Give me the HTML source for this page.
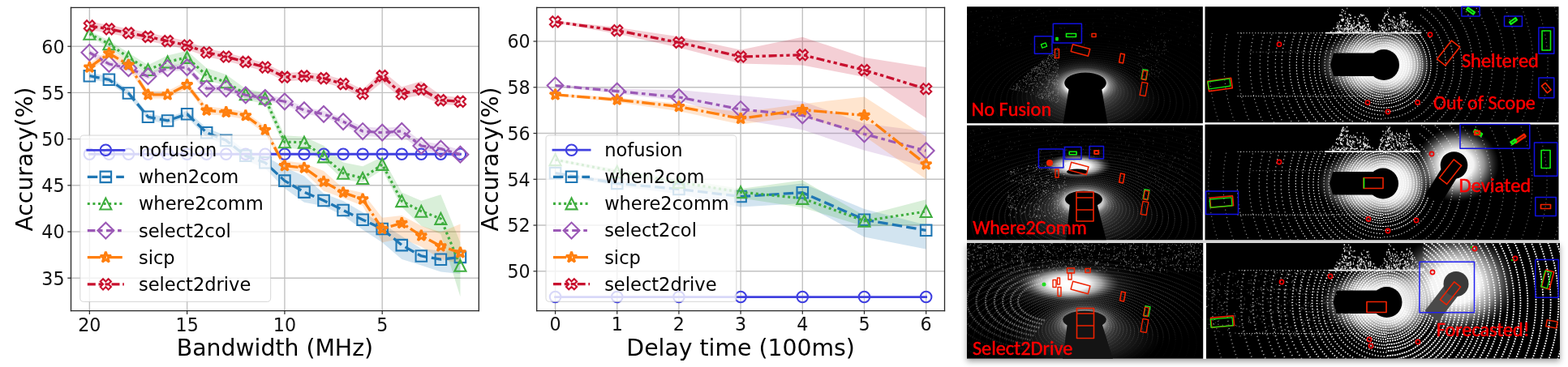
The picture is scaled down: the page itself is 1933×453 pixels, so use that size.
<!DOCTYPE html>
<html><head><meta charset="utf-8"><title>figure</title>
<style>
html,body{margin:0;padding:0;background:#fff;}
body{width:1933px;height:453px;position:relative;overflow:hidden;}
.plots{position:absolute;left:0;top:0;}
.panel{position:absolute;left:0;top:0;}
.shadow{position:absolute;left:1192px;top:300px;width:731px;height:142.7px;background:#fff;box-shadow:0 3px 7px rgba(0,0,0,0.38);}
.plots svg text{font-family:"DejaVu Sans",sans-serif;}
.panel svg text{font-family:Carlito,"Liberation Sans",Arial,sans-serif;}
svg{display:block;}
</style></head><body>
<div class="shadow"></div>
<div class="plots"><svg width="1933" height="453" viewBox="0 0 1933 453" version="1.1"> <defs> <style type="text/css">*{stroke-linejoin: round; stroke-linecap: butt}</style> </defs> <g id="figure_1"> <g id="patch_1"> <path d="M 0 453 L 1933 453 L 1933 0 L 0 0 L 0 453 z " style="fill: none; opacity: 0"/> </g> <g id="axes_1"> <g id="patch_2"> <path d="M 87.5 383.7 L 590.3 383.7 L 590.3 9.3 L 87.5 9.3 L 87.5 383.7 z " style="fill: none"/> </g> <g id="matplotlib.axis_1"> <g id="xtick_1"> <g id="line2d_1"> <path d="M 110.35 383.7 L 110.35 9.3 " clip-path="url(#p4d4e96e5f6)" style="fill: none; stroke: #c2c2c2; stroke-width: 1.4; stroke-linecap: square"/> </g> <g id="line2d_2"> <g> <path d="M 0 0 L 0 4.2 " transform="translate(110.35 383.7)" style="fill: #262626; stroke: #262626; stroke-width: 1.2; stroke: #262626; stroke-width: 1.2"/> </g> </g> <g id="text_1"> <text style="font-size: 22.2px; font-family: 'DejaVu Sans'; text-anchor: middle; fill: #111111" x="110.35" y="408.56" transform="rotate(-0 110.35 408.56)">20</text> </g> </g> <g id="xtick_2"> <g id="line2d_3"> <path d="M 230.64 383.7 L 230.64 9.3 " clip-path="url(#p4d4e96e5f6)" style="fill: none; stroke: #c2c2c2; stroke-width: 1.4; stroke-linecap: square"/> </g> <g id="line2d_4"> <g> <path d="M 0 0 L 0 4.2 " transform="translate(230.64 383.7)" style="fill: #262626; stroke: #262626; stroke-width: 1.2; stroke: #262626; stroke-width: 1.2"/> </g> </g> <g id="text_2"> <text style="font-size: 22.2px; font-family: 'DejaVu Sans'; text-anchor: middle; fill: #111111" x="230.64" y="408.56" transform="rotate(-0 230.64 408.56)">15</text> </g> </g> <g id="xtick_3"> <g id="line2d_5"> <path d="M 350.92 383.7 L 350.92 9.3 " clip-path="url(#p4d4e96e5f6)" style="fill: none; stroke: #c2c2c2; stroke-width: 1.4; stroke-linecap: square"/> </g> <g id="line2d_6"> <g> <path d="M 0 0 L 0 4.2 " transform="translate(350.92 383.7)" style="fill: #262626; stroke: #262626; stroke-width: 1.2; stroke: #262626; stroke-width: 1.2"/> </g> </g> <g id="text_3"> <text style="font-size: 22.2px; font-family: 'DejaVu Sans'; text-anchor: middle; fill: #111111" x="350.92" y="408.56" transform="rotate(-0 350.92 408.56)">10</text> </g> </g> <g id="xtick_4"> <g id="line2d_7"> <path d="M 471.21 383.7 L 471.21 9.3 " clip-path="url(#p4d4e96e5f6)" style="fill: none; stroke: #c2c2c2; stroke-width: 1.4; stroke-linecap: square"/> </g> <g id="line2d_8"> <g> <path d="M 0 0 L 0 4.2 " transform="translate(471.21 383.7)" style="fill: #262626; stroke: #262626; stroke-width: 1.2; stroke: #262626; stroke-width: 1.2"/> </g> </g> <g id="text_4"> <text style="font-size: 22.2px; font-family: 'DejaVu Sans'; text-anchor: middle; fill: #111111" x="471.21" y="408.56" transform="rotate(-0 471.21 408.56)">5</text> </g> </g> <g id="text_5"> <text style="font-size: 28.3px; font-family: 'DejaVu Sans'; text-anchor: middle" x="338.9" y="438.78" transform="rotate(-0 338.9 438.78)">Bandwidth (MHz)</text> </g> </g> <g id="matplotlib.axis_2"> <g id="ytick_1"> <g id="line2d_9"> <path d="M 87.5 343.20 L 590.3 343.20 " clip-path="url(#p4d4e96e5f6)" style="fill: none; stroke: #c2c2c2; stroke-width: 1.4; stroke-linecap: square"/> </g> <g id="line2d_10"> <g> <path d="M 0 0 L -4.2 0 " transform="translate(87.5 343.20)" style="fill: #262626; stroke: #262626; stroke-width: 1.2; stroke: #262626; stroke-width: 1.2"/> </g> </g> <g id="text_6"> <text style="font-size: 22.2px; font-family: 'DejaVu Sans'; text-anchor: end; fill: #111111" x="79.5" y="351.64" transform="rotate(-0 79.5 351.64)">35</text> </g> </g> <g id="ytick_2"> <g id="line2d_11"> <path d="M 87.5 286.01 L 590.3 286.01 " clip-path="url(#p4d4e96e5f6)" style="fill: none; stroke: #c2c2c2; stroke-width: 1.4; stroke-linecap: square"/> </g> <g id="line2d_12"> <g> <path d="M 0 0 L -4.2 0 " transform="translate(87.5 286.01)" style="fill: #262626; stroke: #262626; stroke-width: 1.2; stroke: #262626; stroke-width: 1.2"/> </g> </g> <g id="text_7"> <text style="font-size: 22.2px; font-family: 'DejaVu Sans'; text-anchor: end; fill: #111111" x="79.5" y="294.44" transform="rotate(-0 79.5 294.44)">40</text> </g> </g> <g id="ytick_3"> <g id="line2d_13"> <path d="M 87.5 228.81 L 590.3 228.81 " clip-path="url(#p4d4e96e5f6)" style="fill: none; stroke: #c2c2c2; stroke-width: 1.4; stroke-linecap: square"/> </g> <g id="line2d_14"> <g> <path d="M 0 0 L -4.2 0 " transform="translate(87.5 228.81)" style="fill: #262626; stroke: #262626; stroke-width: 1.2; stroke: #262626; stroke-width: 1.2"/> </g> </g> <g id="text_8"> <text style="font-size: 22.2px; font-family: 'DejaVu Sans'; text-anchor: end; fill: #111111" x="79.5" y="237.24" transform="rotate(-0 79.5 237.24)">45</text> </g> </g> <g id="ytick_4"> <g id="line2d_15"> <path d="M 87.5 171.62 L 590.3 171.62 " clip-path="url(#p4d4e96e5f6)" style="fill: none; stroke: #c2c2c2; stroke-width: 1.4; stroke-linecap: square"/> </g> <g id="line2d_16"> <g> <path d="M 0 0 L -4.2 0 " transform="translate(87.5 171.62)" style="fill: #262626; stroke: #262626; stroke-width: 1.2; stroke: #262626; stroke-width: 1.2"/> </g> </g> <g id="text_9"> <text style="font-size: 22.2px; font-family: 'DejaVu Sans'; text-anchor: end; fill: #111111" x="79.5" y="180.05" transform="rotate(-0 79.5 180.05)">50</text> </g> </g> <g id="ytick_5"> <g id="line2d_17"> <path d="M 87.5 114.42 L 590.3 114.42 " clip-path="url(#p4d4e96e5f6)" style="fill: none; stroke: #c2c2c2; stroke-width: 1.4; stroke-linecap: square"/> </g> <g id="line2d_18"> <g> <path d="M 0 0 L -4.2 0 " transform="translate(87.5 114.42)" style="fill: #262626; stroke: #262626; stroke-width: 1.2; stroke: #262626; stroke-width: 1.2"/> </g> </g> <g id="text_10"> <text style="font-size: 22.2px; font-family: 'DejaVu Sans'; text-anchor: end; fill: #111111" x="79.5" y="122.85" transform="rotate(-0 79.5 122.85)">55</text> </g> </g> <g id="ytick_6"> <g id="line2d_19"> <path d="M 87.5 57.22 L 590.3 57.22 " clip-path="url(#p4d4e96e5f6)" style="fill: none; stroke: #c2c2c2; stroke-width: 1.4; stroke-linecap: square"/> </g> <g id="line2d_20"> <g> <path d="M 0 0 L -4.2 0 " transform="translate(87.5 57.22)" style="fill: #262626; stroke: #262626; stroke-width: 1.2; stroke: #262626; stroke-width: 1.2"/> </g> </g> <g id="text_11"> <text style="font-size: 22.2px; font-family: 'DejaVu Sans'; text-anchor: end; fill: #111111" x="79.5" y="65.66" transform="rotate(-0 79.5 65.66)">60</text> </g> </g> <g id="text_12"> <text style="font-size: 28.3px; font-family: 'DejaVu Sans'; text-anchor: middle" x="40.06" y="196.5" transform="rotate(-90 40.06 196.5)">Accuracy(%)</text> </g> </g> <g id="FillBetweenPolyCollection_1"> <g clip-path="url(#p4d4e96e5f6)"> <path d="M 110.35 -363.28 L 110.35 -355.27 L 134.41 -350.70 L 158.46 -333.99 L 182.52 -304.71 L 206.58 -300.02 L 230.64 -308.26 L 254.69 -283.55 L 278.75 -273.94 L 302.81 -254.95 L 326.87 -245.34 L 350.92 -220.40 L 374.98 -203.36 L 399.04 -198.67 L 423.10 -186.66 L 447.15 -169.39 L 471.21 -153.72 L 495.27 -133.12 L 519.33 -125.58 L 543.38 -117.57 L 567.44 -115.05 L 567.44 -143.42 L 567.44 -143.42 L 543.38 -143.42 L 519.33 -145.94 L 495.27 -161.38 L 471.21 -176.82 L 447.15 -190.89 L 423.10 -204.96 L 399.04 -214.23 L 374.98 -235.73 L 350.92 -246.60 L 326.87 -260.56 L 302.81 -266.39 L 278.75 -285.38 L 254.69 -294.99 L 230.64 -316.26 L 206.58 -308.03 L 182.52 -312.72 L 158.46 -342.00 L 134.41 -358.70 L 110.35 -363.28 z " transform="translate(0 453)" style="fill: #1f77b4; fill-opacity: 0.2"/> </g> </g> <g id="FillBetweenPolyCollection_2"> <g clip-path="url(#p4d4e96e5f6)"> <path d="M 110.35 -414.64 L 110.35 -407.78 L 134.41 -394.16 L 158.46 -376.43 L 182.52 -361.22 L 206.58 -368.54 L 230.64 -374.15 L 254.69 -354.01 L 278.75 -347.15 L 302.81 -329.88 L 326.87 -324.61 L 350.92 -270.85 L 374.98 -268.22 L 399.04 -253.92 L 423.10 -231.27 L 447.15 -228.07 L 471.21 -243.28 L 495.27 -197.41 L 519.33 -174.31 L 543.38 -164.01 L 567.44 -86.68 L 567.44 -153.83 L 567.44 -153.83 L 543.38 -212.86 L 519.33 -205.19 L 495.27 -215.49 L 471.21 -259.30 L 447.15 -247.86 L 423.10 -252.43 L 399.04 -273.37 L 374.98 -284.23 L 350.92 -285.72 L 326.87 -338.34 L 302.81 -343.60 L 278.75 -360.88 L 254.69 -368.88 L 230.64 -390.16 L 206.58 -384.56 L 182.52 -372.66 L 158.46 -387.87 L 134.41 -403.32 L 110.35 -414.64 z " transform="translate(0 453)" style="fill: #40ae40; fill-opacity: 0.2"/> </g> </g> <g id="FillBetweenPolyCollection_3"> <g clip-path="url(#p4d4e96e5f6)"> <path d="M 110.35 -392.22 L 110.35 -384.21 L 134.41 -370.03 L 158.46 -364.77 L 182.52 -354.81 L 206.58 -364.77 L 230.64 -365.91 L 254.69 -339.71 L 278.75 -339.71 L 302.81 -331.71 L 326.87 -328.16 L 350.92 -323.70 L 374.98 -312.83 L 399.04 -308.14 L 423.10 -298.88 L 447.15 -285.26 L 471.21 -283.66 L 495.27 -285.38 L 519.33 -267.30 L 543.38 -263.64 L 567.44 -256.55 L 567.44 -267.99 L 567.44 -267.99 L 543.38 -275.08 L 519.33 -278.74 L 495.27 -296.82 L 471.21 -295.10 L 447.15 -296.70 L 423.10 -306.88 L 399.04 -316.15 L 374.98 -320.84 L 350.92 -331.71 L 326.87 -336.17 L 302.81 -339.71 L 278.75 -347.72 L 254.69 -347.72 L 230.64 -373.92 L 206.58 -372.77 L 182.52 -362.82 L 158.46 -372.77 L 134.41 -378.03 L 110.35 -392.22 z " transform="translate(0 453)" style="fill: #9b59b6; fill-opacity: 0.2"/> </g> </g> <g id="FillBetweenPolyCollection_4"> <g clip-path="url(#p4d4e96e5f6)"> <path d="M 110.35 -374.49 L 110.35 -365.34 L 134.41 -382.61 L 158.46 -368.31 L 182.52 -331.48 L 206.58 -331.48 L 230.64 -343.72 L 254.69 -312.26 L 278.75 -309.97 L 302.81 -305.63 L 326.87 -287.90 L 350.92 -243.63 L 374.98 -240.42 L 399.04 -217.32 L 423.10 -208.51 L 447.15 -199.01 L 471.21 -153.72 L 495.27 -158.75 L 519.33 -148.45 L 543.38 -133.12 L 567.44 -127.86 L 567.44 -176.59 L 567.44 -176.59 L 543.38 -166.53 L 519.33 -174.31 L 495.27 -187.12 L 471.21 -184.26 L 447.15 -215.03 L 423.10 -220.40 L 399.04 -242.02 L 374.98 -251.40 L 350.92 -254.38 L 326.87 -297.05 L 302.81 -314.78 L 278.75 -319.12 L 254.69 -321.41 L 230.64 -352.87 L 206.58 -340.63 L 182.52 -340.63 L 158.46 -377.46 L 134.41 -391.76 L 110.35 -374.49 z " transform="translate(0 453)" style="fill: #ff7f0e; fill-opacity: 0.2"/> </g> </g> <g id="FillBetweenPolyCollection_5"> <g clip-path="url(#p4d4e96e5f6)"> <path d="M 110.35 -426.19 L 110.35 -415.90 L 134.41 -412.01 L 158.46 -407.09 L 182.52 -402.51 L 206.58 -397.25 L 230.64 -391.88 L 254.69 -383.07 L 278.75 -377.81 L 302.81 -371.40 L 326.87 -364.77 L 350.92 -352.64 L 374.98 -354.01 L 399.04 -351.27 L 423.10 -344.18 L 447.15 -332.28 L 471.21 -351.38 L 495.27 -331.25 L 519.33 -335.60 L 543.38 -324.04 L 567.44 -322.67 L 567.44 -332.62 L 567.44 -332.62 L 543.38 -335.60 L 519.33 -352.75 L 495.27 -345.66 L 471.21 -365.68 L 447.15 -342.57 L 423.10 -354.47 L 399.04 -361.56 L 374.98 -364.31 L 350.92 -362.94 L 326.87 -375.06 L 302.81 -381.70 L 278.75 -388.10 L 254.69 -393.36 L 230.64 -402.17 L 206.58 -407.55 L 182.52 -412.81 L 158.46 -417.39 L 134.41 -422.30 L 110.35 -426.19 z " transform="translate(0 453)" style="fill: #c8102e; fill-opacity: 0.2"/> </g> </g> <g id="line2d_21"> <path d="M 110.35 190.26 L 134.41 190.26 L 158.46 190.26 L 182.52 190.26 L 206.58 190.26 L 230.64 190.26 L 254.69 190.26 L 278.75 190.26 L 302.81 190.26 L 326.87 190.26 L 350.92 190.26 L 374.98 190.26 L 399.04 190.26 L 423.10 190.26 L 447.15 190.26 L 471.21 190.26 L 495.27 190.26 L 519.33 190.26 L 543.38 190.26 L 567.44 190.26 " clip-path="url(#p4d4e96e5f6)" style="fill: none; stroke: #4040e0; stroke-width: 2.8; stroke-linecap: square"/> <g clip-path="url(#p4d4e96e5f6)"> <path d="M 0 6.75 C 1.79 6.75 3.50 6.03 4.77 4.77 C 6.03 3.50 6.75 1.79 6.75 0 C 6.75 -1.79 6.03 -3.50 4.77 -4.77 C 3.50 -6.03 1.79 -6.75 0 -6.75 C -1.79 -6.75 -3.50 -6.03 -4.77 -4.77 C -6.03 -3.50 -6.75 -1.79 -6.75 0 C -6.75 1.79 -6.03 3.50 -4.77 4.77 C -3.50 6.03 -1.79 6.75 0 6.75 z " transform="translate(110.35 190.26)" style="fill-opacity: 0; stroke: #4040e0; stroke-width: 2.1; stroke: #4040e0; stroke-width: 2.1"/> <path d="M 0 6.75 C 1.79 6.75 3.50 6.03 4.77 4.77 C 6.03 3.50 6.75 1.79 6.75 0 C 6.75 -1.79 6.03 -3.50 4.77 -4.77 C 3.50 -6.03 1.79 -6.75 0 -6.75 C -1.79 -6.75 -3.50 -6.03 -4.77 -4.77 C -6.03 -3.50 -6.75 -1.79 -6.75 0 C -6.75 1.79 -6.03 3.50 -4.77 4.77 C -3.50 6.03 -1.79 6.75 0 6.75 z " transform="translate(134.41 190.26)" style="fill-opacity: 0; stroke: #4040e0; stroke-width: 2.1; stroke: #4040e0; stroke-width: 2.1"/> <path d="M 0 6.75 C 1.79 6.75 3.50 6.03 4.77 4.77 C 6.03 3.50 6.75 1.79 6.75 0 C 6.75 -1.79 6.03 -3.50 4.77 -4.77 C 3.50 -6.03 1.79 -6.75 0 -6.75 C -1.79 -6.75 -3.50 -6.03 -4.77 -4.77 C -6.03 -3.50 -6.75 -1.79 -6.75 0 C -6.75 1.79 -6.03 3.50 -4.77 4.77 C -3.50 6.03 -1.79 6.75 0 6.75 z " transform="translate(158.46 190.26)" style="fill-opacity: 0; stroke: #4040e0; stroke-width: 2.1; stroke: #4040e0; stroke-width: 2.1"/> <path d="M 0 6.75 C 1.79 6.75 3.50 6.03 4.77 4.77 C 6.03 3.50 6.75 1.79 6.75 0 C 6.75 -1.79 6.03 -3.50 4.77 -4.77 C 3.50 -6.03 1.79 -6.75 0 -6.75 C -1.79 -6.75 -3.50 -6.03 -4.77 -4.77 C -6.03 -3.50 -6.75 -1.79 -6.75 0 C -6.75 1.79 -6.03 3.50 -4.77 4.77 C -3.50 6.03 -1.79 6.75 0 6.75 z " transform="translate(182.52 190.26)" style="fill-opacity: 0; stroke: #4040e0; stroke-width: 2.1; stroke: #4040e0; stroke-width: 2.1"/> <path d="M 0 6.75 C 1.79 6.75 3.50 6.03 4.77 4.77 C 6.03 3.50 6.75 1.79 6.75 0 C 6.75 -1.79 6.03 -3.50 4.77 -4.77 C 3.50 -6.03 1.79 -6.75 0 -6.75 C -1.79 -6.75 -3.50 -6.03 -4.77 -4.77 C -6.03 -3.50 -6.75 -1.79 -6.75 0 C -6.75 1.79 -6.03 3.50 -4.77 4.77 C -3.50 6.03 -1.79 6.75 0 6.75 z " transform="translate(206.58 190.26)" style="fill-opacity: 0; stroke: #4040e0; stroke-width: 2.1; stroke: #4040e0; stroke-width: 2.1"/> <path d="M 0 6.75 C 1.79 6.75 3.50 6.03 4.77 4.77 C 6.03 3.50 6.75 1.79 6.75 0 C 6.75 -1.79 6.03 -3.50 4.77 -4.77 C 3.50 -6.03 1.79 -6.75 0 -6.75 C -1.79 -6.75 -3.50 -6.03 -4.77 -4.77 C -6.03 -3.50 -6.75 -1.79 -6.75 0 C -6.75 1.79 -6.03 3.50 -4.77 4.77 C -3.50 6.03 -1.79 6.75 0 6.75 z " transform="translate(230.64 190.26)" style="fill-opacity: 0; stroke: #4040e0; stroke-width: 2.1; stroke: #4040e0; stroke-width: 2.1"/> <path d="M 0 6.75 C 1.79 6.75 3.50 6.03 4.77 4.77 C 6.03 3.50 6.75 1.79 6.75 0 C 6.75 -1.79 6.03 -3.50 4.77 -4.77 C 3.50 -6.03 1.79 -6.75 0 -6.75 C -1.79 -6.75 -3.50 -6.03 -4.77 -4.77 C -6.03 -3.50 -6.75 -1.79 -6.75 0 C -6.75 1.79 -6.03 3.50 -4.77 4.77 C -3.50 6.03 -1.79 6.75 0 6.75 z " transform="translate(254.69 190.26)" style="fill-opacity: 0; stroke: #4040e0; stroke-width: 2.1; stroke: #4040e0; stroke-width: 2.1"/> <path d="M 0 6.75 C 1.79 6.75 3.50 6.03 4.77 4.77 C 6.03 3.50 6.75 1.79 6.75 0 C 6.75 -1.79 6.03 -3.50 4.77 -4.77 C 3.50 -6.03 1.79 -6.75 0 -6.75 C -1.79 -6.75 -3.50 -6.03 -4.77 -4.77 C -6.03 -3.50 -6.75 -1.79 -6.75 0 C -6.75 1.79 -6.03 3.50 -4.77 4.77 C -3.50 6.03 -1.79 6.75 0 6.75 z " transform="translate(278.75 190.26)" style="fill-opacity: 0; stroke: #4040e0; stroke-width: 2.1; stroke: #4040e0; stroke-width: 2.1"/> <path d="M 0 6.75 C 1.79 6.75 3.50 6.03 4.77 4.77 C 6.03 3.50 6.75 1.79 6.75 0 C 6.75 -1.79 6.03 -3.50 4.77 -4.77 C 3.50 -6.03 1.79 -6.75 0 -6.75 C -1.79 -6.75 -3.50 -6.03 -4.77 -4.77 C -6.03 -3.50 -6.75 -1.79 -6.75 0 C -6.75 1.79 -6.03 3.50 -4.77 4.77 C -3.50 6.03 -1.79 6.75 0 6.75 z " transform="translate(302.81 190.26)" style="fill-opacity: 0; stroke: #4040e0; stroke-width: 2.1; stroke: #4040e0; stroke-width: 2.1"/> <path d="M 0 6.75 C 1.79 6.75 3.50 6.03 4.77 4.77 C 6.03 3.50 6.75 1.79 6.75 0 C 6.75 -1.79 6.03 -3.50 4.77 -4.77 C 3.50 -6.03 1.79 -6.75 0 -6.75 C -1.79 -6.75 -3.50 -6.03 -4.77 -4.77 C -6.03 -3.50 -6.75 -1.79 -6.75 0 C -6.75 1.79 -6.03 3.50 -4.77 4.77 C -3.50 6.03 -1.79 6.75 0 6.75 z " transform="translate(326.87 190.26)" style="fill-opacity: 0; stroke: #4040e0; stroke-width: 2.1; stroke: #4040e0; stroke-width: 2.1"/> <path d="M 0 6.75 C 1.79 6.75 3.50 6.03 4.77 4.77 C 6.03 3.50 6.75 1.79 6.75 0 C 6.75 -1.79 6.03 -3.50 4.77 -4.77 C 3.50 -6.03 1.79 -6.75 0 -6.75 C -1.79 -6.75 -3.50 -6.03 -4.77 -4.77 C -6.03 -3.50 -6.75 -1.79 -6.75 0 C -6.75 1.79 -6.03 3.50 -4.77 4.77 C -3.50 6.03 -1.79 6.75 0 6.75 z " transform="translate(350.92 190.26)" style="fill-opacity: 0; stroke: #4040e0; stroke-width: 2.1; stroke: #4040e0; stroke-width: 2.1"/> <path d="M 0 6.75 C 1.79 6.75 3.50 6.03 4.77 4.77 C 6.03 3.50 6.75 1.79 6.75 0 C 6.75 -1.79 6.03 -3.50 4.77 -4.77 C 3.50 -6.03 1.79 -6.75 0 -6.75 C -1.79 -6.75 -3.50 -6.03 -4.77 -4.77 C -6.03 -3.50 -6.75 -1.79 -6.75 0 C -6.75 1.79 -6.03 3.50 -4.77 4.77 C -3.50 6.03 -1.79 6.75 0 6.75 z " transform="translate(374.98 190.26)" style="fill-opacity: 0; stroke: #4040e0; stroke-width: 2.1; stroke: #4040e0; stroke-width: 2.1"/> <path d="M 0 6.75 C 1.79 6.75 3.50 6.03 4.77 4.77 C 6.03 3.50 6.75 1.79 6.75 0 C 6.75 -1.79 6.03 -3.50 4.77 -4.77 C 3.50 -6.03 1.79 -6.75 0 -6.75 C -1.79 -6.75 -3.50 -6.03 -4.77 -4.77 C -6.03 -3.50 -6.75 -1.79 -6.75 0 C -6.75 1.79 -6.03 3.50 -4.77 4.77 C -3.50 6.03 -1.79 6.75 0 6.75 z " transform="translate(399.04 190.26)" style="fill-opacity: 0; stroke: #4040e0; stroke-width: 2.1; stroke: #4040e0; stroke-width: 2.1"/> <path d="M 0 6.75 C 1.79 6.75 3.50 6.03 4.77 4.77 C 6.03 3.50 6.75 1.79 6.75 0 C 6.75 -1.79 6.03 -3.50 4.77 -4.77 C 3.50 -6.03 1.79 -6.75 0 -6.75 C -1.79 -6.75 -3.50 -6.03 -4.77 -4.77 C -6.03 -3.50 -6.75 -1.79 -6.75 0 C -6.75 1.79 -6.03 3.50 -4.77 4.77 C -3.50 6.03 -1.79 6.75 0 6.75 z " transform="translate(423.10 190.26)" style="fill-opacity: 0; stroke: #4040e0; stroke-width: 2.1; stroke: #4040e0; stroke-width: 2.1"/> <path d="M 0 6.75 C 1.79 6.75 3.50 6.03 4.77 4.77 C 6.03 3.50 6.75 1.79 6.75 0 C 6.75 -1.79 6.03 -3.50 4.77 -4.77 C 3.50 -6.03 1.79 -6.75 0 -6.75 C -1.79 -6.75 -3.50 -6.03 -4.77 -4.77 C -6.03 -3.50 -6.75 -1.79 -6.75 0 C -6.75 1.79 -6.03 3.50 -4.77 4.77 C -3.50 6.03 -1.79 6.75 0 6.75 z " transform="translate(447.15 190.26)" style="fill-opacity: 0; stroke: #4040e0; stroke-width: 2.1; stroke: #4040e0; stroke-width: 2.1"/> <path d="M 0 6.75 C 1.79 6.75 3.50 6.03 4.77 4.77 C 6.03 3.50 6.75 1.79 6.75 0 C 6.75 -1.79 6.03 -3.50 4.77 -4.77 C 3.50 -6.03 1.79 -6.75 0 -6.75 C -1.79 -6.75 -3.50 -6.03 -4.77 -4.77 C -6.03 -3.50 -6.75 -1.79 -6.75 0 C -6.75 1.79 -6.03 3.50 -4.77 4.77 C -3.50 6.03 -1.79 6.75 0 6.75 z " transform="translate(471.21 190.26)" style="fill-opacity: 0; stroke: #4040e0; stroke-width: 2.1; stroke: #4040e0; stroke-width: 2.1"/> <path d="M 0 6.75 C 1.79 6.75 3.50 6.03 4.77 4.77 C 6.03 3.50 6.75 1.79 6.75 0 C 6.75 -1.79 6.03 -3.50 4.77 -4.77 C 3.50 -6.03 1.79 -6.75 0 -6.75 C -1.79 -6.75 -3.50 -6.03 -4.77 -4.77 C -6.03 -3.50 -6.75 -1.79 -6.75 0 C -6.75 1.79 -6.03 3.50 -4.77 4.77 C -3.50 6.03 -1.79 6.75 0 6.75 z " transform="translate(495.27 190.26)" style="fill-opacity: 0; stroke: #4040e0; stroke-width: 2.1; stroke: #4040e0; stroke-width: 2.1"/> <path d="M 0 6.75 C 1.79 6.75 3.50 6.03 4.77 4.77 C 6.03 3.50 6.75 1.79 6.75 0 C 6.75 -1.79 6.03 -3.50 4.77 -4.77 C 3.50 -6.03 1.79 -6.75 0 -6.75 C -1.79 -6.75 -3.50 -6.03 -4.77 -4.77 C -6.03 -3.50 -6.75 -1.79 -6.75 0 C -6.75 1.79 -6.03 3.50 -4.77 4.77 C -3.50 6.03 -1.79 6.75 0 6.75 z " transform="translate(519.33 190.26)" style="fill-opacity: 0; stroke: #4040e0; stroke-width: 2.1; stroke: #4040e0; stroke-width: 2.1"/> <path d="M 0 6.75 C 1.79 6.75 3.50 6.03 4.77 4.77 C 6.03 3.50 6.75 1.79 6.75 0 C 6.75 -1.79 6.03 -3.50 4.77 -4.77 C 3.50 -6.03 1.79 -6.75 0 -6.75 C -1.79 -6.75 -3.50 -6.03 -4.77 -4.77 C -6.03 -3.50 -6.75 -1.79 -6.75 0 C -6.75 1.79 -6.03 3.50 -4.77 4.77 C -3.50 6.03 -1.79 6.75 0 6.75 z " transform="translate(543.38 190.26)" style="fill-opacity: 0; stroke: #4040e0; stroke-width: 2.1; stroke: #4040e0; stroke-width: 2.1"/> <path d="M 0 6.75 C 1.79 6.75 3.50 6.03 4.77 4.77 C 6.03 3.50 6.75 1.79 6.75 0 C 6.75 -1.79 6.03 -3.50 4.77 -4.77 C 3.50 -6.03 1.79 -6.75 0 -6.75 C -1.79 -6.75 -3.50 -6.03 -4.77 -4.77 C -6.03 -3.50 -6.75 -1.79 -6.75 0 C -6.75 1.79 -6.03 3.50 -4.77 4.77 C -3.50 6.03 -1.79 6.75 0 6.75 z " transform="translate(567.44 190.26)" style="fill-opacity: 0; stroke: #4040e0; stroke-width: 2.1; stroke: #4040e0; stroke-width: 2.1"/> </g> </g> <g id="line2d_22"> <path d="M 110.35 93.72 L 134.41 98.29 L 158.46 114.99 L 182.52 144.28 L 206.58 148.97 L 230.64 140.73 L 254.69 163.72 L 278.75 173.33 L 302.81 192.32 L 326.87 200.78 L 350.92 223.09 L 374.98 237.16 L 399.04 247.46 L 423.10 259.47 L 447.15 271.25 L 471.21 282.46 L 495.27 302.59 L 519.33 315.98 L 543.38 320.21 L 567.44 317.35 " clip-path="url(#p4d4e96e5f6)" style="fill: none; stroke-dasharray: 12.5,5.2; stroke-dashoffset: 0; stroke: #1f77b4; stroke-width: 3.3"/> <g clip-path="url(#p4d4e96e5f6)"> <path d="M -6.75 6.75 L 6.75 6.75 L 6.75 -6.75 L -6.75 -6.75 z " transform="translate(110.35 93.72)" style="fill-opacity: 0; stroke: #1f77b4; stroke-width: 2.1; stroke-linejoin: miter; stroke: #1f77b4; stroke-width: 2.1; stroke-linejoin: miter"/> <path d="M -6.75 6.75 L 6.75 6.75 L 6.75 -6.75 L -6.75 -6.75 z " transform="translate(134.41 98.29)" style="fill-opacity: 0; stroke: #1f77b4; stroke-width: 2.1; stroke-linejoin: miter; stroke: #1f77b4; stroke-width: 2.1; stroke-linejoin: miter"/> <path d="M -6.75 6.75 L 6.75 6.75 L 6.75 -6.75 L -6.75 -6.75 z " transform="translate(158.46 114.99)" style="fill-opacity: 0; stroke: #1f77b4; stroke-width: 2.1; stroke-linejoin: miter; stroke: #1f77b4; stroke-width: 2.1; stroke-linejoin: miter"/> <path d="M -6.75 6.75 L 6.75 6.75 L 6.75 -6.75 L -6.75 -6.75 z " transform="translate(182.52 144.28)" style="fill-opacity: 0; stroke: #1f77b4; stroke-width: 2.1; stroke-linejoin: miter; stroke: #1f77b4; stroke-width: 2.1; stroke-linejoin: miter"/> <path d="M -6.75 6.75 L 6.75 6.75 L 6.75 -6.75 L -6.75 -6.75 z " transform="translate(206.58 148.97)" style="fill-opacity: 0; stroke: #1f77b4; stroke-width: 2.1; stroke-linejoin: miter; stroke: #1f77b4; stroke-width: 2.1; stroke-linejoin: miter"/> <path d="M -6.75 6.75 L 6.75 6.75 L 6.75 -6.75 L -6.75 -6.75 z " transform="translate(230.64 140.73)" style="fill-opacity: 0; stroke: #1f77b4; stroke-width: 2.1; stroke-linejoin: miter; stroke: #1f77b4; stroke-width: 2.1; stroke-linejoin: miter"/> <path d="M -6.75 6.75 L 6.75 6.75 L 6.75 -6.75 L -6.75 -6.75 z " transform="translate(254.69 163.72)" style="fill-opacity: 0; stroke: #1f77b4; stroke-width: 2.1; stroke-linejoin: miter; stroke: #1f77b4; stroke-width: 2.1; stroke-linejoin: miter"/> <path d="M -6.75 6.75 L 6.75 6.75 L 6.75 -6.75 L -6.75 -6.75 z " transform="translate(278.75 173.33)" style="fill-opacity: 0; stroke: #1f77b4; stroke-width: 2.1; stroke-linejoin: miter; stroke: #1f77b4; stroke-width: 2.1; stroke-linejoin: miter"/> <path d="M -6.75 6.75 L 6.75 6.75 L 6.75 -6.75 L -6.75 -6.75 z " transform="translate(302.81 192.32)" style="fill-opacity: 0; stroke: #1f77b4; stroke-width: 2.1; stroke-linejoin: miter; stroke: #1f77b4; stroke-width: 2.1; stroke-linejoin: miter"/> <path d="M -6.75 6.75 L 6.75 6.75 L 6.75 -6.75 L -6.75 -6.75 z " transform="translate(326.87 200.79)" style="fill-opacity: 0; stroke: #1f77b4; stroke-width: 2.1; stroke-linejoin: miter; stroke: #1f77b4; stroke-width: 2.1; stroke-linejoin: miter"/> <path d="M -6.75 6.75 L 6.75 6.75 L 6.75 -6.75 L -6.75 -6.75 z " transform="translate(350.92 223.09)" style="fill-opacity: 0; stroke: #1f77b4; stroke-width: 2.1; stroke-linejoin: miter; stroke: #1f77b4; stroke-width: 2.1; stroke-linejoin: miter"/> <path d="M -6.75 6.75 L 6.75 6.75 L 6.75 -6.75 L -6.75 -6.75 z " transform="translate(374.98 237.16)" style="fill-opacity: 0; stroke: #1f77b4; stroke-width: 2.1; stroke-linejoin: miter; stroke: #1f77b4; stroke-width: 2.1; stroke-linejoin: miter"/> <path d="M -6.75 6.75 L 6.75 6.75 L 6.75 -6.75 L -6.75 -6.75 z " transform="translate(399.04 247.46)" style="fill-opacity: 0; stroke: #1f77b4; stroke-width: 2.1; stroke-linejoin: miter; stroke: #1f77b4; stroke-width: 2.1; stroke-linejoin: miter"/> <path d="M -6.75 6.75 L 6.75 6.75 L 6.75 -6.75 L -6.75 -6.75 z " transform="translate(423.10 259.47)" style="fill-opacity: 0; stroke: #1f77b4; stroke-width: 2.1; stroke-linejoin: miter; stroke: #1f77b4; stroke-width: 2.1; stroke-linejoin: miter"/> <path d="M -6.75 6.75 L 6.75 6.75 L 6.75 -6.75 L -6.75 -6.75 z " transform="translate(447.15 271.25)" style="fill-opacity: 0; stroke: #1f77b4; stroke-width: 2.1; stroke-linejoin: miter; stroke: #1f77b4; stroke-width: 2.1; stroke-linejoin: miter"/> <path d="M -6.75 6.75 L 6.75 6.75 L 6.75 -6.75 L -6.75 -6.75 z " transform="translate(471.21 282.46)" style="fill-opacity: 0; stroke: #1f77b4; stroke-width: 2.1; stroke-linejoin: miter; stroke: #1f77b4; stroke-width: 2.1; stroke-linejoin: miter"/> <path d="M -6.75 6.75 L 6.75 6.75 L 6.75 -6.75 L -6.75 -6.75 z " transform="translate(495.27 302.59)" style="fill-opacity: 0; stroke: #1f77b4; stroke-width: 2.1; stroke-linejoin: miter; stroke: #1f77b4; stroke-width: 2.1; stroke-linejoin: miter"/> <path d="M -6.75 6.75 L 6.75 6.75 L 6.75 -6.75 L -6.75 -6.75 z " transform="translate(519.33 315.98)" style="fill-opacity: 0; stroke: #1f77b4; stroke-width: 2.1; stroke-linejoin: miter; stroke: #1f77b4; stroke-width: 2.1; stroke-linejoin: miter"/> <path d="M -6.75 6.75 L 6.75 6.75 L 6.75 -6.75 L -6.75 -6.75 z " transform="translate(543.38 320.21)" style="fill-opacity: 0; stroke: #1f77b4; stroke-width: 2.1; stroke-linejoin: miter; stroke: #1f77b4; stroke-width: 2.1; stroke-linejoin: miter"/> <path d="M -6.75 6.75 L 6.75 6.75 L 6.75 -6.75 L -6.75 -6.75 z " transform="translate(567.44 317.35)" style="fill-opacity: 0; stroke: #1f77b4; stroke-width: 2.1; stroke-linejoin: miter; stroke: #1f77b4; stroke-width: 2.1; stroke-linejoin: miter"/> </g> </g> <g id="line2d_23"> <path d="M 110.35 41.78 L 134.41 54.25 L 158.46 70.84 L 182.52 86.05 L 206.58 76.44 L 230.64 70.84 L 254.69 93.26 L 278.75 101.26 L 302.81 116.25 L 326.87 121.51 L 350.92 175.28 L 374.98 175.62 L 399.04 193.35 L 423.10 213.71 L 447.15 220.00 L 471.21 202.84 L 495.27 248.14 L 519.33 260.73 L 543.38 269.88 L 567.44 327.76 " clip-path="url(#p4d4e96e5f6)" style="fill: none; stroke-dasharray: 3,3.6; stroke-dashoffset: 0; stroke: #40ae40; stroke-width: 3.2"/> <g clip-path="url(#p4d4e96e5f6)"> <path d="M 0 -7 L -7 7 L 7 7 z " transform="translate(110.35 41.78)" style="fill-opacity: 0; stroke: #40ae40; stroke-width: 2.1; stroke-linejoin: miter; stroke: #40ae40; stroke-width: 2.1; stroke-linejoin: miter"/> <path d="M 0 -7 L -7 7 L 7 7 z " transform="translate(134.41 54.25)" style="fill-opacity: 0; stroke: #40ae40; stroke-width: 2.1; stroke-linejoin: miter; stroke: #40ae40; stroke-width: 2.1; stroke-linejoin: miter"/> <path d="M 0 -7 L -7 7 L 7 7 z " transform="translate(158.46 70.84)" style="fill-opacity: 0; stroke: #40ae40; stroke-width: 2.1; stroke-linejoin: miter; stroke: #40ae40; stroke-width: 2.1; stroke-linejoin: miter"/> <path d="M 0 -7 L -7 7 L 7 7 z " transform="translate(182.52 86.05)" style="fill-opacity: 0; stroke: #40ae40; stroke-width: 2.1; stroke-linejoin: miter; stroke: #40ae40; stroke-width: 2.1; stroke-linejoin: miter"/> <path d="M 0 -7 L -7 7 L 7 7 z " transform="translate(206.58 76.44)" style="fill-opacity: 0; stroke: #40ae40; stroke-width: 2.1; stroke-linejoin: miter; stroke: #40ae40; stroke-width: 2.1; stroke-linejoin: miter"/> <path d="M 0 -7 L -7 7 L 7 7 z " transform="translate(230.64 70.84)" style="fill-opacity: 0; stroke: #40ae40; stroke-width: 2.1; stroke-linejoin: miter; stroke: #40ae40; stroke-width: 2.1; stroke-linejoin: miter"/> <path d="M 0 -7 L -7 7 L 7 7 z " transform="translate(254.69 93.26)" style="fill-opacity: 0; stroke: #40ae40; stroke-width: 2.1; stroke-linejoin: miter; stroke: #40ae40; stroke-width: 2.1; stroke-linejoin: miter"/> <path d="M 0 -7 L -7 7 L 7 7 z " transform="translate(278.75 101.27)" style="fill-opacity: 0; stroke: #40ae40; stroke-width: 2.1; stroke-linejoin: miter; stroke: #40ae40; stroke-width: 2.1; stroke-linejoin: miter"/> <path d="M 0 -7 L -7 7 L 7 7 z " transform="translate(302.81 116.25)" style="fill-opacity: 0; stroke: #40ae40; stroke-width: 2.1; stroke-linejoin: miter; stroke: #40ae40; stroke-width: 2.1; stroke-linejoin: miter"/> <path d="M 0 -7 L -7 7 L 7 7 z " transform="translate(326.87 121.51)" style="fill-opacity: 0; stroke: #40ae40; stroke-width: 2.1; stroke-linejoin: miter; stroke: #40ae40; stroke-width: 2.1; stroke-linejoin: miter"/> <path d="M 0 -7 L -7 7 L 7 7 z " transform="translate(350.92 175.28)" style="fill-opacity: 0; stroke: #40ae40; stroke-width: 2.1; stroke-linejoin: miter; stroke: #40ae40; stroke-width: 2.1; stroke-linejoin: miter"/> <path d="M 0 -7 L -7 7 L 7 7 z " transform="translate(374.98 175.62)" style="fill-opacity: 0; stroke: #40ae40; stroke-width: 2.1; stroke-linejoin: miter; stroke: #40ae40; stroke-width: 2.1; stroke-linejoin: miter"/> <path d="M 0 -7 L -7 7 L 7 7 z " transform="translate(399.04 193.35)" style="fill-opacity: 0; stroke: #40ae40; stroke-width: 2.1; stroke-linejoin: miter; stroke: #40ae40; stroke-width: 2.1; stroke-linejoin: miter"/> <path d="M 0 -7 L -7 7 L 7 7 z " transform="translate(423.10 213.71)" style="fill-opacity: 0; stroke: #40ae40; stroke-width: 2.1; stroke-linejoin: miter; stroke: #40ae40; stroke-width: 2.1; stroke-linejoin: miter"/> <path d="M 0 -7 L -7 7 L 7 7 z " transform="translate(447.15 220.00)" style="fill-opacity: 0; stroke: #40ae40; stroke-width: 2.1; stroke-linejoin: miter; stroke: #40ae40; stroke-width: 2.1; stroke-linejoin: miter"/> <path d="M 0 -7 L -7 7 L 7 7 z " transform="translate(471.21 202.84)" style="fill-opacity: 0; stroke: #40ae40; stroke-width: 2.1; stroke-linejoin: miter; stroke: #40ae40; stroke-width: 2.1; stroke-linejoin: miter"/> <path d="M 0 -7 L -7 7 L 7 7 z " transform="translate(495.27 248.14)" style="fill-opacity: 0; stroke: #40ae40; stroke-width: 2.1; stroke-linejoin: miter; stroke: #40ae40; stroke-width: 2.1; stroke-linejoin: miter"/> <path d="M 0 -7 L -7 7 L 7 7 z " transform="translate(519.33 260.73)" style="fill-opacity: 0; stroke: #40ae40; stroke-width: 2.1; stroke-linejoin: miter; stroke: #40ae40; stroke-width: 2.1; stroke-linejoin: miter"/> <path d="M 0 -7 L -7 7 L 7 7 z " transform="translate(543.38 269.88)" style="fill-opacity: 0; stroke: #40ae40; stroke-width: 2.1; stroke-linejoin: miter; stroke: #40ae40; stroke-width: 2.1; stroke-linejoin: miter"/> <path d="M 0 -7 L -7 7 L 7 7 z " transform="translate(567.44 327.76)" style="fill-opacity: 0; stroke: #40ae40; stroke-width: 2.1; stroke-linejoin: miter; stroke: #40ae40; stroke-width: 2.1; stroke-linejoin: miter"/> </g> </g> <g id="line2d_24"> <path d="M 110.35 64.77 L 134.41 78.96 L 158.46 84.22 L 182.52 94.17 L 206.58 84.22 L 230.64 83.08 L 254.69 109.27 L 278.75 109.27 L 302.81 117.28 L 326.87 120.83 L 350.92 125.29 L 374.98 136.15 L 399.04 140.84 L 423.10 150.11 L 447.15 162.01 L 471.21 163.61 L 495.27 161.89 L 519.33 179.97 L 543.38 183.63 L 567.44 190.72 " clip-path="url(#p4d4e96e5f6)" style="fill: none; stroke-dasharray: 9.6,4.5,4.6,4.5; stroke-dashoffset: 0; stroke: #9b59b6; stroke-width: 3.2"/> <g clip-path="url(#p4d4e96e5f6)"> <path d="M -0 9.89 L 9.89 0 L 0 -9.89 L -9.89 -0 z " transform="translate(110.35 64.77)" style="fill-opacity: 0; stroke: #9b59b6; stroke-width: 2.1; stroke-linejoin: miter; stroke: #9b59b6; stroke-width: 2.1; stroke-linejoin: miter"/> <path d="M -0 9.89 L 9.89 0 L 0 -9.89 L -9.89 -0 z " transform="translate(134.41 78.96)" style="fill-opacity: 0; stroke: #9b59b6; stroke-width: 2.1; stroke-linejoin: miter; stroke: #9b59b6; stroke-width: 2.1; stroke-linejoin: miter"/> <path d="M -0 9.89 L 9.89 0 L 0 -9.89 L -9.89 -0 z " transform="translate(158.46 84.22)" style="fill-opacity: 0; stroke: #9b59b6; stroke-width: 2.1; stroke-linejoin: miter; stroke: #9b59b6; stroke-width: 2.1; stroke-linejoin: miter"/> <path d="M -0 9.89 L 9.89 0 L 0 -9.89 L -9.89 -0 z " transform="translate(182.52 94.17)" style="fill-opacity: 0; stroke: #9b59b6; stroke-width: 2.1; stroke-linejoin: miter; stroke: #9b59b6; stroke-width: 2.1; stroke-linejoin: miter"/> <path d="M -0 9.89 L 9.89 0 L 0 -9.89 L -9.89 -0 z " transform="translate(206.58 84.22)" style="fill-opacity: 0; stroke: #9b59b6; stroke-width: 2.1; stroke-linejoin: miter; stroke: #9b59b6; stroke-width: 2.1; stroke-linejoin: miter"/> <path d="M -0 9.89 L 9.89 0 L 0 -9.89 L -9.89 -0 z " transform="translate(230.64 83.08)" style="fill-opacity: 0; stroke: #9b59b6; stroke-width: 2.1; stroke-linejoin: miter; stroke: #9b59b6; stroke-width: 2.1; stroke-linejoin: miter"/> <path d="M -0 9.89 L 9.89 0 L 0 -9.89 L -9.89 -0 z " transform="translate(254.69 109.27)" style="fill-opacity: 0; stroke: #9b59b6; stroke-width: 2.1; stroke-linejoin: miter; stroke: #9b59b6; stroke-width: 2.1; stroke-linejoin: miter"/> <path d="M -0 9.89 L 9.89 0 L 0 -9.89 L -9.89 -0 z " transform="translate(278.75 109.27)" style="fill-opacity: 0; stroke: #9b59b6; stroke-width: 2.1; stroke-linejoin: miter; stroke: #9b59b6; stroke-width: 2.1; stroke-linejoin: miter"/> <path d="M -0 9.89 L 9.89 0 L 0 -9.89 L -9.89 -0 z " transform="translate(302.81 117.28)" style="fill-opacity: 0; stroke: #9b59b6; stroke-width: 2.1; stroke-linejoin: miter; stroke: #9b59b6; stroke-width: 2.1; stroke-linejoin: miter"/> <path d="M -0 9.89 L 9.89 0 L 0 -9.89 L -9.89 -0 z " transform="translate(326.87 120.83)" style="fill-opacity: 0; stroke: #9b59b6; stroke-width: 2.1; stroke-linejoin: miter; stroke: #9b59b6; stroke-width: 2.1; stroke-linejoin: miter"/> <path d="M -0 9.89 L 9.89 0 L 0 -9.89 L -9.89 -0 z " transform="translate(350.92 125.29)" style="fill-opacity: 0; stroke: #9b59b6; stroke-width: 2.1; stroke-linejoin: miter; stroke: #9b59b6; stroke-width: 2.1; stroke-linejoin: miter"/> <path d="M -0 9.89 L 9.89 0 L 0 -9.89 L -9.89 -0 z " transform="translate(374.98 136.15)" style="fill-opacity: 0; stroke: #9b59b6; stroke-width: 2.1; stroke-linejoin: miter; stroke: #9b59b6; stroke-width: 2.1; stroke-linejoin: miter"/> <path d="M -0 9.89 L 9.89 0 L 0 -9.89 L -9.89 -0 z " transform="translate(399.04 140.84)" style="fill-opacity: 0; stroke: #9b59b6; stroke-width: 2.1; stroke-linejoin: miter; stroke: #9b59b6; stroke-width: 2.1; stroke-linejoin: miter"/> <path d="M -0 9.89 L 9.89 0 L 0 -9.89 L -9.89 -0 z " transform="translate(423.10 150.11)" style="fill-opacity: 0; stroke: #9b59b6; stroke-width: 2.1; stroke-linejoin: miter; stroke: #9b59b6; stroke-width: 2.1; stroke-linejoin: miter"/> <path d="M -0 9.89 L 9.89 0 L 0 -9.89 L -9.89 -0 z " transform="translate(447.15 162.01)" style="fill-opacity: 0; stroke: #9b59b6; stroke-width: 2.1; stroke-linejoin: miter; stroke: #9b59b6; stroke-width: 2.1; stroke-linejoin: miter"/> <path d="M -0 9.89 L 9.89 0 L 0 -9.89 L -9.89 -0 z " transform="translate(471.21 163.61)" style="fill-opacity: 0; stroke: #9b59b6; stroke-width: 2.1; stroke-linejoin: miter; stroke: #9b59b6; stroke-width: 2.1; stroke-linejoin: miter"/> <path d="M -0 9.89 L 9.89 0 L 0 -9.89 L -9.89 -0 z " transform="translate(495.27 161.89)" style="fill-opacity: 0; stroke: #9b59b6; stroke-width: 2.1; stroke-linejoin: miter; stroke: #9b59b6; stroke-width: 2.1; stroke-linejoin: miter"/> <path d="M -0 9.89 L 9.89 0 L 0 -9.89 L -9.89 -0 z " transform="translate(519.33 179.97)" style="fill-opacity: 0; stroke: #9b59b6; stroke-width: 2.1; stroke-linejoin: miter; stroke: #9b59b6; stroke-width: 2.1; stroke-linejoin: miter"/> <path d="M -0 9.89 L 9.89 0 L 0 -9.89 L -9.89 -0 z " transform="translate(543.38 183.63)" style="fill-opacity: 0; stroke: #9b59b6; stroke-width: 2.1; stroke-linejoin: miter; stroke: #9b59b6; stroke-width: 2.1; stroke-linejoin: miter"/> <path d="M -0 9.89 L 9.89 0 L 0 -9.89 L -9.89 -0 z " transform="translate(567.44 190.72)" style="fill-opacity: 0; stroke: #9b59b6; stroke-width: 2.1; stroke-linejoin: miter; stroke: #9b59b6; stroke-width: 2.1; stroke-linejoin: miter"/> </g> </g> <g id="line2d_25"> <path d="M 110.35 83.08 L 134.41 65.80 L 158.46 80.10 L 182.52 116.94 L 206.58 116.94 L 230.64 104.70 L 254.69 136.15 L 278.75 138.44 L 302.81 142.79 L 326.87 160.52 L 350.92 204.67 L 374.98 207.08 L 399.04 224.23 L 423.10 237.62 L 447.15 245.97 L 471.21 282.46 L 495.27 275.37 L 519.33 290.92 L 543.38 303.96 L 567.44 311.86 " clip-path="url(#p4d4e96e5f6)" style="fill: none; stroke-dasharray: 16.2,4,3,3.6; stroke-dashoffset: 0; stroke: #ff7f0e; stroke-width: 3.3"/> <g clip-path="url(#p4d4e96e5f6)"> <path d="M 0 -7 L -1.57 -2.16 L -6.65 -2.16 L -2.54 0.82 L -4.11 5.66 L -0 2.67 L 4.11 5.66 L 2.54 0.82 L 6.65 -2.16 L 1.57 -2.16 z " transform="translate(110.35 83.08)" style="fill-opacity: 0; stroke: #ff7f0e; stroke-width: 2.9; stroke-linejoin: bevel; stroke: #ff7f0e; stroke-width: 2.9; stroke-linejoin: bevel"/> <path d="M 0 -7 L -1.57 -2.16 L -6.65 -2.16 L -2.54 0.82 L -4.11 5.66 L -0 2.67 L 4.11 5.66 L 2.54 0.82 L 6.65 -2.16 L 1.57 -2.16 z " transform="translate(134.41 65.80)" style="fill-opacity: 0; stroke: #ff7f0e; stroke-width: 2.9; stroke-linejoin: bevel; stroke: #ff7f0e; stroke-width: 2.9; stroke-linejoin: bevel"/> <path d="M 0 -7 L -1.57 -2.16 L -6.65 -2.16 L -2.54 0.82 L -4.11 5.66 L -0 2.67 L 4.11 5.66 L 2.54 0.82 L 6.65 -2.16 L 1.57 -2.16 z " transform="translate(158.46 80.10)" style="fill-opacity: 0; stroke: #ff7f0e; stroke-width: 2.9; stroke-linejoin: bevel; stroke: #ff7f0e; stroke-width: 2.9; stroke-linejoin: bevel"/> <path d="M 0 -7 L -1.57 -2.16 L -6.65 -2.16 L -2.54 0.82 L -4.11 5.66 L -0 2.67 L 4.11 5.66 L 2.54 0.82 L 6.65 -2.16 L 1.57 -2.16 z " transform="translate(182.52 116.94)" style="fill-opacity: 0; stroke: #ff7f0e; stroke-width: 2.9; stroke-linejoin: bevel; stroke: #ff7f0e; stroke-width: 2.9; stroke-linejoin: bevel"/> <path d="M 0 -7 L -1.57 -2.16 L -6.65 -2.16 L -2.54 0.82 L -4.11 5.66 L -0 2.67 L 4.11 5.66 L 2.54 0.82 L 6.65 -2.16 L 1.57 -2.16 z " transform="translate(206.58 116.94)" style="fill-opacity: 0; stroke: #ff7f0e; stroke-width: 2.9; stroke-linejoin: bevel; stroke: #ff7f0e; stroke-width: 2.9; stroke-linejoin: bevel"/> <path d="M 0 -7 L -1.57 -2.16 L -6.65 -2.16 L -2.54 0.82 L -4.11 5.66 L -0 2.67 L 4.11 5.66 L 2.54 0.82 L 6.65 -2.16 L 1.57 -2.16 z " transform="translate(230.64 104.70)" style="fill-opacity: 0; stroke: #ff7f0e; stroke-width: 2.9; stroke-linejoin: bevel; stroke: #ff7f0e; stroke-width: 2.9; stroke-linejoin: bevel"/> <path d="M 0 -7 L -1.57 -2.16 L -6.65 -2.16 L -2.54 0.82 L -4.11 5.66 L -0 2.67 L 4.11 5.66 L 2.54 0.82 L 6.65 -2.16 L 1.57 -2.16 z " transform="translate(254.69 136.15)" style="fill-opacity: 0; stroke: #ff7f0e; stroke-width: 2.9; stroke-linejoin: bevel; stroke: #ff7f0e; stroke-width: 2.9; stroke-linejoin: bevel"/> <path d="M 0 -7 L -1.57 -2.16 L -6.65 -2.16 L -2.54 0.82 L -4.11 5.66 L -0 2.67 L 4.11 5.66 L 2.54 0.82 L 6.65 -2.16 L 1.57 -2.16 z " transform="translate(278.75 138.44)" style="fill-opacity: 0; stroke: #ff7f0e; stroke-width: 2.9; stroke-linejoin: bevel; stroke: #ff7f0e; stroke-width: 2.9; stroke-linejoin: bevel"/> <path d="M 0 -7 L -1.57 -2.16 L -6.65 -2.16 L -2.54 0.82 L -4.11 5.66 L -0 2.67 L 4.11 5.66 L 2.54 0.82 L 6.65 -2.16 L 1.57 -2.16 z " transform="translate(302.81 142.79)" style="fill-opacity: 0; stroke: #ff7f0e; stroke-width: 2.9; stroke-linejoin: bevel; stroke: #ff7f0e; stroke-width: 2.9; stroke-linejoin: bevel"/> <path d="M 0 -7 L -1.57 -2.16 L -6.65 -2.16 L -2.54 0.82 L -4.11 5.66 L -0 2.67 L 4.11 5.66 L 2.54 0.82 L 6.65 -2.16 L 1.57 -2.16 z " transform="translate(326.87 160.52)" style="fill-opacity: 0; stroke: #ff7f0e; stroke-width: 2.9; stroke-linejoin: bevel; stroke: #ff7f0e; stroke-width: 2.9; stroke-linejoin: bevel"/> <path d="M 0 -7 L -1.57 -2.16 L -6.65 -2.16 L -2.54 0.82 L -4.11 5.66 L -0 2.67 L 4.11 5.66 L 2.54 0.82 L 6.65 -2.16 L 1.57 -2.16 z " transform="translate(350.92 204.67)" style="fill-opacity: 0; stroke: #ff7f0e; stroke-width: 2.9; stroke-linejoin: bevel; stroke: #ff7f0e; stroke-width: 2.9; stroke-linejoin: bevel"/> <path d="M 0 -7 L -1.57 -2.16 L -6.65 -2.16 L -2.54 0.82 L -4.11 5.66 L -0 2.67 L 4.11 5.66 L 2.54 0.82 L 6.65 -2.16 L 1.57 -2.16 z " transform="translate(374.98 207.08)" style="fill-opacity: 0; stroke: #ff7f0e; stroke-width: 2.9; stroke-linejoin: bevel; stroke: #ff7f0e; stroke-width: 2.9; stroke-linejoin: bevel"/> <path d="M 0 -7 L -1.57 -2.16 L -6.65 -2.16 L -2.54 0.82 L -4.11 5.66 L -0 2.67 L 4.11 5.66 L 2.54 0.82 L 6.65 -2.16 L 1.57 -2.16 z " transform="translate(399.04 224.24)" style="fill-opacity: 0; stroke: #ff7f0e; stroke-width: 2.9; stroke-linejoin: bevel; stroke: #ff7f0e; stroke-width: 2.9; stroke-linejoin: bevel"/> <path d="M 0 -7 L -1.57 -2.16 L -6.65 -2.16 L -2.54 0.82 L -4.11 5.66 L -0 2.67 L 4.11 5.66 L 2.54 0.82 L 6.65 -2.16 L 1.57 -2.16 z " transform="translate(423.10 237.62)" style="fill-opacity: 0; stroke: #ff7f0e; stroke-width: 2.9; stroke-linejoin: bevel; stroke: #ff7f0e; stroke-width: 2.9; stroke-linejoin: bevel"/> <path d="M 0 -7 L -1.57 -2.16 L -6.65 -2.16 L -2.54 0.82 L -4.11 5.66 L -0 2.67 L 4.11 5.66 L 2.54 0.82 L 6.65 -2.16 L 1.57 -2.16 z " transform="translate(447.15 245.97)" style="fill-opacity: 0; stroke: #ff7f0e; stroke-width: 2.9; stroke-linejoin: bevel; stroke: #ff7f0e; stroke-width: 2.9; stroke-linejoin: bevel"/> <path d="M 0 -7 L -1.57 -2.16 L -6.65 -2.16 L -2.54 0.82 L -4.11 5.66 L -0 2.67 L 4.11 5.66 L 2.54 0.82 L 6.65 -2.16 L 1.57 -2.16 z " transform="translate(471.21 282.46)" style="fill-opacity: 0; stroke: #ff7f0e; stroke-width: 2.9; stroke-linejoin: bevel; stroke: #ff7f0e; stroke-width: 2.9; stroke-linejoin: bevel"/> <path d="M 0 -7 L -1.57 -2.16 L -6.65 -2.16 L -2.54 0.82 L -4.11 5.66 L -0 2.67 L 4.11 5.66 L 2.54 0.82 L 6.65 -2.16 L 1.57 -2.16 z " transform="translate(495.27 275.37)" style="fill-opacity: 0; stroke: #ff7f0e; stroke-width: 2.9; stroke-linejoin: bevel; stroke: #ff7f0e; stroke-width: 2.9; stroke-linejoin: bevel"/> <path d="M 0 -7 L -1.57 -2.16 L -6.65 -2.16 L -2.54 0.82 L -4.11 5.66 L -0 2.67 L 4.11 5.66 L 2.54 0.82 L 6.65 -2.16 L 1.57 -2.16 z " transform="translate(519.33 290.92)" style="fill-opacity: 0; stroke: #ff7f0e; stroke-width: 2.9; stroke-linejoin: bevel; stroke: #ff7f0e; stroke-width: 2.9; stroke-linejoin: bevel"/> <path d="M 0 -7 L -1.57 -2.16 L -6.65 -2.16 L -2.54 0.82 L -4.11 5.66 L -0 2.67 L 4.11 5.66 L 2.54 0.82 L 6.65 -2.16 L 1.57 -2.16 z " transform="translate(543.38 303.97)" style="fill-opacity: 0; stroke: #ff7f0e; stroke-width: 2.9; stroke-linejoin: bevel; stroke: #ff7f0e; stroke-width: 2.9; stroke-linejoin: bevel"/> <path d="M 0 -7 L -1.57 -2.16 L -6.65 -2.16 L -2.54 0.82 L -4.11 5.66 L -0 2.67 L 4.11 5.66 L 2.54 0.82 L 6.65 -2.16 L 1.57 -2.16 z " transform="translate(567.44 311.86)" style="fill-opacity: 0; stroke: #ff7f0e; stroke-width: 2.9; stroke-linejoin: bevel; stroke: #ff7f0e; stroke-width: 2.9; stroke-linejoin: bevel"/> </g> </g> <g id="line2d_26"> <path d="M 110.35 31.94 L 134.41 35.83 L 158.46 40.75 L 182.52 45.33 L 206.58 50.59 L 230.64 55.97 L 254.69 64.77 L 278.75 70.04 L 302.81 76.44 L 326.87 83.08 L 350.92 95.20 L 374.98 93.83 L 399.04 96.57 L 423.10 103.67 L 447.15 115.56 L 471.21 93.60 L 495.27 116.02 L 519.33 110.19 L 543.38 123.69 L 567.44 125.40 " clip-path="url(#p4d4e96e5f6)" style="fill: none; stroke-dasharray: 10,3.7,4.3,3.7,4.3,3.7; stroke-dashoffset: 0; stroke: #c8102e; stroke-width: 3.3"/> <g clip-path="url(#p4d4e96e5f6)"> <path d="M -3.3 6.6 L 0 3.3 L 3.3 6.6 L 6.6 3.3 L 3.3 0 L 6.6 -3.3 L 3.3 -6.6 L 0 -3.3 L -3.3 -6.6 L -6.6 -3.3 L -3.3 0 L -6.6 3.3 z " transform="translate(110.35 31.94)" style="fill-opacity: 0; stroke: #c8102e; stroke-width: 2.1; stroke-linejoin: miter; stroke: #c8102e; stroke-width: 2.1; stroke-linejoin: miter"/> <path d="M -3.3 6.6 L 0 3.3 L 3.3 6.6 L 6.6 3.3 L 3.3 0 L 6.6 -3.3 L 3.3 -6.6 L 0 -3.3 L -3.3 -6.6 L -6.6 -3.3 L -3.3 0 L -6.6 3.3 z " transform="translate(134.41 35.83)" style="fill-opacity: 0; stroke: #c8102e; stroke-width: 2.1; stroke-linejoin: miter; stroke: #c8102e; stroke-width: 2.1; stroke-linejoin: miter"/> <path d="M -3.3 6.6 L 0 3.3 L 3.3 6.6 L 6.6 3.3 L 3.3 0 L 6.6 -3.3 L 3.3 -6.6 L 0 -3.3 L -3.3 -6.6 L -6.6 -3.3 L -3.3 0 L -6.6 3.3 z " transform="translate(158.46 40.75)" style="fill-opacity: 0; stroke: #c8102e; stroke-width: 2.1; stroke-linejoin: miter; stroke: #c8102e; stroke-width: 2.1; stroke-linejoin: miter"/> <path d="M -3.3 6.6 L 0 3.3 L 3.3 6.6 L 6.6 3.3 L 3.3 0 L 6.6 -3.3 L 3.3 -6.6 L 0 -3.3 L -3.3 -6.6 L -6.6 -3.3 L -3.3 0 L -6.6 3.3 z " transform="translate(182.52 45.33)" style="fill-opacity: 0; stroke: #c8102e; stroke-width: 2.1; stroke-linejoin: miter; stroke: #c8102e; stroke-width: 2.1; stroke-linejoin: miter"/> <path d="M -3.3 6.6 L 0 3.3 L 3.3 6.6 L 6.6 3.3 L 3.3 0 L 6.6 -3.3 L 3.3 -6.6 L 0 -3.3 L -3.3 -6.6 L -6.6 -3.3 L -3.3 0 L -6.6 3.3 z " transform="translate(206.58 50.59)" style="fill-opacity: 0; stroke: #c8102e; stroke-width: 2.1; stroke-linejoin: miter; stroke: #c8102e; stroke-width: 2.1; stroke-linejoin: miter"/> <path d="M -3.3 6.6 L 0 3.3 L 3.3 6.6 L 6.6 3.3 L 3.3 0 L 6.6 -3.3 L 3.3 -6.6 L 0 -3.3 L -3.3 -6.6 L -6.6 -3.3 L -3.3 0 L -6.6 3.3 z " transform="translate(230.64 55.97)" style="fill-opacity: 0; stroke: #c8102e; stroke-width: 2.1; stroke-linejoin: miter; stroke: #c8102e; stroke-width: 2.1; stroke-linejoin: miter"/> <path d="M -3.3 6.6 L 0 3.3 L 3.3 6.6 L 6.6 3.3 L 3.3 0 L 6.6 -3.3 L 3.3 -6.6 L 0 -3.3 L -3.3 -6.6 L -6.6 -3.3 L -3.3 0 L -6.6 3.3 z " transform="translate(254.69 64.77)" style="fill-opacity: 0; stroke: #c8102e; stroke-width: 2.1; stroke-linejoin: miter; stroke: #c8102e; stroke-width: 2.1; stroke-linejoin: miter"/> <path d="M -3.3 6.6 L 0 3.3 L 3.3 6.6 L 6.6 3.3 L 3.3 0 L 6.6 -3.3 L 3.3 -6.6 L 0 -3.3 L -3.3 -6.6 L -6.6 -3.3 L -3.3 0 L -6.6 3.3 z " transform="translate(278.75 70.04)" style="fill-opacity: 0; stroke: #c8102e; stroke-width: 2.1; stroke-linejoin: miter; stroke: #c8102e; stroke-width: 2.1; stroke-linejoin: miter"/> <path d="M -3.3 6.6 L 0 3.3 L 3.3 6.6 L 6.6 3.3 L 3.3 0 L 6.6 -3.3 L 3.3 -6.6 L 0 -3.3 L -3.3 -6.6 L -6.6 -3.3 L -3.3 0 L -6.6 3.3 z " transform="translate(302.81 76.44)" style="fill-opacity: 0; stroke: #c8102e; stroke-width: 2.1; stroke-linejoin: miter; stroke: #c8102e; stroke-width: 2.1; stroke-linejoin: miter"/> <path d="M -3.3 6.6 L 0 3.3 L 3.3 6.6 L 6.6 3.3 L 3.3 0 L 6.6 -3.3 L 3.3 -6.6 L 0 -3.3 L -3.3 -6.6 L -6.6 -3.3 L -3.3 0 L -6.6 3.3 z " transform="translate(326.87 83.08)" style="fill-opacity: 0; stroke: #c8102e; stroke-width: 2.1; stroke-linejoin: miter; stroke: #c8102e; stroke-width: 2.1; stroke-linejoin: miter"/> <path d="M -3.3 6.6 L 0 3.3 L 3.3 6.6 L 6.6 3.3 L 3.3 0 L 6.6 -3.3 L 3.3 -6.6 L 0 -3.3 L -3.3 -6.6 L -6.6 -3.3 L -3.3 0 L -6.6 3.3 z " transform="translate(350.92 95.20)" style="fill-opacity: 0; stroke: #c8102e; stroke-width: 2.1; stroke-linejoin: miter; stroke: #c8102e; stroke-width: 2.1; stroke-linejoin: miter"/> <path d="M -3.3 6.6 L 0 3.3 L 3.3 6.6 L 6.6 3.3 L 3.3 0 L 6.6 -3.3 L 3.3 -6.6 L 0 -3.3 L -3.3 -6.6 L -6.6 -3.3 L -3.3 0 L -6.6 3.3 z " transform="translate(374.98 93.83)" style="fill-opacity: 0; stroke: #c8102e; stroke-width: 2.1; stroke-linejoin: miter; stroke: #c8102e; stroke-width: 2.1; stroke-linejoin: miter"/> <path d="M -3.3 6.6 L 0 3.3 L 3.3 6.6 L 6.6 3.3 L 3.3 0 L 6.6 -3.3 L 3.3 -6.6 L 0 -3.3 L -3.3 -6.6 L -6.6 -3.3 L -3.3 0 L -6.6 3.3 z " transform="translate(399.04 96.57)" style="fill-opacity: 0; stroke: #c8102e; stroke-width: 2.1; stroke-linejoin: miter; stroke: #c8102e; stroke-width: 2.1; stroke-linejoin: miter"/> <path d="M -3.3 6.6 L 0 3.3 L 3.3 6.6 L 6.6 3.3 L 3.3 0 L 6.6 -3.3 L 3.3 -6.6 L 0 -3.3 L -3.3 -6.6 L -6.6 -3.3 L -3.3 0 L -6.6 3.3 z " transform="translate(423.10 103.67)" style="fill-opacity: 0; stroke: #c8102e; stroke-width: 2.1; stroke-linejoin: miter; stroke: #c8102e; stroke-width: 2.1; stroke-linejoin: miter"/> <path d="M -3.3 6.6 L 0 3.3 L 3.3 6.6 L 6.6 3.3 L 3.3 0 L 6.6 -3.3 L 3.3 -6.6 L 0 -3.3 L -3.3 -6.6 L -6.6 -3.3 L -3.3 0 L -6.6 3.3 z " transform="translate(447.15 115.56)" style="fill-opacity: 0; stroke: #c8102e; stroke-width: 2.1; stroke-linejoin: miter; stroke: #c8102e; stroke-width: 2.1; stroke-linejoin: miter"/> <path d="M -3.3 6.6 L 0 3.3 L 3.3 6.6 L 6.6 3.3 L 3.3 0 L 6.6 -3.3 L 3.3 -6.6 L 0 -3.3 L -3.3 -6.6 L -6.6 -3.3 L -3.3 0 L -6.6 3.3 z " transform="translate(471.21 93.60)" style="fill-opacity: 0; stroke: #c8102e; stroke-width: 2.1; stroke-linejoin: miter; stroke: #c8102e; stroke-width: 2.1; stroke-linejoin: miter"/> <path d="M -3.3 6.6 L 0 3.3 L 3.3 6.6 L 6.6 3.3 L 3.3 0 L 6.6 -3.3 L 3.3 -6.6 L 0 -3.3 L -3.3 -6.6 L -6.6 -3.3 L -3.3 0 L -6.6 3.3 z " transform="translate(495.27 116.02)" style="fill-opacity: 0; stroke: #c8102e; stroke-width: 2.1; stroke-linejoin: miter; stroke: #c8102e; stroke-width: 2.1; stroke-linejoin: miter"/> <path d="M -3.3 6.6 L 0 3.3 L 3.3 6.6 L 6.6 3.3 L 3.3 0 L 6.6 -3.3 L 3.3 -6.6 L 0 -3.3 L -3.3 -6.6 L -6.6 -3.3 L -3.3 0 L -6.6 3.3 z " transform="translate(519.33 110.19)" style="fill-opacity: 0; stroke: #c8102e; stroke-width: 2.1; stroke-linejoin: miter; stroke: #c8102e; stroke-width: 2.1; stroke-linejoin: miter"/> <path d="M -3.3 6.6 L 0 3.3 L 3.3 6.6 L 6.6 3.3 L 3.3 0 L 6.6 -3.3 L 3.3 -6.6 L 0 -3.3 L -3.3 -6.6 L -6.6 -3.3 L -3.3 0 L -6.6 3.3 z " transform="translate(543.38 123.69)" style="fill-opacity: 0; stroke: #c8102e; stroke-width: 2.1; stroke-linejoin: miter; stroke: #c8102e; stroke-width: 2.1; stroke-linejoin: miter"/> <path d="M -3.3 6.6 L 0 3.3 L 3.3 6.6 L 6.6 3.3 L 3.3 0 L 6.6 -3.3 L 3.3 -6.6 L 0 -3.3 L -3.3 -6.6 L -6.6 -3.3 L -3.3 0 L -6.6 3.3 z " transform="translate(567.44 125.40)" style="fill-opacity: 0; stroke: #c8102e; stroke-width: 2.1; stroke-linejoin: miter; stroke: #c8102e; stroke-width: 2.1; stroke-linejoin: miter"/> </g> </g> <g id="patch_3"> <path d="M 87.5 383.7 L 87.5 9.3 " style="fill: none; stroke: #262626; stroke-width: 1.3; stroke-linejoin: miter; stroke-linecap: square"/> </g> <g id="patch_4"> <path d="M 590.3 383.7 L 590.3 9.3 " style="fill: none; stroke: #262626; stroke-width: 1.3; stroke-linejoin: miter; stroke-linecap: square"/> </g> <g id="patch_5"> <path d="M 87.5 383.7 L 590.3 383.7 " style="fill: none; stroke: #262626; stroke-width: 1.3; stroke-linejoin: miter; stroke-linecap: square"/> </g> <g id="patch_6"> <path d="M 87.5 9.3 L 590.3 9.3 " style="fill: none; stroke: #262626; stroke-width: 1.3; stroke-linejoin: miter; stroke-linecap: square"/> </g> <g id="legend_1"> <g id="patch_7"> <path d="M 103.28 372.42 L 329.16 372.42 Q 333.67 372.42 333.67 367.91 L 333.67 171.57 Q 333.67 167.06 329.16 167.06 L 103.28 167.06 Q 98.77 167.06 98.77 171.57 L 98.77 367.91 Q 98.77 372.42 103.28 372.42 z " style="fill: #ffffff; opacity: 0.8; stroke: #cccccc; stroke-linejoin: miter"/> </g> <g id="line2d_27"> <path d="M 107.79 185.32 L 130.34 185.32 L 152.89 185.32 " style="fill: none; stroke: #4040e0; stroke-width: 2.8; stroke-linecap: square"/> <g> <path d="M 0 6.75 C 1.79 6.75 3.50 6.03 4.77 4.77 C 6.03 3.50 6.75 1.79 6.75 0 C 6.75 -1.79 6.03 -3.50 4.77 -4.77 C 3.50 -6.03 1.79 -6.75 0 -6.75 C -1.79 -6.75 -3.50 -6.03 -4.77 -4.77 C -6.03 -3.50 -6.75 -1.79 -6.75 0 C -6.75 1.79 -6.03 3.50 -4.77 4.77 C -3.50 6.03 -1.79 6.75 0 6.75 z " transform="translate(130.34 185.32)" style="fill-opacity: 0; stroke: #4040e0; stroke-width: 2.1; stroke: #4040e0; stroke-width: 2.1"/> </g> </g> <g id="text_13"> <text style="font-size: 22.55px; font-family: 'DejaVu Sans'; text-anchor: start" x="170.93" y="193.21" transform="rotate(-0 170.93 193.21)">nofusion</text> </g> <g id="line2d_28"> <path d="M 107.79 218.42 L 130.34 218.42 L 152.89 218.42 " style="fill: none; stroke-dasharray: 12.5,5.2; stroke-dashoffset: 0; stroke: #1f77b4; stroke-width: 3.3"/> <g> <path d="M -6.75 6.75 L 6.75 6.75 L 6.75 -6.75 L -6.75 -6.75 z " transform="translate(130.34 218.42)" style="fill-opacity: 0; stroke: #1f77b4; stroke-width: 2.1; stroke-linejoin: miter; stroke: #1f77b4; stroke-width: 2.1; stroke-linejoin: miter"/> </g> </g> <g id="text_14"> <text style="font-size: 22.55px; font-family: 'DejaVu Sans'; text-anchor: start" x="170.93" y="226.31" transform="rotate(-0 170.93 226.31)">when2com</text> </g> <g id="line2d_29"> <path d="M 107.79 251.52 L 130.34 251.52 L 152.89 251.52 " style="fill: none; stroke-dasharray: 3,3.6; stroke-dashoffset: 0; stroke: #40ae40; stroke-width: 3.2"/> <g> <path d="M 0 -7 L -7 7 L 7 7 z " transform="translate(130.34 251.52)" style="fill-opacity: 0; stroke: #40ae40; stroke-width: 2.1; stroke-linejoin: miter; stroke: #40ae40; stroke-width: 2.1; stroke-linejoin: miter"/> </g> </g> <g id="text_15"> <text style="font-size: 22.55px; font-family: 'DejaVu Sans'; text-anchor: start" x="170.93" y="259.41" transform="rotate(-0 170.93 259.41)">where2comm</text> </g> <g id="line2d_30"> <path d="M 107.79 284.62 L 130.34 284.62 L 152.89 284.62 " style="fill: none; stroke-dasharray: 9.6,4.5,4.6,4.5; stroke-dashoffset: 0; stroke: #9b59b6; stroke-width: 3.2"/> <g> <path d="M -0 9.89 L 9.89 0 L 0 -9.89 L -9.89 -0 z " transform="translate(130.34 284.62)" style="fill-opacity: 0; stroke: #9b59b6; stroke-width: 2.1; stroke-linejoin: miter; stroke: #9b59b6; stroke-width: 2.1; stroke-linejoin: miter"/> </g> </g> <g id="text_16"> <text style="font-size: 22.55px; font-family: 'DejaVu Sans'; text-anchor: start" x="170.93" y="292.51" transform="rotate(-0 170.93 292.51)">select2col</text> </g> <g id="line2d_31"> <path d="M 107.79 317.72 L 130.34 317.72 L 152.89 317.72 " style="fill: none; stroke-dasharray: 16.2,4,3,3.6; stroke-dashoffset: 0; stroke: #ff7f0e; stroke-width: 3.3"/> <g> <path d="M 0 -7 L -1.57 -2.16 L -6.65 -2.16 L -2.54 0.82 L -4.11 5.66 L -0 2.67 L 4.11 5.66 L 2.54 0.82 L 6.65 -2.16 L 1.57 -2.16 z " transform="translate(130.34 317.72)" style="fill-opacity: 0; stroke: #ff7f0e; stroke-width: 2.9; stroke-linejoin: bevel; stroke: #ff7f0e; stroke-width: 2.9; stroke-linejoin: bevel"/> </g> </g> <g id="text_17"> <text style="font-size: 22.55px; font-family: 'DejaVu Sans'; text-anchor: start" x="170.93" y="325.61" transform="rotate(-0 170.93 325.61)">sicp</text> </g> <g id="line2d_32"> <path d="M 107.79 350.82 L 130.34 350.82 L 152.89 350.82 " style="fill: none; stroke-dasharray: 10,3.7,4.3,3.7,4.3,3.7; stroke-dashoffset: 0; stroke: #c8102e; stroke-width: 3.3"/> <g> <path d="M -3.3 6.6 L 0 3.3 L 3.3 6.6 L 6.6 3.3 L 3.3 0 L 6.6 -3.3 L 3.3 -6.6 L 0 -3.3 L -3.3 -6.6 L -6.6 -3.3 L -3.3 0 L -6.6 3.3 z " transform="translate(130.34 350.82)" style="fill-opacity: 0; stroke: #c8102e; stroke-width: 2.1; stroke-linejoin: miter; stroke: #c8102e; stroke-width: 2.1; stroke-linejoin: miter"/> </g> </g> <g id="text_18"> <text style="font-size: 22.55px; font-family: 'DejaVu Sans'; text-anchor: start" x="170.93" y="358.71" transform="rotate(-0 170.93 358.71)">select2drive</text> </g> </g> </g> <g id="axes_2"> <g id="patch_8"> <path d="M 661.7 383.6 L 1164.5 383.6 L 1164.5 9.3 L 661.7 9.3 L 661.7 383.6 z " style="fill: none"/> </g> <g id="matplotlib.axis_3"> <g id="xtick_5"> <g id="line2d_33"> <path d="M 684.55 383.6 L 684.55 9.3 " clip-path="url(#p90375c643d)" style="fill: none; stroke: #c2c2c2; stroke-width: 1.4; stroke-linecap: square"/> </g> <g id="line2d_34"> <g> <path d="M 0 0 L 0 4.2 " transform="translate(684.55 383.6)" style="fill: #262626; stroke: #262626; stroke-width: 1.2; stroke: #262626; stroke-width: 1.2"/> </g> </g> <g id="text_19"> <text style="font-size: 22.2px; font-family: 'DejaVu Sans'; text-anchor: middle; fill: #111111" x="684.55" y="408.46" transform="rotate(-0 684.55 408.46)">0</text> </g> </g> <g id="xtick_6"> <g id="line2d_35"> <path d="M 760.73 383.6 L 760.73 9.3 " clip-path="url(#p90375c643d)" style="fill: none; stroke: #c2c2c2; stroke-width: 1.4; stroke-linecap: square"/> </g> <g id="line2d_36"> <g> <path d="M 0 0 L 0 4.2 " transform="translate(760.73 383.6)" style="fill: #262626; stroke: #262626; stroke-width: 1.2; stroke: #262626; stroke-width: 1.2"/> </g> </g> <g id="text_20"> <text style="font-size: 22.2px; font-family: 'DejaVu Sans'; text-anchor: middle; fill: #111111" x="760.73" y="408.46" transform="rotate(-0 760.73 408.46)">1</text> </g> </g> <g id="xtick_7"> <g id="line2d_37"> <path d="M 836.91 383.6 L 836.91 9.3 " clip-path="url(#p90375c643d)" style="fill: none; stroke: #c2c2c2; stroke-width: 1.4; stroke-linecap: square"/> </g> <g id="line2d_38"> <g> <path d="M 0 0 L 0 4.2 " transform="translate(836.91 383.6)" style="fill: #262626; stroke: #262626; stroke-width: 1.2; stroke: #262626; stroke-width: 1.2"/> </g> </g> <g id="text_21"> <text style="font-size: 22.2px; font-family: 'DejaVu Sans'; text-anchor: middle; fill: #111111" x="836.91" y="408.46" transform="rotate(-0 836.91 408.46)">2</text> </g> </g> <g id="xtick_8"> <g id="line2d_39"> <path d="M 913.1 383.6 L 913.1 9.3 " clip-path="url(#p90375c643d)" style="fill: none; stroke: #c2c2c2; stroke-width: 1.4; stroke-linecap: square"/> </g> <g id="line2d_40"> <g> <path d="M 0 0 L 0 4.2 " transform="translate(913.1 383.6)" style="fill: #262626; stroke: #262626; stroke-width: 1.2; stroke: #262626; stroke-width: 1.2"/> </g> </g> <g id="text_22"> <text style="font-size: 22.2px; font-family: 'DejaVu Sans'; text-anchor: middle; fill: #111111" x="913.1" y="408.46" transform="rotate(-0 913.1 408.46)">3</text> </g> </g> <g id="xtick_9"> <g id="line2d_41"> <path d="M 989.28 383.6 L 989.28 9.3 " clip-path="url(#p90375c643d)" style="fill: none; stroke: #c2c2c2; stroke-width: 1.4; stroke-linecap: square"/> </g> <g id="line2d_42"> <g> <path d="M 0 0 L 0 4.2 " transform="translate(989.28 383.6)" style="fill: #262626; stroke: #262626; stroke-width: 1.2; stroke: #262626; stroke-width: 1.2"/> </g> </g> <g id="text_23"> <text style="font-size: 22.2px; font-family: 'DejaVu Sans'; text-anchor: middle; fill: #111111" x="989.28" y="408.46" transform="rotate(-0 989.28 408.46)">4</text> </g> </g> <g id="xtick_10"> <g id="line2d_43"> <path d="M 1065.46 383.6 L 1065.46 9.3 " clip-path="url(#p90375c643d)" style="fill: none; stroke: #c2c2c2; stroke-width: 1.4; stroke-linecap: square"/> </g> <g id="line2d_44"> <g> <path d="M 0 0 L 0 4.2 " transform="translate(1065.46 383.6)" style="fill: #262626; stroke: #262626; stroke-width: 1.2; stroke: #262626; stroke-width: 1.2"/> </g> </g> <g id="text_24"> <text style="font-size: 22.2px; font-family: 'DejaVu Sans'; text-anchor: middle; fill: #111111" x="1065.46" y="408.46" transform="rotate(-0 1065.46 408.46)">5</text> </g> </g> <g id="xtick_11"> <g id="line2d_45"> <path d="M 1141.64 383.6 L 1141.64 9.3 " clip-path="url(#p90375c643d)" style="fill: none; stroke: #c2c2c2; stroke-width: 1.4; stroke-linecap: square"/> </g> <g id="line2d_46"> <g> <path d="M 0 0 L 0 4.2 " transform="translate(1141.65 383.6)" style="fill: #262626; stroke: #262626; stroke-width: 1.2; stroke: #262626; stroke-width: 1.2"/> </g> </g> <g id="text_25"> <text style="font-size: 22.2px; font-family: 'DejaVu Sans'; text-anchor: middle; fill: #111111" x="1141.64" y="408.46" transform="rotate(-0 1141.64 408.46)">6</text> </g> </g> <g id="text_26"> <text style="font-size: 28.3px; font-family: 'DejaVu Sans'; text-anchor: middle" x="913.1" y="438.68" transform="rotate(-0 913.1 438.68)">Delay time (100ms)</text> </g> </g> <g id="matplotlib.axis_4"> <g id="ytick_7"> <g id="line2d_47"> <path d="M 661.7 334.79 L 1164.5 334.79 " clip-path="url(#p90375c643d)" style="fill: none; stroke: #c2c2c2; stroke-width: 1.4; stroke-linecap: square"/> </g> <g id="line2d_48"> <g> <path d="M 0 0 L -4.2 0 " transform="translate(661.7 334.79)" style="fill: #262626; stroke: #262626; stroke-width: 1.2; stroke: #262626; stroke-width: 1.2"/> </g> </g> <g id="text_27"> <text style="font-size: 22.2px; font-family: 'DejaVu Sans'; text-anchor: end; fill: #111111" x="653.7" y="343.22" transform="rotate(-0 653.7 343.22)">50</text> </g> </g> <g id="ytick_8"> <g id="line2d_49"> <path d="M 661.7 278.03 L 1164.5 278.03 " clip-path="url(#p90375c643d)" style="fill: none; stroke: #c2c2c2; stroke-width: 1.4; stroke-linecap: square"/> </g> <g id="line2d_50"> <g> <path d="M 0 0 L -4.2 0 " transform="translate(661.7 278.03)" style="fill: #262626; stroke: #262626; stroke-width: 1.2; stroke: #262626; stroke-width: 1.2"/> </g> </g> <g id="text_28"> <text style="font-size: 22.2px; font-family: 'DejaVu Sans'; text-anchor: end; fill: #111111" x="653.7" y="286.46" transform="rotate(-0 653.7 286.46)">52</text> </g> </g> <g id="ytick_9"> <g id="line2d_51"> <path d="M 661.7 221.28 L 1164.5 221.28 " clip-path="url(#p90375c643d)" style="fill: none; stroke: #c2c2c2; stroke-width: 1.4; stroke-linecap: square"/> </g> <g id="line2d_52"> <g> <path d="M 0 0 L -4.2 0 " transform="translate(661.7 221.28)" style="fill: #262626; stroke: #262626; stroke-width: 1.2; stroke: #262626; stroke-width: 1.2"/> </g> </g> <g id="text_29"> <text style="font-size: 22.2px; font-family: 'DejaVu Sans'; text-anchor: end; fill: #111111" x="653.7" y="229.71" transform="rotate(-0 653.7 229.71)">54</text> </g> </g> <g id="ytick_10"> <g id="line2d_53"> <path d="M 661.7 164.52 L 1164.5 164.52 " clip-path="url(#p90375c643d)" style="fill: none; stroke: #c2c2c2; stroke-width: 1.4; stroke-linecap: square"/> </g> <g id="line2d_54"> <g> <path d="M 0 0 L -4.2 0 " transform="translate(661.7 164.52)" style="fill: #262626; stroke: #262626; stroke-width: 1.2; stroke: #262626; stroke-width: 1.2"/> </g> </g> <g id="text_30"> <text style="font-size: 22.2px; font-family: 'DejaVu Sans'; text-anchor: end; fill: #111111" x="653.7" y="172.95" transform="rotate(-0 653.7 172.95)">56</text> </g> </g> <g id="ytick_11"> <g id="line2d_55"> <path d="M 661.7 107.77 L 1164.5 107.77 " clip-path="url(#p90375c643d)" style="fill: none; stroke: #c2c2c2; stroke-width: 1.4; stroke-linecap: square"/> </g> <g id="line2d_56"> <g> <path d="M 0 0 L -4.2 0 " transform="translate(661.7 107.77)" style="fill: #262626; stroke: #262626; stroke-width: 1.2; stroke: #262626; stroke-width: 1.2"/> </g> </g> <g id="text_31"> <text style="font-size: 22.2px; font-family: 'DejaVu Sans'; text-anchor: end; fill: #111111" x="653.7" y="116.20" transform="rotate(-0 653.7 116.20)">58</text> </g> </g> <g id="ytick_12"> <g id="line2d_57"> <path d="M 661.7 51.01 L 1164.5 51.01 " clip-path="url(#p90375c643d)" style="fill: none; stroke: #c2c2c2; stroke-width: 1.4; stroke-linecap: square"/> </g> <g id="line2d_58"> <g> <path d="M 0 0 L -4.2 0 " transform="translate(661.7 51.01)" style="fill: #262626; stroke: #262626; stroke-width: 1.2; stroke: #262626; stroke-width: 1.2"/> </g> </g> <g id="text_32"> <text style="font-size: 22.2px; font-family: 'DejaVu Sans'; text-anchor: end; fill: #111111" x="653.7" y="59.44" transform="rotate(-0 653.7 59.44)">60</text> </g> </g> <g id="text_33"> <text style="font-size: 28.3px; font-family: 'DejaVu Sans'; text-anchor: middle" x="614.26" y="196.45" transform="rotate(-90 614.26 196.45)">Accuracy(%)</text> </g> </g> <g id="FillBetweenPolyCollection_6"> <g clip-path="url(#p90375c643d)"> <path d="M 684.55 -240.80 L 684.55 -237.96 L 760.73 -223.20 L 836.91 -213.84 L 913.1 -197.38 L 989.28 -201.92 L 1065.46 -160.49 L 1141.64 -145.45 L 1141.64 -175.24 L 1141.64 -175.24 L 1065.46 -195.11 L 989.28 -226.61 L 913.1 -218.38 L 836.91 -225.19 L 760.73 -230.01 L 684.55 -240.80 z " transform="translate(0 453)" style="fill: #1f77b4; fill-opacity: 0.2"/> </g> </g> <g id="FillBetweenPolyCollection_7"> <g clip-path="url(#p90375c643d)"> <path d="M 684.55 -257.25 L 684.55 -254.42 L 760.73 -238.24 L 836.91 -223.77 L 913.1 -208.45 L 989.28 -196.81 L 1065.46 -173.54 L 1141.64 -175.24 L 1141.64 -206.74 L 1141.64 -206.74 L 1065.46 -186.88 L 989.28 -230.58 L 913.1 -220.08 L 836.91 -232.28 L 760.73 -243.92 L 684.55 -257.25 z " transform="translate(0 453)" style="fill: #40ae40; fill-opacity: 0.2"/> </g> </g> <g id="FillBetweenPolyCollection_8"> <g clip-path="url(#p90375c643d)"> <path d="M 684.55 -348.91 L 684.55 -346.08 L 760.73 -337.56 L 836.91 -328.77 L 913.1 -305.21 L 989.28 -292.73 L 1065.46 -267.47 L 1141.64 -247.61 L 1141.64 -290.74 L 1141.64 -290.74 L 1065.46 -300.39 L 989.28 -327.91 L 913.1 -335.01 L 836.91 -342.10 L 760.73 -343.24 L 684.55 -348.91 z " transform="translate(0 453)" style="fill: #9b59b6; fill-opacity: 0.2"/> </g> </g> <g id="FillBetweenPolyCollection_9"> <g clip-path="url(#p90375c643d)"> <path d="M 684.55 -337.56 L 684.55 -334.73 L 760.73 -327.06 L 836.91 -315.71 L 913.1 -299.54 L 989.28 -309.47 L 1065.46 -285.06 L 1141.64 -231.71 L 1141.64 -284.21 L 1141.64 -284.21 L 1065.46 -333.59 L 989.28 -324.79 L 913.1 -314.29 L 836.91 -325.36 L 760.73 -332.74 L 684.55 -337.56 z " transform="translate(0 453)" style="fill: #ff7f0e; fill-opacity: 0.2"/> </g> </g> <g id="FillBetweenPolyCollection_10"> <g clip-path="url(#p90375c643d)"> <path d="M 684.55 -427.52 L 684.55 -424.68 L 760.73 -411.34 L 836.91 -394.32 L 913.1 -374.45 L 989.28 -372.47 L 1065.46 -357.99 L 1141.64 -307.20 L 1141.64 -369.91 L 1141.64 -369.91 L 1065.46 -382.12 L 989.28 -407.37 L 913.1 -391.48 L 836.91 -407.66 L 760.73 -419.29 L 684.55 -427.52 z " transform="translate(0 453)" style="fill: #c8102e; fill-opacity: 0.2"/> </g> </g> <g id="line2d_59"> <path d="M 684.55 366.57 L 760.73 366.57 L 836.91 366.57 L 913.1 366.57 L 989.28 366.57 L 1065.46 366.57 L 1141.64 366.57 " clip-path="url(#p90375c643d)" style="fill: none; stroke: #4040e0; stroke-width: 2.8; stroke-linecap: square"/> <g clip-path="url(#p90375c643d)"> <path d="M 0 6.75 C 1.79 6.75 3.50 6.03 4.77 4.77 C 6.03 3.50 6.75 1.79 6.75 0 C 6.75 -1.79 6.03 -3.50 4.77 -4.77 C 3.50 -6.03 1.79 -6.75 0 -6.75 C -1.79 -6.75 -3.50 -6.03 -4.77 -4.77 C -6.03 -3.50 -6.75 -1.79 -6.75 0 C -6.75 1.79 -6.03 3.50 -4.77 4.77 C -3.50 6.03 -1.79 6.75 0 6.75 z " transform="translate(684.55 366.57)" style="fill-opacity: 0; stroke: #4040e0; stroke-width: 2.1; stroke: #4040e0; stroke-width: 2.1"/> <path d="M 0 6.75 C 1.79 6.75 3.50 6.03 4.77 4.77 C 6.03 3.50 6.75 1.79 6.75 0 C 6.75 -1.79 6.03 -3.50 4.77 -4.77 C 3.50 -6.03 1.79 -6.75 0 -6.75 C -1.79 -6.75 -3.50 -6.03 -4.77 -4.77 C -6.03 -3.50 -6.75 -1.79 -6.75 0 C -6.75 1.79 -6.03 3.50 -4.77 4.77 C -3.50 6.03 -1.79 6.75 0 6.75 z " transform="translate(760.73 366.57)" style="fill-opacity: 0; stroke: #4040e0; stroke-width: 2.1; stroke: #4040e0; stroke-width: 2.1"/> <path d="M 0 6.75 C 1.79 6.75 3.50 6.03 4.77 4.77 C 6.03 3.50 6.75 1.79 6.75 0 C 6.75 -1.79 6.03 -3.50 4.77 -4.77 C 3.50 -6.03 1.79 -6.75 0 -6.75 C -1.79 -6.75 -3.50 -6.03 -4.77 -4.77 C -6.03 -3.50 -6.75 -1.79 -6.75 0 C -6.75 1.79 -6.03 3.50 -4.77 4.77 C -3.50 6.03 -1.79 6.75 0 6.75 z " transform="translate(836.91 366.57)" style="fill-opacity: 0; stroke: #4040e0; stroke-width: 2.1; stroke: #4040e0; stroke-width: 2.1"/> <path d="M 0 6.75 C 1.79 6.75 3.50 6.03 4.77 4.77 C 6.03 3.50 6.75 1.79 6.75 0 C 6.75 -1.79 6.03 -3.50 4.77 -4.77 C 3.50 -6.03 1.79 -6.75 0 -6.75 C -1.79 -6.75 -3.50 -6.03 -4.77 -4.77 C -6.03 -3.50 -6.75 -1.79 -6.75 0 C -6.75 1.79 -6.03 3.50 -4.77 4.77 C -3.50 6.03 -1.79 6.75 0 6.75 z " transform="translate(913.1 366.57)" style="fill-opacity: 0; stroke: #4040e0; stroke-width: 2.1; stroke: #4040e0; stroke-width: 2.1"/> <path d="M 0 6.75 C 1.79 6.75 3.50 6.03 4.77 4.77 C 6.03 3.50 6.75 1.79 6.75 0 C 6.75 -1.79 6.03 -3.50 4.77 -4.77 C 3.50 -6.03 1.79 -6.75 0 -6.75 C -1.79 -6.75 -3.50 -6.03 -4.77 -4.77 C -6.03 -3.50 -6.75 -1.79 -6.75 0 C -6.75 1.79 -6.03 3.50 -4.77 4.77 C -3.50 6.03 -1.79 6.75 0 6.75 z " transform="translate(989.28 366.57)" style="fill-opacity: 0; stroke: #4040e0; stroke-width: 2.1; stroke: #4040e0; stroke-width: 2.1"/> <path d="M 0 6.75 C 1.79 6.75 3.50 6.03 4.77 4.77 C 6.03 3.50 6.75 1.79 6.75 0 C 6.75 -1.79 6.03 -3.50 4.77 -4.77 C 3.50 -6.03 1.79 -6.75 0 -6.75 C -1.79 -6.75 -3.50 -6.03 -4.77 -4.77 C -6.03 -3.50 -6.75 -1.79 -6.75 0 C -6.75 1.79 -6.03 3.50 -4.77 4.77 C -3.50 6.03 -1.79 6.75 0 6.75 z " transform="translate(1065.46 366.57)" style="fill-opacity: 0; stroke: #4040e0; stroke-width: 2.1; stroke: #4040e0; stroke-width: 2.1"/> <path d="M 0 6.75 C 1.79 6.75 3.50 6.03 4.77 4.77 C 6.03 3.50 6.75 1.79 6.75 0 C 6.75 -1.79 6.03 -3.50 4.77 -4.77 C 3.50 -6.03 1.79 -6.75 0 -6.75 C -1.79 -6.75 -3.50 -6.03 -4.77 -4.77 C -6.03 -3.50 -6.75 -1.79 -6.75 0 C -6.75 1.79 -6.03 3.50 -4.77 4.77 C -3.50 6.03 -1.79 6.75 0 6.75 z " transform="translate(1141.65 366.57)" style="fill-opacity: 0; stroke: #4040e0; stroke-width: 2.1; stroke: #4040e0; stroke-width: 2.1"/> </g> </g> <g id="line2d_60"> <path d="M 684.55 213.61 L 760.73 226.38 L 836.91 233.48 L 913.1 242.56 L 989.28 237.73 L 1065.46 271.22 L 1141.64 284.27 " clip-path="url(#p90375c643d)" style="fill: none; stroke-dasharray: 12.5,5.2; stroke-dashoffset: 0; stroke: #1f77b4; stroke-width: 3.3"/> <g clip-path="url(#p90375c643d)"> <path d="M -6.75 6.75 L 6.75 6.75 L 6.75 -6.75 L -6.75 -6.75 z " transform="translate(684.55 213.61)" style="fill-opacity: 0; stroke: #1f77b4; stroke-width: 2.1; stroke-linejoin: miter; stroke: #1f77b4; stroke-width: 2.1; stroke-linejoin: miter"/> <path d="M -6.75 6.75 L 6.75 6.75 L 6.75 -6.75 L -6.75 -6.75 z " transform="translate(760.73 226.38)" style="fill-opacity: 0; stroke: #1f77b4; stroke-width: 2.1; stroke-linejoin: miter; stroke: #1f77b4; stroke-width: 2.1; stroke-linejoin: miter"/> <path d="M -6.75 6.75 L 6.75 6.75 L 6.75 -6.75 L -6.75 -6.75 z " transform="translate(836.91 233.48)" style="fill-opacity: 0; stroke: #1f77b4; stroke-width: 2.1; stroke-linejoin: miter; stroke: #1f77b4; stroke-width: 2.1; stroke-linejoin: miter"/> <path d="M -6.75 6.75 L 6.75 6.75 L 6.75 -6.75 L -6.75 -6.75 z " transform="translate(913.1 242.56)" style="fill-opacity: 0; stroke: #1f77b4; stroke-width: 2.1; stroke-linejoin: miter; stroke: #1f77b4; stroke-width: 2.1; stroke-linejoin: miter"/> <path d="M -6.75 6.75 L 6.75 6.75 L 6.75 -6.75 L -6.75 -6.75 z " transform="translate(989.28 237.73)" style="fill-opacity: 0; stroke: #1f77b4; stroke-width: 2.1; stroke-linejoin: miter; stroke: #1f77b4; stroke-width: 2.1; stroke-linejoin: miter"/> <path d="M -6.75 6.75 L 6.75 6.75 L 6.75 -6.75 L -6.75 -6.75 z " transform="translate(1065.46 271.22)" style="fill-opacity: 0; stroke: #1f77b4; stroke-width: 2.1; stroke-linejoin: miter; stroke: #1f77b4; stroke-width: 2.1; stroke-linejoin: miter"/> <path d="M -6.75 6.75 L 6.75 6.75 L 6.75 -6.75 L -6.75 -6.75 z " transform="translate(1141.65 284.27)" style="fill-opacity: 0; stroke: #1f77b4; stroke-width: 2.1; stroke-linejoin: miter; stroke: #1f77b4; stroke-width: 2.1; stroke-linejoin: miter"/> </g> </g> <g id="line2d_61"> <path d="M 684.55 197.15 L 760.73 211.91 L 836.91 224.96 L 913.1 237.17 L 989.28 244.83 L 1065.46 272.64 L 1141.64 261.00 " clip-path="url(#p90375c643d)" style="fill: none; stroke-dasharray: 3,3.6; stroke-dashoffset: 0; stroke: #40ae40; stroke-width: 3.2"/> <g clip-path="url(#p90375c643d)"> <path d="M 0 -7 L -7 7 L 7 7 z " transform="translate(684.55 197.15)" style="fill-opacity: 0; stroke: #40ae40; stroke-width: 2.1; stroke-linejoin: miter; stroke: #40ae40; stroke-width: 2.1; stroke-linejoin: miter"/> <path d="M 0 -7 L -7 7 L 7 7 z " transform="translate(760.73 211.91)" style="fill-opacity: 0; stroke: #40ae40; stroke-width: 2.1; stroke-linejoin: miter; stroke: #40ae40; stroke-width: 2.1; stroke-linejoin: miter"/> <path d="M 0 -7 L -7 7 L 7 7 z " transform="translate(836.91 224.96)" style="fill-opacity: 0; stroke: #40ae40; stroke-width: 2.1; stroke-linejoin: miter; stroke: #40ae40; stroke-width: 2.1; stroke-linejoin: miter"/> <path d="M 0 -7 L -7 7 L 7 7 z " transform="translate(913.1 237.17)" style="fill-opacity: 0; stroke: #40ae40; stroke-width: 2.1; stroke-linejoin: miter; stroke: #40ae40; stroke-width: 2.1; stroke-linejoin: miter"/> <path d="M 0 -7 L -7 7 L 7 7 z " transform="translate(989.28 244.83)" style="fill-opacity: 0; stroke: #40ae40; stroke-width: 2.1; stroke-linejoin: miter; stroke: #40ae40; stroke-width: 2.1; stroke-linejoin: miter"/> <path d="M 0 -7 L -7 7 L 7 7 z " transform="translate(1065.46 272.64)" style="fill-opacity: 0; stroke: #40ae40; stroke-width: 2.1; stroke-linejoin: miter; stroke: #40ae40; stroke-width: 2.1; stroke-linejoin: miter"/> <path d="M 0 -7 L -7 7 L 7 7 z " transform="translate(1141.65 261.00)" style="fill-opacity: 0; stroke: #40ae40; stroke-width: 2.1; stroke-linejoin: miter; stroke: #40ae40; stroke-width: 2.1; stroke-linejoin: miter"/> </g> </g> <g id="line2d_62"> <path d="M 684.55 105.49 L 760.73 112.59 L 836.91 119.97 L 913.1 135.01 L 989.28 142.39 L 1065.46 165.37 L 1141.64 186.09 " clip-path="url(#p90375c643d)" style="fill: none; stroke-dasharray: 9.6,4.5,4.6,4.5; stroke-dashoffset: 0; stroke: #9b59b6; stroke-width: 3.2"/> <g clip-path="url(#p90375c643d)"> <path d="M -0 9.89 L 9.89 0 L 0 -9.89 L -9.89 -0 z " transform="translate(684.55 105.5)" style="fill-opacity: 0; stroke: #9b59b6; stroke-width: 2.1; stroke-linejoin: miter; stroke: #9b59b6; stroke-width: 2.1; stroke-linejoin: miter"/> <path d="M -0 9.89 L 9.89 0 L 0 -9.89 L -9.89 -0 z " transform="translate(760.73 112.59)" style="fill-opacity: 0; stroke: #9b59b6; stroke-width: 2.1; stroke-linejoin: miter; stroke: #9b59b6; stroke-width: 2.1; stroke-linejoin: miter"/> <path d="M -0 9.89 L 9.89 0 L 0 -9.89 L -9.89 -0 z " transform="translate(836.91 119.97)" style="fill-opacity: 0; stroke: #9b59b6; stroke-width: 2.1; stroke-linejoin: miter; stroke: #9b59b6; stroke-width: 2.1; stroke-linejoin: miter"/> <path d="M -0 9.89 L 9.89 0 L 0 -9.89 L -9.89 -0 z " transform="translate(913.1 135.01)" style="fill-opacity: 0; stroke: #9b59b6; stroke-width: 2.1; stroke-linejoin: miter; stroke: #9b59b6; stroke-width: 2.1; stroke-linejoin: miter"/> <path d="M -0 9.89 L 9.89 0 L 0 -9.89 L -9.89 -0 z " transform="translate(989.28 142.39)" style="fill-opacity: 0; stroke: #9b59b6; stroke-width: 2.1; stroke-linejoin: miter; stroke: #9b59b6; stroke-width: 2.1; stroke-linejoin: miter"/> <path d="M -0 9.89 L 9.89 0 L 0 -9.89 L -9.89 -0 z " transform="translate(1065.46 165.37)" style="fill-opacity: 0; stroke: #9b59b6; stroke-width: 2.1; stroke-linejoin: miter; stroke: #9b59b6; stroke-width: 2.1; stroke-linejoin: miter"/> <path d="M -0 9.89 L 9.89 0 L 0 -9.89 L -9.89 -0 z " transform="translate(1141.65 186.09)" style="fill-opacity: 0; stroke: #9b59b6; stroke-width: 2.1; stroke-linejoin: miter; stroke: #9b59b6; stroke-width: 2.1; stroke-linejoin: miter"/> </g> </g> <g id="line2d_63"> <path d="M 684.55 116.85 L 760.73 123.09 L 836.91 131.60 L 913.1 146.36 L 989.28 135.58 L 1065.46 142.39 L 1141.64 202.83 " clip-path="url(#p90375c643d)" style="fill: none; stroke-dasharray: 16.2,4,3,3.6; stroke-dashoffset: 0; stroke: #ff7f0e; stroke-width: 3.3"/> <g clip-path="url(#p90375c643d)"> <path d="M 0 -7 L -1.57 -2.16 L -6.65 -2.16 L -2.54 0.82 L -4.11 5.66 L -0 2.67 L 4.11 5.66 L 2.54 0.82 L 6.65 -2.16 L 1.57 -2.16 z " transform="translate(684.55 116.85)" style="fill-opacity: 0; stroke: #ff7f0e; stroke-width: 2.9; stroke-linejoin: bevel; stroke: #ff7f0e; stroke-width: 2.9; stroke-linejoin: bevel"/> <path d="M 0 -7 L -1.57 -2.16 L -6.65 -2.16 L -2.54 0.82 L -4.11 5.66 L -0 2.67 L 4.11 5.66 L 2.54 0.82 L 6.65 -2.16 L 1.57 -2.16 z " transform="translate(760.73 123.09)" style="fill-opacity: 0; stroke: #ff7f0e; stroke-width: 2.9; stroke-linejoin: bevel; stroke: #ff7f0e; stroke-width: 2.9; stroke-linejoin: bevel"/> <path d="M 0 -7 L -1.57 -2.16 L -6.65 -2.16 L -2.54 0.82 L -4.11 5.66 L -0 2.67 L 4.11 5.66 L 2.54 0.82 L 6.65 -2.16 L 1.57 -2.16 z " transform="translate(836.91 131.60)" style="fill-opacity: 0; stroke: #ff7f0e; stroke-width: 2.9; stroke-linejoin: bevel; stroke: #ff7f0e; stroke-width: 2.9; stroke-linejoin: bevel"/> <path d="M 0 -7 L -1.57 -2.16 L -6.65 -2.16 L -2.54 0.82 L -4.11 5.66 L -0 2.67 L 4.11 5.66 L 2.54 0.82 L 6.65 -2.16 L 1.57 -2.16 z " transform="translate(913.1 146.36)" style="fill-opacity: 0; stroke: #ff7f0e; stroke-width: 2.9; stroke-linejoin: bevel; stroke: #ff7f0e; stroke-width: 2.9; stroke-linejoin: bevel"/> <path d="M 0 -7 L -1.57 -2.16 L -6.65 -2.16 L -2.54 0.82 L -4.11 5.66 L -0 2.67 L 4.11 5.66 L 2.54 0.82 L 6.65 -2.16 L 1.57 -2.16 z " transform="translate(989.28 135.58)" style="fill-opacity: 0; stroke: #ff7f0e; stroke-width: 2.9; stroke-linejoin: bevel; stroke: #ff7f0e; stroke-width: 2.9; stroke-linejoin: bevel"/> <path d="M 0 -7 L -1.57 -2.16 L -6.65 -2.16 L -2.54 0.82 L -4.11 5.66 L -0 2.67 L 4.11 5.66 L 2.54 0.82 L 6.65 -2.16 L 1.57 -2.16 z " transform="translate(1065.46 142.39)" style="fill-opacity: 0; stroke: #ff7f0e; stroke-width: 2.9; stroke-linejoin: bevel; stroke: #ff7f0e; stroke-width: 2.9; stroke-linejoin: bevel"/> <path d="M 0 -7 L -1.57 -2.16 L -6.65 -2.16 L -2.54 0.82 L -4.11 5.66 L -0 2.67 L 4.11 5.66 L 2.54 0.82 L 6.65 -2.16 L 1.57 -2.16 z " transform="translate(1141.65 202.83)" style="fill-opacity: 0; stroke: #ff7f0e; stroke-width: 2.9; stroke-linejoin: bevel; stroke: #ff7f0e; stroke-width: 2.9; stroke-linejoin: bevel"/> </g> </g> <g id="line2d_64"> <path d="M 684.55 26.89 L 760.73 37.67 L 836.91 52.43 L 913.1 70.02 L 989.28 67.75 L 1065.46 86.48 L 1141.64 109.75 " clip-path="url(#p90375c643d)" style="fill: none; stroke-dasharray: 10,3.7,4.3,3.7,4.3,3.7; stroke-dashoffset: 0; stroke: #c8102e; stroke-width: 3.3"/> <g clip-path="url(#p90375c643d)"> <path d="M -3.3 6.6 L 0 3.3 L 3.3 6.6 L 6.6 3.3 L 3.3 0 L 6.6 -3.3 L 3.3 -6.6 L 0 -3.3 L -3.3 -6.6 L -6.6 -3.3 L -3.3 0 L -6.6 3.3 z " transform="translate(684.55 26.89)" style="fill-opacity: 0; stroke: #c8102e; stroke-width: 2.1; stroke-linejoin: miter; stroke: #c8102e; stroke-width: 2.1; stroke-linejoin: miter"/> <path d="M -3.3 6.6 L 0 3.3 L 3.3 6.6 L 6.6 3.3 L 3.3 0 L 6.6 -3.3 L 3.3 -6.6 L 0 -3.3 L -3.3 -6.6 L -6.6 -3.3 L -3.3 0 L -6.6 3.3 z " transform="translate(760.73 37.67)" style="fill-opacity: 0; stroke: #c8102e; stroke-width: 2.1; stroke-linejoin: miter; stroke: #c8102e; stroke-width: 2.1; stroke-linejoin: miter"/> <path d="M -3.3 6.6 L 0 3.3 L 3.3 6.6 L 6.6 3.3 L 3.3 0 L 6.6 -3.3 L 3.3 -6.6 L 0 -3.3 L -3.3 -6.6 L -6.6 -3.3 L -3.3 0 L -6.6 3.3 z " transform="translate(836.91 52.43)" style="fill-opacity: 0; stroke: #c8102e; stroke-width: 2.1; stroke-linejoin: miter; stroke: #c8102e; stroke-width: 2.1; stroke-linejoin: miter"/> <path d="M -3.3 6.6 L 0 3.3 L 3.3 6.6 L 6.6 3.3 L 3.3 0 L 6.6 -3.3 L 3.3 -6.6 L 0 -3.3 L -3.3 -6.6 L -6.6 -3.3 L -3.3 0 L -6.6 3.3 z " transform="translate(913.1 70.02)" style="fill-opacity: 0; stroke: #c8102e; stroke-width: 2.1; stroke-linejoin: miter; stroke: #c8102e; stroke-width: 2.1; stroke-linejoin: miter"/> <path d="M -3.3 6.6 L 0 3.3 L 3.3 6.6 L 6.6 3.3 L 3.3 0 L 6.6 -3.3 L 3.3 -6.6 L 0 -3.3 L -3.3 -6.6 L -6.6 -3.3 L -3.3 0 L -6.6 3.3 z " transform="translate(989.28 67.75)" style="fill-opacity: 0; stroke: #c8102e; stroke-width: 2.1; stroke-linejoin: miter; stroke: #c8102e; stroke-width: 2.1; stroke-linejoin: miter"/> <path d="M -3.3 6.6 L 0 3.3 L 3.3 6.6 L 6.6 3.3 L 3.3 0 L 6.6 -3.3 L 3.3 -6.6 L 0 -3.3 L -3.3 -6.6 L -6.6 -3.3 L -3.3 0 L -6.6 3.3 z " transform="translate(1065.46 86.48)" style="fill-opacity: 0; stroke: #c8102e; stroke-width: 2.1; stroke-linejoin: miter; stroke: #c8102e; stroke-width: 2.1; stroke-linejoin: miter"/> <path d="M -3.3 6.6 L 0 3.3 L 3.3 6.6 L 6.6 3.3 L 3.3 0 L 6.6 -3.3 L 3.3 -6.6 L 0 -3.3 L -3.3 -6.6 L -6.6 -3.3 L -3.3 0 L -6.6 3.3 z " transform="translate(1141.65 109.75)" style="fill-opacity: 0; stroke: #c8102e; stroke-width: 2.1; stroke-linejoin: miter; stroke: #c8102e; stroke-width: 2.1; stroke-linejoin: miter"/> </g> </g> <g id="patch_9"> <path d="M 661.7 383.6 L 661.7 9.3 " style="fill: none; stroke: #262626; stroke-width: 1.3; stroke-linejoin: miter; stroke-linecap: square"/> </g> <g id="patch_10"> <path d="M 1164.5 383.6 L 1164.5 9.3 " style="fill: none; stroke: #262626; stroke-width: 1.3; stroke-linejoin: miter; stroke-linecap: square"/> </g> <g id="patch_11"> <path d="M 661.7 383.6 L 1164.5 383.6 " style="fill: none; stroke: #262626; stroke-width: 1.3; stroke-linejoin: miter; stroke-linecap: square"/> </g> <g id="patch_12"> <path d="M 661.7 9.3 L 1164.5 9.3 " style="fill: none; stroke: #262626; stroke-width: 1.3; stroke-linejoin: miter; stroke-linecap: square"/> </g> <g id="legend_2"> <g id="patch_13"> <path d="M 677.48 372.32 L 903.36 372.32 Q 907.87 372.32 907.87 367.81 L 907.87 171.47 Q 907.87 166.96 903.36 166.96 L 677.48 166.96 Q 672.97 166.96 672.97 171.47 L 672.97 367.81 Q 672.97 372.32 677.48 372.32 z " style="fill: #ffffff; opacity: 0.8; stroke: #cccccc; stroke-linejoin: miter"/> </g> <g id="line2d_65"> <path d="M 681.99 185.22 L 704.54 185.22 L 727.09 185.22 " style="fill: none; stroke: #4040e0; stroke-width: 2.8; stroke-linecap: square"/> <g> <path d="M 0 6.75 C 1.79 6.75 3.50 6.03 4.77 4.77 C 6.03 3.50 6.75 1.79 6.75 0 C 6.75 -1.79 6.03 -3.50 4.77 -4.77 C 3.50 -6.03 1.79 -6.75 0 -6.75 C -1.79 -6.75 -3.50 -6.03 -4.77 -4.77 C -6.03 -3.50 -6.75 -1.79 -6.75 0 C -6.75 1.79 -6.03 3.50 -4.77 4.77 C -3.50 6.03 -1.79 6.75 0 6.75 z " transform="translate(704.54 185.22)" style="fill-opacity: 0; stroke: #4040e0; stroke-width: 2.1; stroke: #4040e0; stroke-width: 2.1"/> </g> </g> <g id="text_34"> <text style="font-size: 22.55px; font-family: 'DejaVu Sans'; text-anchor: start" x="745.13" y="193.11" transform="rotate(-0 745.13 193.11)">nofusion</text> </g> <g id="line2d_66"> <path d="M 681.99 218.32 L 704.54 218.32 L 727.09 218.32 " style="fill: none; stroke-dasharray: 12.5,5.2; stroke-dashoffset: 0; stroke: #1f77b4; stroke-width: 3.3"/> <g> <path d="M -6.75 6.75 L 6.75 6.75 L 6.75 -6.75 L -6.75 -6.75 z " transform="translate(704.54 218.32)" style="fill-opacity: 0; stroke: #1f77b4; stroke-width: 2.1; stroke-linejoin: miter; stroke: #1f77b4; stroke-width: 2.1; stroke-linejoin: miter"/> </g> </g> <g id="text_35"> <text style="font-size: 22.55px; font-family: 'DejaVu Sans'; text-anchor: start" x="745.13" y="226.21" transform="rotate(-0 745.13 226.21)">when2com</text> </g> <g id="line2d_67"> <path d="M 681.99 251.42 L 704.54 251.42 L 727.09 251.42 " style="fill: none; stroke-dasharray: 3,3.6; stroke-dashoffset: 0; stroke: #40ae40; stroke-width: 3.2"/> <g> <path d="M 0 -7 L -7 7 L 7 7 z " transform="translate(704.54 251.42)" style="fill-opacity: 0; stroke: #40ae40; stroke-width: 2.1; stroke-linejoin: miter; stroke: #40ae40; stroke-width: 2.1; stroke-linejoin: miter"/> </g> </g> <g id="text_36"> <text style="font-size: 22.55px; font-family: 'DejaVu Sans'; text-anchor: start" x="745.13" y="259.31" transform="rotate(-0 745.13 259.31)">where2comm</text> </g> <g id="line2d_68"> <path d="M 681.99 284.52 L 704.54 284.52 L 727.09 284.52 " style="fill: none; stroke-dasharray: 9.6,4.5,4.6,4.5; stroke-dashoffset: 0; stroke: #9b59b6; stroke-width: 3.2"/> <g> <path d="M -0 9.89 L 9.89 0 L 0 -9.89 L -9.89 -0 z " transform="translate(704.54 284.52)" style="fill-opacity: 0; stroke: #9b59b6; stroke-width: 2.1; stroke-linejoin: miter; stroke: #9b59b6; stroke-width: 2.1; stroke-linejoin: miter"/> </g> </g> <g id="text_37"> <text style="font-size: 22.55px; font-family: 'DejaVu Sans'; text-anchor: start" x="745.13" y="292.41" transform="rotate(-0 745.13 292.41)">select2col</text> </g> <g id="line2d_69"> <path d="M 681.99 317.62 L 704.54 317.62 L 727.09 317.62 " style="fill: none; stroke-dasharray: 16.2,4,3,3.6; stroke-dashoffset: 0; stroke: #ff7f0e; stroke-width: 3.3"/> <g> <path d="M 0 -7 L -1.57 -2.16 L -6.65 -2.16 L -2.54 0.82 L -4.11 5.66 L -0 2.67 L 4.11 5.66 L 2.54 0.82 L 6.65 -2.16 L 1.57 -2.16 z " transform="translate(704.54 317.62)" style="fill-opacity: 0; stroke: #ff7f0e; stroke-width: 2.9; stroke-linejoin: bevel; stroke: #ff7f0e; stroke-width: 2.9; stroke-linejoin: bevel"/> </g> </g> <g id="text_38"> <text style="font-size: 22.55px; font-family: 'DejaVu Sans'; text-anchor: start" x="745.13" y="325.51" transform="rotate(-0 745.13 325.51)">sicp</text> </g> <g id="line2d_70"> <path d="M 681.99 350.72 L 704.54 350.72 L 727.09 350.72 " style="fill: none; stroke-dasharray: 10,3.7,4.3,3.7,4.3,3.7; stroke-dashoffset: 0; stroke: #c8102e; stroke-width: 3.3"/> <g> <path d="M -3.3 6.6 L 0 3.3 L 3.3 6.6 L 6.6 3.3 L 3.3 0 L 6.6 -3.3 L 3.3 -6.6 L 0 -3.3 L -3.3 -6.6 L -6.6 -3.3 L -3.3 0 L -6.6 3.3 z " transform="translate(704.54 350.72)" style="fill-opacity: 0; stroke: #c8102e; stroke-width: 2.1; stroke-linejoin: miter; stroke: #c8102e; stroke-width: 2.1; stroke-linejoin: miter"/> </g> </g> <g id="text_39"> <text style="font-size: 22.55px; font-family: 'DejaVu Sans'; text-anchor: start" x="745.13" y="358.61" transform="rotate(-0 745.13 358.61)">select2drive</text> </g> </g> </g> </g> <defs> <clipPath id="p4d4e96e5f6"> <rect x="87.5" y="9.3" width="502.8" height="374.4"/> </clipPath> <clipPath id="p90375c643d"> <rect x="661.7" y="9.3" width="502.8" height="374.3"/> </clipPath> </defs> </svg> </div>
<div class="panel"><svg width="1933" height="453" viewBox="0 0 1933 453"><defs><radialGradient id="gw"><stop offset="0" stop-color="#fff" stop-opacity="1"/><stop offset="0.4" stop-color="#fff" stop-opacity="0.95"/><stop offset="0.65" stop-color="#eee" stop-opacity="0.6"/><stop offset="0.85" stop-color="#bbb" stop-opacity="0.22"/><stop offset="1" stop-color="#888" stop-opacity="0"/></radialGradient><radialGradient id="gs"><stop offset="0" stop-color="#fff" stop-opacity="0.85"/><stop offset="0.5" stop-color="#ddd" stop-opacity="0.45"/><stop offset="1" stop-color="#999" stop-opacity="0"/></radialGradient><radialGradient id="gh"><stop offset="0.45" stop-color="#fff" stop-opacity="1"/><stop offset="0.6" stop-color="#eee" stop-opacity="0.75"/><stop offset="0.8" stop-color="#aaa" stop-opacity="0.3"/><stop offset="1" stop-color="#777" stop-opacity="0"/></radialGradient><radialGradient id="gf"><stop offset="0" stop-color="#888" stop-opacity="0.5"/><stop offset="0.6" stop-color="#666" stop-opacity="0.25"/><stop offset="1" stop-color="#444" stop-opacity="0"/></radialGradient><clipPath id="c1"><rect x="1192" y="8.2" width="290.8" height="144"/></clipPath><clipPath id="c2"><rect x="1485.5" y="8.2" width="436" height="143"/></clipPath><clipPath id="c3"><rect x="1192" y="154.7" width="290.8" height="141.8"/></clipPath><clipPath id="c4"><rect x="1485.5" y="153.6" width="436" height="142.9"/></clipPath><clipPath id="c5"><rect x="1192" y="299.9" width="291.2" height="142.8"/></clipPath><clipPath id="c6"><rect x="1487" y="299.9" width="436" height="142.8"/></clipPath><radialGradient id="mg1"><stop offset="0" stop-color="#fff" stop-opacity="1"/><stop offset="0.6" stop-color="#fff" stop-opacity="0.8"/><stop offset="1" stop-color="#fff" stop-opacity="0"/></radialGradient><mask id="m1" maskUnits="userSpaceOnUse" x="1192" y="8.2" width="290.8" height="144"><rect x="1192" y="8.2" width="290.8" height="144" fill="#fff" opacity="0.1"/><ellipse cx="1350" cy="112" rx="175" ry="62" fill="url(#mg1)"/></mask><radialGradient id="h1" cx="0.5" cy="0.5" r="0.5"><stop offset="0.36" stop-color="#fff" stop-opacity="1.0"/><stop offset="0.46" stop-color="#ddd" stop-opacity="0.55"/><stop offset="0.62" stop-color="#aaa" stop-opacity="0.22"/><stop offset="0.82" stop-color="#888" stop-opacity="0.07"/><stop offset="1" stop-color="#666" stop-opacity="0"/></radialGradient><clipPath id="L2"><rect x="1485.5" y="40" width="220.5" height="111.2"/></clipPath><clipPath id="R2"><polygon points="1706,40 1751,40 1751,8.2 1921.5,8.2 1921.5,151.2 1706,151.2"/></clipPath><radialGradient id="mg3"><stop offset="0" stop-color="#fff" stop-opacity="1"/><stop offset="0.6" stop-color="#fff" stop-opacity="0.8"/><stop offset="1" stop-color="#fff" stop-opacity="0"/></radialGradient><mask id="m3" maskUnits="userSpaceOnUse" x="1192" y="154.7" width="290.8" height="141.8"><rect x="1192" y="154.7" width="290.8" height="141.8" fill="#fff" opacity="0.15"/><ellipse cx="1345" cy="250" rx="185" ry="75" fill="url(#mg3)"/></mask><radialGradient id="h3" cx="0.5" cy="0.5" r="0.5"><stop offset="0.36" stop-color="#fff" stop-opacity="0.75"/><stop offset="0.46" stop-color="#ddd" stop-opacity="0.41250000000000003"/><stop offset="0.62" stop-color="#aaa" stop-opacity="0.165"/><stop offset="0.82" stop-color="#888" stop-opacity="0.052500000000000005"/><stop offset="1" stop-color="#666" stop-opacity="0"/></radialGradient><clipPath id="L4"><rect x="1485.5" y="186.5" width="219.5" height="110"/></clipPath><clipPath id="R4"><polygon points="1705,186.5 1750,186.5 1750,153.6 1921.5,153.6 1921.5,296.5 1705,296.5"/></clipPath><radialGradient id="mg5"><stop offset="0" stop-color="#fff" stop-opacity="1"/><stop offset="0.6" stop-color="#fff" stop-opacity="0.8"/><stop offset="1" stop-color="#fff" stop-opacity="0"/></radialGradient><mask id="m5" maskUnits="userSpaceOnUse" x="1192" y="299.9" width="291.2" height="142.8"><rect x="1192" y="299.9" width="291.2" height="142.8" fill="#fff" opacity="0.08"/><ellipse cx="1330" cy="375" rx="190" ry="62" fill="url(#mg5)"/></mask><radialGradient id="h5" cx="0.5" cy="0.5" r="0.5"><stop offset="0.36" stop-color="#fff" stop-opacity="0.6"/><stop offset="0.46" stop-color="#ddd" stop-opacity="0.33"/><stop offset="0.62" stop-color="#aaa" stop-opacity="0.132"/><stop offset="0.82" stop-color="#888" stop-opacity="0.042"/><stop offset="1" stop-color="#666" stop-opacity="0"/></radialGradient><clipPath id="L6"><rect x="1487" y="333" width="222.5" height="109.7"/></clipPath><clipPath id="R6"><polygon points="1709.5,333 1754.5,333 1754.5,299.9 1923,299.9 1923,442.7 1709.5,442.7"/></clipPath></defs><rect x="1192" y="8.2" width="290.8" height="144" fill="#000"/><rect x="1485.5" y="8.2" width="436" height="143" fill="#000"/><rect x="1192" y="154.7" width="290.8" height="141.8" fill="#000"/><rect x="1485.5" y="153.6" width="436" height="142.9" fill="#000"/><rect x="1192" y="299.9" width="291.2" height="142.8" fill="#000"/><rect x="1487" y="299.9" width="436" height="142.8" fill="#000"/><g clip-path="url(#c1)"><g mask="url(#m1)"><ellipse cx="1338" cy="110.4" rx="30" ry="16.5" fill="none" stroke="#bbb" stroke-width="0.7" stroke-dasharray="0.9 1.1" opacity="0.35"/><ellipse cx="1338" cy="111" rx="33.2" ry="18.3" fill="none" stroke="#bbb" stroke-width="0.7" stroke-dasharray="0.9 1.1" opacity="0.35"/><ellipse cx="1338" cy="111.7" rx="36.6" ry="20.1" fill="none" stroke="#bbb" stroke-width="0.7" stroke-dasharray="0.9 1.1" opacity="0.35"/><ellipse cx="1338" cy="112.4" rx="40.2" ry="22.1" fill="none" stroke="#bbb" stroke-width="0.7" stroke-dasharray="0.9 1.1" opacity="0.35"/><ellipse cx="1338" cy="113.2" rx="44" ry="24.2" fill="none" stroke="#bbb" stroke-width="0.7" stroke-dasharray="0.9 1.1" opacity="0.35"/><ellipse cx="1338" cy="114" rx="48" ry="26.4" fill="none" stroke="#bbb" stroke-width="0.7" stroke-dasharray="0.9 1.1" opacity="0.35"/><ellipse cx="1338" cy="114.9" rx="52.3" ry="28.8" fill="none" stroke="#bbb" stroke-width="0.7" stroke-dasharray="0.9 1.1" opacity="0.35"/><ellipse cx="1338" cy="115.8" rx="56.9" ry="31.3" fill="none" stroke="#bbb" stroke-width="0.7" stroke-dasharray="0.9 1.1" opacity="0.35"/><ellipse cx="1338" cy="116.7" rx="61.7" ry="33.9" fill="none" stroke="#bbb" stroke-width="0.7" stroke-dasharray="0.9 1.1" opacity="0.35"/><ellipse cx="1338" cy="117.8" rx="66.8" ry="36.7" fill="none" stroke="#bbb" stroke-width="0.7" stroke-dasharray="0.9 1.1" opacity="0.35"/><ellipse cx="1338" cy="118.8" rx="72.2" ry="39.7" fill="none" stroke="#bbb" stroke-width="0.7" stroke-dasharray="0.9 1.1" opacity="0.35"/><ellipse cx="1338" cy="120" rx="77.9" ry="42.9" fill="none" stroke="#bbb" stroke-width="0.7" stroke-dasharray="0.9 1.1" opacity="0.35"/><ellipse cx="1338" cy="121.2" rx="84" ry="46.2" fill="none" stroke="#bbb" stroke-width="0.7" stroke-dasharray="0.9 1.1" opacity="0.35"/><ellipse cx="1338" cy="122.5" rx="90.4" ry="49.7" fill="none" stroke="#bbb" stroke-width="0.7" stroke-dasharray="0.9 1.1" opacity="0.35"/><ellipse cx="1338" cy="123.8" rx="97.2" ry="53.5" fill="none" stroke="#bbb" stroke-width="0.7" stroke-dasharray="0.9 1.1" opacity="0.35"/><ellipse cx="1338" cy="125.3" rx="104.5" ry="57.5" fill="none" stroke="#bbb" stroke-width="0.7" stroke-dasharray="0.9 1.1" opacity="0.35"/><ellipse cx="1338" cy="126.8" rx="112.2" ry="61.7" fill="none" stroke="#bbb" stroke-width="0.7" stroke-dasharray="0.9 1.1" opacity="0.35"/><ellipse cx="1338" cy="128.5" rx="120.3" ry="66.2" fill="none" stroke="#bbb" stroke-width="0.7" stroke-dasharray="0.9 1.1" opacity="0.35"/><ellipse cx="1338" cy="130.2" rx="128.9" ry="70.9" fill="none" stroke="#bbb" stroke-width="0.7" stroke-dasharray="0.9 1.1" opacity="0.35"/><ellipse cx="1338" cy="132" rx="138" ry="75.9" fill="none" stroke="#bbb" stroke-width="0.7" stroke-dasharray="0.9 1.1" opacity="0.35"/><ellipse cx="1338" cy="133.9" rx="147.7" ry="81.2" fill="none" stroke="#bbb" stroke-width="0.7" stroke-dasharray="0.9 1.1" opacity="0.35"/><ellipse cx="1338" cy="136" rx="158" ry="86.9" fill="none" stroke="#bbb" stroke-width="0.7" stroke-dasharray="0.9 1.1" opacity="0.35"/><ellipse cx="1338" cy="138.2" rx="168.9" ry="92.9" fill="none" stroke="#bbb" stroke-width="0.7" stroke-dasharray="0.9 1.1" opacity="0.35"/><ellipse cx="1338" cy="140.5" rx="180.4" ry="99.2" fill="none" stroke="#bbb" stroke-width="0.7" stroke-dasharray="0.9 1.1" opacity="0.35"/><ellipse cx="1338" cy="142.9" rx="192.6" ry="105.9" fill="none" stroke="#bbb" stroke-width="0.7" stroke-dasharray="0.9 1.1" opacity="0.35"/><ellipse cx="1338" cy="145.5" rx="205.6" ry="113.1" fill="none" stroke="#bbb" stroke-width="0.7" stroke-dasharray="0.9 1.1" opacity="0.35"/><ellipse cx="1338" cy="148.3" rx="219.3" ry="120.6" fill="none" stroke="#bbb" stroke-width="0.7" stroke-dasharray="0.9 1.1" opacity="0.35"/><ellipse cx="1338" cy="151.2" rx="233.9" ry="128.6" fill="none" stroke="#bbb" stroke-width="0.7" stroke-dasharray="0.9 1.1" opacity="0.35"/><ellipse cx="1338" cy="154.3" rx="249.3" ry="137.1" fill="none" stroke="#bbb" stroke-width="0.7" stroke-dasharray="0.9 1.1" opacity="0.35"/><ellipse cx="1338" cy="157.5" rx="265.6" ry="146.1" fill="none" stroke="#bbb" stroke-width="0.7" stroke-dasharray="0.9 1.1" opacity="0.35"/><ellipse cx="1338" cy="161" rx="283" ry="155.6" fill="none" stroke="#bbb" stroke-width="0.7" stroke-dasharray="0.9 1.1" opacity="0.35"/><ellipse cx="1338" cy="164.7" rx="301.4" ry="165.8" fill="none" stroke="#bbb" stroke-width="0.7" stroke-dasharray="0.9 1.1" opacity="0.35"/><ellipse cx="1338" cy="168.6" rx="320.8" ry="176.5" fill="none" stroke="#bbb" stroke-width="0.7" stroke-dasharray="0.9 1.1" opacity="0.35"/></g><ellipse cx="1338" cy="124.4" rx="95" ry="42" fill="url(#gf)"/><ellipse cx="1338" cy="105.4" rx="66" ry="36" fill="url(#h1)"/><path d="M1272.5 84.9h0.4M1292.9 68.4h0.5M1275.4 87h1M1292.1 72.3h0.7M1279.7 85.3h0.7M1249.4 106.3h0.7M1257 99.8h0.7M1283.9 76.6h0.7M1286.1 79.6h1M1281.8 112h0.7M1296.3 81.3h0.8M1276.6 99.4h0.7M1293.8 124.2h0.7M1284.1 104h1M1292.5 79.4h0.6M1296 65.5h0.7M1292.3 118.8h0.6M1296.9 125.1h0.5M1260.8 98.5h1M1283.3 95.1h0.8M1298 113h0.9M1290.9 86.7h0.6M1267.6 92.9h0.5M1301.6 95.9h0.5M1295.4 107.3h0.6M1289 96.2h0.9M1294.7 114.8h0.9M1286.8 75.4h0.7M1253.1 107.1h1M1304.2 124.9h0.6M1293.8 92.6h0.8M1289.8 111h0.7M1303 86.9h0.6M1301.3 109.3h0.5M1298.3 114.8h0.5M1281 83.8h0.7M1303 104.2h0.7M1300.4 89.5h0.9M1292.8 74.4h0.6M1298.7 84.1h0.7M1270.1 96.2h0.7M1290.9 71.7h0.7M1285.8 97.8h0.6M1271.3 97.8h0.9M1289.1 94.5h0.7M1288.2 122h0.7M1277.9 94.4h0.7M1283.5 90.8h0.7M1283.9 119.6h1M1301 117.1h0.5M1289.9 121h0.5M1285.1 104.9h0.5M1304.3 116.6h0.5M1265.2 95.1h0.6M1273.8 90h0.4M1258.2 102.4h0.7M1292.3 77.6h0.5M1299.3 98.8h0.8M1283.2 88.9h0.4M1300.7 103.1h0.9M1288.2 79.7h0.7M1265.3 93.7h0.9M1262.5 94.5h0.8M1303.8 83.3h0.9M1284.5 103.2h0.6M1286.9 77.4h0.5M1295.9 105.6h0.6M1302.3 126.1h0.7M1268.2 94.2h0.5M1272 111h0.8M1285.1 119.8h0.6M1245.5 109.2h0.8M1297.4 102.7h0.8M1291.9 69.5h0.7M1270.3 116.8h0.9M1292.8 99.7h0.9M1282.8 107.1h0.5M1293.5 98h0.8M1278.8 106.3h0.7M1287.4 94.2h0.7M1286.6 77.1h0.4M1253.6 109.6h0.5M1268.5 106.5h0.9M1278.2 103.7h0.4M1287 80.7h0.7M1253.8 105.7h0.8M1282.3 79.8h0.7M1267.5 91.7h0.5M1297.6 73.5h1M1300.5 61.2h0.7M1301.7 69h0.9M1284.2 75.7h0.9M1293.7 68.2h1M1284.9 121.3h0.6M1304.9 100.1h0.6M1293.4 79.4h1M1296.9 115.2h0.8M1298.9 124h0.7M1286.3 90.7h0.9M1280.1 79.5h0.4M1299.9 68.7h0.7M1253.2 104.6h0.6M1274 86.8h0.5M1298.4 93.8h0.5M1287.5 88.1h0.6M1271.7 85.6h0.6M1302.7 68.6h0.7M1279.1 118.7h0.5M1301.8 117.7h0.9M1284.7 120.9h0.7M1292.8 118.2h1M1285.5 104h0.9M1267 97.5h0.4M1289.8 75.8h1M1280.2 80.7h0.5M1252.6 103.3h0.8M1271.7 99.6h0.6M1280.1 120.1h0.7M1302.2 107.9h0.6M1282.2 88.6h0.6M1290.8 110.3h0.7M1288.2 80.1h1M1297.9 120.1h0.8M1304.8 123.3h0.6M1281.5 85.7h0.6M1292.5 115.9h0.7M1297.8 62.1h0.6M1291.8 112.1h0.4M1299.4 77.5h0.8M1297.9 83.1h0.6M1302 102h0.6M1285.2 81.5h0.6M1299.2 103.1h1M1301.8 86.3h0.6M1265.1 93.6h1M1286.7 115.9h0.9M1277.5 82.3h0.6M1260.3 113.2h0.4M1284.7 90.4h0.5M1264.2 102.2h0.8M1287.4 117.6h0.8M1261.1 110.2h0.5M1275.5 82.2h0.6M1304.5 94.5h0.5M1291.6 104.4h1M1292.3 117.2h0.9M1303.1 99.7h1M1277 104.3h0.5M1290.7 97.3h0.4M1273.5 103.5h0.5M1286 73.8h0.4M1298.1 88.8h0.9M1301 126.3h0.7M1278.4 116.1h0.5M1290 75.1h0.6M1294.2 116.4h0.5M1271.3 86.1h0.5M1252.3 109.3h0.9M1293.7 68h0.8M1273.5 102.6h0.6M1264.4 99.6h0.7M1281.1 90.4h0.7M1288.4 113h0.7M1265.9 94.7h0.4M1286.3 112.9h0.7M1304.7 109.8h0.9M1299.1 71.2h0.9M1300.1 64.5h0.6M1297.8 78.7h0.9M1299.4 74.2h0.6M1282.6 120.9h0.5M1272.2 103.3h0.6M1296.1 97.8h0.7M1296.8 67.1h1M1279.1 86.8h0.9M1275.4 84.5h0.9M1292.4 77.2h0.8M1303.9 99.8h0.8M1278.1 89.4h0.7M1297.7 69h0.5M1278.7 92.3h0.5M1300.6 76.6h0.5M1296 113.2h0.6M1280.1 98.2h0.6M1280.2 90.2h1M1286.3 76.9h0.9M1300.9 69.7h0.5M1277.6 94.5h0.8M1291.9 71.9h0.6M1297.3 113.2h0.8M1287.2 91.6h0.8M1287.5 107.3h0.9M1284.8 78.1h0.7M1265.5 113.6h0.7M1253.6 103.7h1M1251.5 110.6h1M1287.2 82.2h0.9M1298.5 102.9h0.8M1283.8 118.3h0.7M1285.7 98.8h0.6M1283.5 103.1h0.8M1276.3 84.7h0.9M1292.4 120.6h0.4M1295.7 122.2h1M1294.3 115.2h0.8M1292.8 102.9h0.6M1288 73.9h0.6M1285.1 85h0.6M1302.5 94.3h0.9M1289.1 83.6h0.8M1295.4 66.2h0.9M1303.5 60.3h0.7M1269.4 114.2h0.5M1293.2 77.7h1M1284 93.9h0.5M1290.2 107.4h0.9M1279 84.2h0.6M1296.9 75.9h0.7M1272.2 111.3h0.9M1280.2 83.7h0.6M1281.3 110.5h0.5M1265.7 112.6h0.7M1297 76.2h0.5M1256.1 107.8h0.9M1303.3 109.6h0.5M1302.4 66.9h0.6M1303.9 114.1h0.8M1290.4 107.2h0.7M1279.3 91.5h0.5M1277.3 87.5h0.8M1298.6 89.2h0.7M1287.4 88.6h0.5M1285.6 119.8h0.9M1284 118h0.8M1279.9 90.9h0.6M1264.4 113.2h0.8M1278.5 87.8h0.8M1300.1 72.4h0.8M1289.5 86.4h0.7M1303.2 62.6h0.7M1300.8 95.3h0.5M1275.2 96.8h0.8M1270.9 103.5h0.9M1271.5 87.9h1M1249.7 106.5h0.6M1303.9 84.2h0.4M1264.4 107.5h0.6M1291.1 86.7h0.5M1291.7 103.1h0.7M1302.5 84h0.8M1292.3 115.5h0.7M1285.5 79.1h0.5M1265 103.3h0.8M1293 121.6h0.9M1298.3 113.8h0.5M1297.4 101.4h0.9M1281.8 120.8h0.9M1293.7 73.4h0.8M1272.2 110.5h0.7M1296.8 97.7h0.6M1269.4 93.9h0.7M1293.9 91.8h0.7M1281.6 117.2h0.6M1277.7 106.4h1M1270.7 93h0.9M1278.8 83h0.9M1271.8 112.4h0.5M1273.8 116.2h0.6M1292.9 87.5h0.7M1303.2 104.5h0.9M1255.9 99.9h0.8M1285.6 120.2h0.7M1299.5 101.4h0.8M1290.2 121.9h0.8M1278.2 102.6h0.8M1276.7 106.3h0.5M1281.7 91.1h0.9M1299 104.6h0.6M1292.6 113.5h0.7M1265.1 103.6h1M1291.7 99.1h1M1262.1 100.3h1M1303.7 92.3h0.6M1302.6 66h0.9M1285.4 76.5h0.8M1289.2 108.5h0.9M1279 108.2h0.7M1300.3 77.3h1M1256.8 109.6h0.5M1295.3 93.1h0.4M1260.7 99.1h0.7M1290.8 84.7h0.8M1279.1 88.4h0.6M1289.9 98.5h0.6M1284.2 116.3h0.6M1293.2 100.9h0.6M1261.4 106.6h0.8M1297.7 114.9h0.6M1264.6 99.9h0.9M1297.1 62.9h0.9M1291.8 119h0.7M1291.5 106.6h0.9M1273.8 114.2h0.5M1282.4 91.6h0.5M1252.8 111.1h0.9M1291.5 112.5h0.5M1297 95.5h0.7M1284.1 84.7h0.7M1263.2 95.2h0.5M1279.3 113.5h0.5M1276.8 83.5h0.7M1304.3 118.9h0.7M1289.5 89h1M1288.7 115.7h1M1298.7 64.4h0.8M1302.2 77.5h0.7M1281.9 86.7h0.7M1304.4 75.1h0.4M1298.2 121.5h0.9M1284.7 104h1M1282.4 80.3h0.8M1299.9 75h1M1295.7 120.4h0.5M1300 117.3h0.8M1292.6 92.5h0.8M1296 78.1h0.6M1293.8 82.7h0.5M1298.2 67.8h1M1304.9 122.9h0.5M1288.9 108.4h0.5M1277.6 93.7h0.6M1284.5 115.2h0.7M1286.3 87.8h0.8M1295.5 93.5h0.4M1298.7 92.4h0.9M1293.2 85h0.5M1261 100.5h0.4M1271.4 90.3h0.7M1292.2 118.9h0.6M1284.8 85.9h0.9M1301.8 93.6h0.7M1272.1 96.5h0.4M1302.7 75.2h0.5M1277 99.2h0.7M1295.9 108.8h0.4M1295.3 70h0.7M1292.8 123.8h0.6M1271.8 86.9h1M1289.4 83h0.5M1303.7 114.7h0.9M1292.1 117.6h0.4M1300.4 77h0.7M1279.3 84.8h0.7M1279.3 115h0.9M1282.5 78.6h0.7M1299.7 102.2h0.6M1271.4 89.5h1M1267.6 96.3h0.5M1293.8 101.5h0.7M1284.7 91.3h0.7M1277.9 91.9h0.6M1304.1 80.1h0.9M1296 89.9h0.4M1282.3 101.9h0.9M1292.5 95.2h0.8M1287 111.7h0.7M1289.9 108.2h0.9M1276 93.9h1M1275 88.4h0.9M1296.1 101.3h0.6M1266.7 91.1h0.8M1273.9 86.1h0.6M1290.1 117.8h0.7M1275.3 99.5h0.5M1299.4 82h0.9M1289.1 96.6h1M1271.2 95.2h0.8M1276.6 83.9h1M1282.4 95.7h0.5M1274.3 99h0.9M1302.5 93.1h0.7M1292.1 71.6h0.6M1303.5 116.2h0.7M1283.3 115.8h1M1297.2 88.6h0.5M1277.2 84h1M1263.8 113.6h0.6M1276 105.4h0.5M1269.9 97.6h0.6M1280.3 96.1h1M1275.2 88h0.5M1292.6 101.7h0.9M1288.9 82h0.8M1298.3 99.6h0.6M1265.8 102.2h0.5M1294.8 81.4h0.9M1292.1 80.7h0.8M1302.2 93.7h1M1285.3 75.1h0.6M1296.3 92.9h0.9M1303 79.8h0.7M1292.8 83.9h0.5M1281.5 83.2h0.5M1293.5 114.7h0.5M1259.7 109.1h0.6M1302.1 74.1h1M1284.5 77.7h0.9M1276.1 85h0.5M1296.1 68.3h0.7M1289 86.2h0.8M1257.5 105.1h0.5M1274.3 84.6h0.7M1298.6 112.7h0.9M1295.3 69h0.6M1281.5 83.9h0.6M1281.1 107.5h0.5M1294.3 83.9h0.8M1298.9 109.9h0.8M1293.8 98.8h0.8M1282.9 83.7h0.4M1293.4 112.8h0.6M1290.4 74.3h0.9M1283.6 86.8h0.8M1293 79.1h0.5M1301.2 88.8h1M1283.4 110.2h0.9M1279 90.8h0.4M1283.9 89.1h0.7M1300 68.7h0.9M1291.4 77.8h0.7M1302.9 103.4h0.7M1296.9 69.6h0.7M1273.4 111.7h0.5M1281.7 100.7h0.7M1288.6 116.5h0.5M1284.1 90.5h0.5M1304.4 111h0.5M1269.2 89.5h0.5M1299.4 103.8h0.8M1300.5 104.4h0.6M1293.8 80.1h0.5M1279.7 117.5h1M1293.1 110.5h0.6M1273.6 85.1h0.9M1274.7 102.7h0.9M1284.4 121.6h1M1269.6 94h0.5M1302.9 66.1h0.4M1293.9 118.2h0.9M1281.3 95h0.7M1281.6 116.2h0.9M1266 98.3h0.6M1303 121.8h0.9M1303.2 125.4h0.8M1282.4 101.4h0.6M1268.7 104h0.6M1282.5 90.4h0.5M1281.2 85.3h0.7M1264.1 96h0.7M1295.4 77.2h0.5M1269.2 97.7h0.5M1270.9 100h0.4M1273.5 108.6h0.9M1293.1 86.7h0.5M1302.2 98.3h0.9M1256 108.1h0.7M1297.2 102.2h0.9M1296 71.4h0.8M1258.9 111.9h0.8M1292.8 68.3h0.6M1273.4 114.6h0.5M1299.8 105.9h0.6M1293.7 99.5h0.5M1291 72.6h0.7M1255.3 106.7h0.6M1272.7 106.9h0.9M1301.4 60.9h0.6M1296.1 114.4h0.4M1282.6 86.7h0.7M1297.6 100.1h0.4M1267.7 99.2h0.6M1275.5 82.7h0.4M1282 78.5h0.6M1274.8 95.9h1M1304.5 62.3h0.7M1289 119.3h0.9M1279.3 103.2h0.6M1296.1 123.8h0.8M1256.3 111.9h0.8M1270.6 103.2h0.6M1273.6 87.6h0.4M1304.2 92.7h0.6M1266.7 90.3h0.7M1256.6 109.4h0.7M1300.6 83.2h1M1304.1 84.3h0.9M1297.9 78.8h0.6M1253.8 107.9h0.5M1277.2 118.8h0.8M1248.8 109.9h1M1291.7 119.5h0.6M1287.5 104.1h0.6M1282.5 83h0.4M1278.8 82.7h0.7M1299.8 98.4h1M1285.7 82.4h0.5M1292 88.8h0.7M1276.2 97.7h0.8M1277.1 82.5h0.8M1253 108.4h0.9M1289.3 81h0.9M1303.4 90.8h0.6M1268.3 104.6h0.9M1251 111.4h0.5M1300.8 84.9h0.5M1247.4 110.2h1M1289.5 76.5h1M1269.9 103.3h0.6M1291 91.3h0.6M1298.2 67.3h0.8" stroke="#aaa" stroke-width="1" stroke-linecap="round" opacity="0.65"/><path d="M1402.6 79h0.6M1434.6 52.7h0.7M1416.4 91.4h1M1425.1 60.1h0.6M1410.5 69.5h0.5M1408.1 84.2h0.8M1411.9 94.7h0.5M1422.8 57.1h0.9M1434.8 62h0.9M1432.9 62.7h0.6M1419.4 90.1h0.5M1427.3 76.9h0.7M1423.2 89.7h0.5M1435.3 66.2h0.9M1434.5 58.2h0.9M1439.8 63.4h0.4M1404.5 93.8h0.4M1436.5 56.8h0.8M1403.9 57.6h0.8M1403.6 65.3h1M1428.7 89.7h1M1401.3 60.6h0.9M1427.6 51.7h0.7M1409.3 69.4h0.5M1400.8 94.6h0.6M1435.1 55.4h0.7M1405.4 69.3h0.5M1427.4 56.7h0.8M1420 55.1h0.6M1419.9 91.3h0.6M1408.6 93.5h0.9M1429.3 62.3h0.5M1410.6 53.1h0.4M1420.4 68.4h0.7M1414.5 50.5h0.8M1426.1 74.5h0.7M1427.6 94.2h0.9M1428.7 68h0.6M1416.8 93.8h0.6M1415.4 68.4h0.5M1439.9 50.2h0.8M1437.1 61.5h0.8M1415.1 60.8h0.5M1404.6 87.9h0.9M1436.3 52.2h0.8M1413 79.1h0.7M1412.6 93.7h0.4M1429.8 88.4h0.7M1423.7 94.8h0.5M1425.2 83.4h0.6M1428.5 67.7h0.7M1424.5 80.5h0.6M1425.2 74.4h0.5M1424.5 61.9h0.9M1418.9 82.5h0.7M1419.1 60h0.5M1437.1 73.8h0.7M1421.1 86.6h0.5M1406.9 87h0.7M1425.6 87.2h0.9M1434.7 51.9h0.6M1433.3 86.8h0.5M1406.2 61.3h0.5M1414.3 86.1h0.7M1418.1 54h0.6M1439.9 81.3h0.7M1419.1 85.9h0.9M1406 80.6h0.6M1420.8 60.7h0.6M1413.6 67.2h0.4M1408 75.7h0.4M1407.1 82.3h0.6M1413 60.9h0.9M1403.7 78.6h0.9M1408.1 69h0.9M1424.7 66.7h0.4M1417.7 66.5h0.8M1411.8 68.4h0.8M1432.4 65.9h0.6M1423.1 91.6h0.5" stroke="#777" stroke-width="1" stroke-linecap="round" opacity="0.7"/><path d="M1473.7 45.3h0.6M1385 25.8h0.4M1411.3 28.3h0.7M1336 55h0.8M1199.4 39.2h0.6M1326 51.8h0.6M1329.3 54.4h0.6M1334.5 35.1h0.8M1386.4 46.8h0.6M1203.8 43.7h0.7M1415.1 48.3h0.5M1256 12.9h0.8M1221.5 13.5h0.8M1355.7 11.8h0.7M1398.2 33.6h0.4M1392.4 30.3h0.7M1481.4 50.7h0.8M1234.2 26.1h0.7M1193.7 59.4h0.5M1268.1 25h0.5M1441.1 37.3h0.7M1313.9 11.6h0.6M1443.4 49.9h0.8M1266.6 19.3h0.4M1347.7 28.1h0.6M1333.8 38.8h0.6M1424.4 19.2h0.9M1353.3 11.6h0.6M1346.6 29.9h0.7M1285.8 23h0.8M1276.5 45.2h0.8M1363.7 32.2h0.9M1321 53.8h0.4M1317.8 41.6h0.4M1442.2 12.7h0.7M1244.2 56h0.7M1424.2 34.4h0.7M1387.7 24h0.5M1435.1 16.4h0.9M1252 14.1h0.4M1419.4 57.5h0.6M1383.1 22.1h0.9M1390.9 16.9h0.4M1393.8 11.1h0.8M1277.2 20.9h0.7M1284.4 37.6h0.5M1456.5 25.5h0.8M1236.1 49.8h0.9M1305.5 10.7h0.6M1377.8 20.4h0.7M1219.1 32.7h0.8M1316.7 43.6h0.5M1432.3 15.2h0.9M1480.9 56.9h0.7M1276.3 26.7h0.8M1336 56.4h0.4M1332.6 53.1h0.7M1348.8 13.5h0.5M1270.6 54.5h0.8M1257.9 56.2h0.4M1365.7 58.3h0.6M1465.9 42.5h0.4M1288.6 31.9h0.5M1407.3 18.1h0.8M1278.5 12.5h0.7M1219.7 37.1h0.8M1364.7 32.5h0.4M1340.9 14h0.7M1230.3 38.5h0.6M1300.7 42.8h0.5M1241.2 57h0.6M1436.3 53.5h0.6M1235.2 13.8h0.8M1226 34.3h0.7M1226.1 32.9h0.5M1347.3 34.8h0.6M1249.3 29.6h0.5M1228.9 21.2h0.8M1337.5 54.4h0.4M1465.6 33.9h0.8M1357.4 44.1h0.5M1409.5 16.8h0.5M1201 29.1h0.7M1276.7 54.4h0.4M1359.8 20.9h0.7M1419.4 45.3h0.4M1263.3 39.6h0.9M1204 40.5h0.7M1428.2 26.4h0.8M1325.9 56h0.4M1464.7 30h0.6M1217.5 21.5h0.8M1388.9 16.7h0.6M1232.7 19.1h0.5M1288 58.8h0.9M1421.6 33.5h0.6M1418 55.3h0.8M1376.6 19.2h0.7M1437.3 49.1h0.4M1400.1 26.8h0.5M1472.1 43.3h0.8M1231.1 51.2h0.9M1454.4 47h0.8M1424.6 39.1h0.6M1431.3 49h0.8M1278.7 58h0.7M1466.3 14.9h0.9M1420.4 21.9h0.8M1259.3 19.1h0.6M1260.6 34.1h0.9M1390.7 45.2h0.6M1419.3 49.5h0.7M1465.1 51.1h0.6M1217.3 42.3h0.8M1290.5 39.3h0.8M1422 9.2h0.6M1196.7 14.6h0.8M1313.4 39.8h0.6M1289.3 19.9h0.6M1436.9 40.6h0.5M1217.5 22.8h0.8M1320.2 42.7h0.8M1227 43.8h0.4M1430.7 18.4h0.5M1469.7 27.5h0.5M1450.1 40.1h0.8M1306.4 34.5h0.9M1339 59.4h0.5M1432.9 17.3h0.7M1192.1 17.9h0.9M1323.8 50.3h0.5M1294.2 14.1h0.7M1442.1 35.2h0.6M1461.3 54.6h0.7M1214 40.8h0.6M1469.8 27.5h0.7M1375.3 28.2h0.7M1388.2 55.3h0.6M1297.5 58.8h0.4M1434.1 43.9h0.7M1321.8 47.3h0.8M1403.4 47.2h0.4M1286.3 16h0.9M1450.5 16.4h0.7M1359.3 11.4h0.6M1408.7 41.7h0.5M1413.1 23.8h0.7M1314 58.9h0.7M1425.4 43.5h0.6M1471.3 45.2h0.7M1272.5 17.3h0.7M1431.5 49.5h0.6M1232.6 35.3h0.8M1239 46.7h0.5M1282.5 11.7h0.5M1303.1 58.3h0.9M1246.3 24.8h0.9M1249.2 25.4h0.6M1223.4 22.3h0.6M1303.8 58.1h0.5M1251.2 55.3h0.6M1434.8 41.5h0.8M1283.3 16.8h0.8M1328.4 37.5h0.7M1410.3 23h0.6M1458.1 36h0.5M1374.8 22.2h0.8M1204 51.2h0.7M1294.6 56.9h0.5M1262.6 12.6h0.7M1410.6 43.6h0.6M1426.3 14.7h0.6M1379 58.3h0.7M1392.7 48.5h0.6M1464.7 46.9h0.6M1305.8 50.1h0.6M1245.9 53.5h0.7M1343.1 43.1h0.9M1230.7 26.3h0.4M1311.8 34.6h0.8M1385.7 38.5h0.6M1358.4 23h0.8M1420.7 51.8h0.5M1386.7 47.5h0.7M1452.5 54.8h0.8M1430.1 42.1h0.8M1230.1 44.9h0.8M1369.6 23h0.4M1367 51h0.5M1253.8 20.4h0.4M1388 58.7h0.8M1296.3 44.7h0.4M1435.2 25.6h0.4M1374.5 16.1h0.5M1209.1 31.7h0.7M1426.1 11h0.8M1224.1 20.4h0.7M1290.6 25.9h0.7M1255.2 49.5h0.5M1435.4 50.2h0.7M1200.8 48.7h0.4M1338.4 30.6h0.4M1374.7 46h0.7M1308 35.1h0.7M1257.6 53.3h0.9M1425.2 58h0.6M1478 12.6h0.6M1230.8 32.2h0.7M1397.4 32.2h0.6M1247.1 29.5h0.5M1248.3 46.5h0.7M1319.2 19.1h0.8M1249.1 22.5h0.7M1395.4 58.6h0.8M1467 55.9h0.8M1400.7 12.2h0.5M1195.8 53h0.8M1374.8 22.5h0.6M1239.5 41.2h0.9M1280.7 11.3h0.5M1295 54.8h0.8M1324 14.2h0.5M1236.6 48.7h0.6M1479.3 55.5h0.8M1330.1 50.9h0.5M1223.6 37.7h0.7M1252.7 21.8h0.4M1455.6 45.2h0.9M1476.4 31.3h0.8M1303.4 50.4h0.8M1230.8 9.7h0.5M1361.8 28.3h0.4M1432.8 49.1h0.6M1204.5 54.3h0.7M1212.6 25.5h0.7M1448.7 33.7h0.7M1251.7 21.4h0.9M1303 14.3h0.7M1228.6 19.2h0.6M1361.8 41.5h0.8M1319.5 12.4h0.8M1207.6 33h0.6M1387.1 45.4h0.5M1380.4 44.3h0.6M1233.1 55.4h0.7M1210.2 21.2h0.9M1258.3 29h0.8M1430.9 41.3h0.8M1203.1 13.8h0.9M1424.8 10.9h0.4" stroke="#555" stroke-width="0.9" stroke-linecap="round" opacity="0.6"/><ellipse cx="1338" cy="102.4" rx="25.8" ry="13" fill="#000"/><polygon points="1317.6,110 1358.2,110 1365.5,153 1310.5,153" fill="#000" opacity="1"/></g><g clip-path="url(#c2)"><path d="M1525.5 40.7H1634" stroke="#fff" stroke-width="1.1" stroke-dasharray="1.2 2.4" opacity="0.8"/><path d="M1634 40.7H1752" stroke="#fff" stroke-width="1.8" opacity="0.95"/><path d="M1525.5 118.6H1716" stroke="#fff" stroke-width="1.1" stroke-dasharray="1.2 2.0" opacity="0.7"/><path d="M1540.5 64.2H1646" stroke="#fff" stroke-width="1" stroke-dasharray="1 3" opacity="0.45"/><g clip-path="url(#L2)"><path d="M1709.8 101.7A22 22 0 1 1 1709.8 58.3" fill="none" stroke="#fff" stroke-width="1.2" stroke-dasharray="2.2 0.7" opacity="1"/><path d="M1710.3 104.6A25 25 0 1 1 1710.3 55.4" fill="none" stroke="#fff" stroke-width="1.2" stroke-dasharray="2.2 0.7" opacity="1"/><path d="M1710.9 107.6A28 28 0 1 1 1710.9 52.4" fill="none" stroke="#fff" stroke-width="1.2" stroke-dasharray="2.2 0.7" opacity="1"/><path d="M1711.4 110.5A31 31 0 1 1 1711.4 49.5" fill="none" stroke="#fff" stroke-width="1.2" stroke-dasharray="2.2 0.7" opacity="1"/><path d="M1711.9 113.5A34 34 0 1 1 1711.9 46.5" fill="none" stroke="#fff" stroke-width="1.2" stroke-dasharray="2.2 0.7" opacity="1"/><path d="M1712.4 116.4A37 37 0 1 1 1712.4 43.6" fill="none" stroke="#fff" stroke-width="1.2" stroke-dasharray="2.2 0.7" opacity="1"/><path d="M1712.9 119.4A40 40 0 1 1 1712.9 40.6" fill="none" stroke="#fff" stroke-width="1.2" stroke-dasharray="2.2 0.7" opacity="1"/><path d="M1713.5 122.3A43 43 0 1 1 1713.5 37.7" fill="none" stroke="#fff" stroke-width="1.2" stroke-dasharray="2.2 0.7" opacity="1"/><path d="M1714 125.3A46 46 0 1 1 1714 34.7" fill="none" stroke="#fff" stroke-width="1.2" stroke-dasharray="1.6 1.3" opacity="1"/><path d="M1714.5 128.3A49 49 0 1 1 1714.5 31.7" fill="none" stroke="#fff" stroke-width="1.2" stroke-dasharray="1.6 1.3" opacity="1"/><path d="M1715.2 132.2A53 53 0 1 1 1715.2 27.8" fill="none" stroke="#fff" stroke-width="1.2" stroke-dasharray="1.6 1.3" opacity="1"/><path d="M1715.9 136.1A57 57 0 1 1 1715.9 23.9" fill="none" stroke="#fff" stroke-width="1.2" stroke-dasharray="1.6 1.3" opacity="1"/><path d="M1716.8 141.1A62 62 0 1 1 1716.8 18.9" fill="none" stroke="#fff" stroke-width="1.2" stroke-dasharray="1.2 2.4" opacity="1"/><path d="M1717.6 146A67 67 0 1 1 1717.6 14" fill="none" stroke="#fff" stroke-width="1.2" stroke-dasharray="1.2 2.4" opacity="1"/><path d="M1718.7 151.9A73 73 0 1 1 1718.7 8.1" fill="none" stroke="#fff" stroke-width="1.2" stroke-dasharray="1.2 2.4" opacity="1"/><path d="M1719.9 158.8A80 80 0 1 1 1719.9 1.2" fill="none" stroke="#fff" stroke-width="1.2" stroke-dasharray="1.2 2.4" opacity="1"/><path d="M1720.9 164.7A86 86 0 1 1 1720.9 -4.7" fill="none" stroke="#fff" stroke-width="1.2" stroke-dasharray="1.2 2.4" opacity="1"/><path d="M1722 170.6A92 92 0 1 1 1722 -10.6" fill="none" stroke="#fff" stroke-width="1.2" stroke-dasharray="1.2 2.4" opacity="1"/><path d="M1723.4 178.5A100 100 0 1 1 1723.4 -18.5" fill="none" stroke="#fff" stroke-width="1.2" stroke-dasharray="1.2 2.4" opacity="1"/><path d="M1724.8 186.4A108 108 0 1 1 1724.8 -26.4" fill="none" stroke="#fff" stroke-width="1.2" stroke-dasharray="1.2 2.4" opacity="1"/><path d="M1726.1 194.2A116 116 0 1 1 1726.1 -34.2" fill="none" stroke="#fff" stroke-width="1.2" stroke-dasharray="1.2 2.4" opacity="0.9"/><path d="M1727.9 204.1A126 126 0 1 1 1727.9 -44.1" fill="none" stroke="#fff" stroke-width="1.2" stroke-dasharray="1.1 3.6" opacity="0.9"/><path d="M1729.3 212A134 134 0 1 1 1729.3 -52" fill="none" stroke="#fff" stroke-width="1.2" stroke-dasharray="1.1 3.6" opacity="0.8"/><path d="M1730.8 220.8A143 143 0 1 1 1730.8 -60.8" fill="none" stroke="#fff" stroke-width="1.2" stroke-dasharray="1.1 3.6" opacity="0.8"/><path d="M1732.6 230.7A153 153 0 1 1 1732.6 -70.7" fill="none" stroke="#fff" stroke-width="1.2" stroke-dasharray="1.1 3.6" opacity="0.7"/><path d="M1734.7 242.5A165 165 0 1 1 1734.7 -82.5" fill="none" stroke="#fff" stroke-width="1.2" stroke-dasharray="1.1 3.6" opacity="0.7"/><path d="M1737.3 257.3A180 180 0 1 1 1737.3 -97.3" fill="none" stroke="#fff" stroke-width="1.2" stroke-dasharray="1.1 3.6" opacity="0.6"/><path d="M1740.2 274A197 197 0 1 1 1740.2 -114" fill="none" stroke="#fff" stroke-width="1.2" stroke-dasharray="1.1 3.6" opacity="0.5"/><path d="M1743.3 291.7A215 215 0 1 1 1743.3 -131.7" fill="none" stroke="#fff" stroke-width="1.2" stroke-dasharray="1.1 3.6" opacity="0.4"/></g><g clip-path="url(#R2)"><path d="M1702.2 58.3A22 22 0 1 1 1702.2 101.7" fill="none" stroke="#fff" stroke-width="1.2" stroke-dasharray="2.2 0.7" opacity="1"/><path d="M1701.7 55.4A25 25 0 1 1 1701.7 104.6" fill="none" stroke="#fff" stroke-width="1.2" stroke-dasharray="2.2 0.7" opacity="1"/><path d="M1701.1 52.4A28 28 0 1 1 1701.1 107.6" fill="none" stroke="#fff" stroke-width="1.2" stroke-dasharray="2.2 0.7" opacity="1"/><path d="M1700.6 49.5A31 31 0 1 1 1700.6 110.5" fill="none" stroke="#fff" stroke-width="1.2" stroke-dasharray="2.2 0.7" opacity="1"/><path d="M1700 46A34.5 34.5 0 1 1 1700 114" fill="none" stroke="#fff" stroke-width="1.2" stroke-dasharray="2.2 0.7" opacity="1"/><path d="M1699.4 42.6A38 38 0 1 1 1699.4 117.4" fill="none" stroke="#fff" stroke-width="1.2" stroke-dasharray="2.2 0.7" opacity="1"/><path d="M1698.7 38.6A42 42 0 1 1 1698.7 121.4" fill="none" stroke="#fff" stroke-width="1.2" stroke-dasharray="2.2 0.7" opacity="1"/><path d="M1698.2 35.7A45 45 0 1 1 1698.2 124.3" fill="none" stroke="#fff" stroke-width="1.2" stroke-dasharray="1.6 1.3" opacity="1"/><path d="M1697.7 32.7A48 48 0 1 1 1697.7 127.3" fill="none" stroke="#fff" stroke-width="1.2" stroke-dasharray="1.6 1.3" opacity="1"/><path d="M1696.8 27.8A53 53 0 1 1 1696.8 132.2" fill="none" stroke="#fff" stroke-width="1.2" stroke-dasharray="1.6 1.3" opacity="1"/><path d="M1695.9 22.9A58 58 0 1 1 1695.9 137.1" fill="none" stroke="#fff" stroke-width="1.2" stroke-dasharray="1.6 1.3" opacity="1"/><path d="M1694.5 15A66 66 0 1 1 1694.5 145" fill="none" stroke="#fff" stroke-width="1.2" stroke-dasharray="1.2 2.4" opacity="0.8"/><path d="M1692.8 5.2A76 76 0 1 1 1692.8 154.8" fill="none" stroke="#fff" stroke-width="1.2" stroke-dasharray="1.2 2.4" opacity="0.7"/><path d="M1691.1 -4.7A86 86 0 1 1 1691.1 164.7" fill="none" stroke="#fff" stroke-width="1.2" stroke-dasharray="1.2 2.4" opacity="0.7"/><path d="M1689.3 -14.5A96 96 0 1 1 1689.3 174.5" fill="none" stroke="#fff" stroke-width="1.2" stroke-dasharray="1.2 2.4" opacity="0.7"/><path d="M1687.1 -27.3A109 109 0 1 1 1687.1 187.3" fill="none" stroke="#fff" stroke-width="1.2" stroke-dasharray="1.2 2.4" opacity="0.6"/><path d="M1685 -39.2A121 121 0 1 1 1685 199.2" fill="none" stroke="#fff" stroke-width="1.2" stroke-dasharray="1.1 3.6" opacity="0.6"/><path d="M1682.7 -52A134 134 0 1 1 1682.7 212" fill="none" stroke="#fff" stroke-width="1.2" stroke-dasharray="1.1 3.6" opacity="0.6"/><path d="M1680.1 -66.7A149 149 0 1 1 1680.1 226.7" fill="none" stroke="#fff" stroke-width="1.2" stroke-dasharray="1.1 3.6" opacity="0.5"/><path d="M1677.3 -82.5A165 165 0 1 1 1677.3 242.5" fill="none" stroke="#fff" stroke-width="1.2" stroke-dasharray="1.1 3.6" opacity="0.5"/><path d="M1674 -101.2A184 184 0 1 1 1674 261.2" fill="none" stroke="#fff" stroke-width="1.2" stroke-dasharray="1.1 3.6" opacity="0.4"/><path d="M1670.9 -118.9A202 202 0 1 1 1670.9 278.9" fill="none" stroke="#fff" stroke-width="1.2" stroke-dasharray="1.1 3.6" opacity="0.4"/><path d="M1667.5 -138.6A222 222 0 1 1 1667.5 298.6" fill="none" stroke="#fff" stroke-width="1.2" stroke-dasharray="1.1 3.6" opacity="0.4"/></g><ellipse cx="1694" cy="80" rx="70" ry="44" fill="url(#gw)" opacity="1"/><ellipse cx="1720" cy="80" rx="44" ry="44" fill="url(#gw)" opacity="0.8"/><path d="M1666.9 38.3h1.2M1651.6 39.6h0.7M1706.6 34h0.6M1732.9 34.4h0.6M1652.4 39.7h0.9M1717.6 27.5h1M1660.1 38.7h1.3M1679 18.7h1M1676.8 33.1h1.5M1729 25.4h1.4M1675.1 28.5h1.1M1700.3 38.5h1.5M1717.3 39.4h0.7M1672.2 37.5h0.8M1720.2 40.2h1M1706.2 29.4h1.3M1685.8 30.5h1.3M1650.6 38.3h1.4M1643.4 35h1.4M1729.9 29.9h0.5M1661.3 37.4h1.2M1705.7 29.6h0.7M1650.9 39.9h1.2M1680.7 31.5h1.4M1665.8 22.4h0.6M1664.9 32.2h1.5M1652.3 38.7h0.8M1659.1 36.1h0.6M1669.7 38h1.3M1663 29.6h0.6M1661.5 32.4h1.5M1685 30.1h1.5M1664.2 35.1h1.6M1702.9 31.2h0.8M1653.5 39.2h0.7M1705.6 22.8h1.5M1670.1 38.6h0.6M1672.4 39.4h1M1713.2 24.8h0.8M1740.7 39.3h0.6M1740.5 26.6h1.3M1648.2 32.1h1M1715.3 34h1M1715.9 31.1h0.7M1655.2 21.3h0.6M1705.2 38.6h0.9M1718.9 22.3h1M1725.9 35.2h1.2M1718.9 39.4h1.3M1738 27.2h0.5M1699.9 31.6h0.6M1669.5 33.8h0.9M1650.6 27.1h1.3M1730 33.8h0.6M1714.3 26.5h0.7M1711 16h1M1699.7 31.6h1.3M1720.2 39.2h0.8M1675.3 31.5h1.2M1744.3 36.5h0.7M1653.4 24.6h0.9M1743.9 38.4h0.6M1749.9 37.6h1M1709.4 17.9h1.3M1726.3 22.3h0.9M1650.5 39.3h0.8M1699.6 35.1h0.7M1725.7 22h0.6M1667.2 39.6h0.8M1693 39.1h0.8M1661.7 39.2h1.4M1692.6 40.2h1.4M1735 34.7h0.9M1668.4 29.4h1.4M1655 25.6h1.4M1678.7 35.5h1.5M1655.6 38.5h1.2M1678 33.5h1.5M1664 19.2h0.6M1729.2 15.5h0.6M1729.9 39h1.2M1705.8 35h1M1686.6 36.6h0.7M1662.6 17.9h1.3M1660.9 25.9h1.2M1702.8 33.9h1.5M1680.5 38h0.5M1720.3 32.4h0.8M1707.5 37.4h1.1M1720.7 32.4h1.3M1645.9 38.7h0.6M1647.8 33.9h0.7M1660.6 23.7h1.6M1694.5 38.7h0.7M1717.4 20.9h1.5M1735.1 31.7h1.2M1681 35.7h1.1M1680.7 37.1h1.1M1680.6 37.7h0.8M1677.2 34.7h1.3M1646.7 34.2h0.8M1737.8 32.5h1.6M1710.6 11.8h0.7M1680.4 39.8h0.9M1749.2 40.3h0.7M1699.4 30.2h1M1728.6 26.8h1.5M1707.3 19.1h1.5M1736.3 37.7h0.7M1728 24.8h1.4M1675.4 20.4h1.5M1675.6 32.7h1.2M1657.7 35.9h0.8M1744.2 32.6h1.3M1704.2 37.5h1M1668.7 31.8h0.6M1664 29.3h0.9M1730.6 32.7h1.4M1684.9 38.9h0.6M1711.3 20.4h1.4M1664.8 37.5h1.6M1726.4 28.6h1.4M1747.7 38h1.3M1683.1 25.9h0.5M1673.6 39.5h1.6M1733.7 29.8h1.5M1686.6 37.4h1.4M1660.1 35.1h1.5M1670 36.6h0.9M1733 39.9h1.3M1751.3 40.3h1.2M1658 31.7h0.9M1655.9 13.3h1.1M1704.3 26.3h1.1M1732.3 16h1M1660.3 10.4h0.9M1650 29.2h0.8M1697.4 38.5h0.7M1719.1 22.1h0.5M1653.7 35.6h0.7M1723.2 31.4h0.7M1650.2 37.4h0.7M1661.7 29.8h1.4M1672.7 38.4h1M1655.8 23.8h1.3M1652.6 18.6h1.1M1681.1 31.2h1.6M1682.6 29.9h0.5M1675.7 37.6h1.5M1705.9 39.5h1.5M1686.9 29.7h1.1M1670.9 33.1h1.4M1719.4 34.6h1.3M1663.8 22.8h0.8M1680.3 32.6h0.7M1666.2 33.5h1.2M1711.1 30.6h0.6M1715.1 39.4h0.8M1729.1 32h0.9M1675.2 39.7h0.7M1671.5 38h0.9M1735.4 37h0.7M1726.5 20.3h1.5M1706.7 16.4h0.9M1681.6 32.8h1.2M1710 14.3h1.2M1708.4 17.7h1.4M1705.6 26.8h0.5M1676.4 29h1.1M1653.7 15.1h1M1680.7 37.3h1.6M1666.9 35.9h1.1M1729.2 34.4h1.4M1693.7 40.1h0.9M1734.3 25.9h1.4M1689.3 40.3h1M1672.4 30.9h1.6M1659 24.7h0.9M1649.5 39.1h0.6M1713.5 25.4h0.9M1714.2 29.7h0.9M1666.1 33.7h1.4M1682 31.9h0.7M1715.7 24.3h0.7M1659.4 29h0.8M1659.2 24.7h1.1M1655 23.8h0.6M1674.6 30.1h1.2M1727.4 26.7h1M1732.1 29.3h1.2M1662.7 37.2h0.5M1648.1 28.4h0.7M1730.8 31.8h0.6M1708.6 36h1.3M1723.4 35h1.3M1664.3 39h1.1M1722 29.5h1.1M1657.3 37.9h1.1M1679.6 34.4h0.8M1711.2 23.8h1.1M1664.4 22.3h1.4M1668.4 35h1.2M1672.7 36.1h1.2M1660.5 26.9h1M1641.9 38.2h0.5M1726 26.6h0.7M1681.6 23.7h1.2M1701.7 31.9h1.4M1673.6 23.1h1.4M1648.1 38.8h1M1685.5 37h1.2M1662.9 29h1.2M1676.4 27.5h0.6M1652.9 31.8h1.5M1653.7 25.1h1.6M1682.9 22.3h1.6M1684 32.6h0.6M1689.3 32.8h0.7M1745.1 37.2h1.1M1689.8 37.8h1.1M1673.8 31.3h0.9M1654.2 23.5h0.7M1655.3 34.7h0.8M1667 35.3h1.3M1650.9 38.7h1.2M1660.9 22.3h1.1M1649.6 34.1h0.8M1652.9 24.6h1.3M1670.7 39.9h1.6M1731.2 28h1.6M1712.5 34.4h0.6M1669 28.1h1M1712.7 30.4h0.7M1718 32.1h0.9M1703.8 24.8h1.5M1720.1 38.5h1.5M1670 33.6h0.8M1734.6 29.8h0.7M1657.3 31.4h1.4M1676.9 35.6h0.8M1640 39.2h0.8M1719.5 27h0.8M1672.1 39.5h1.6M1719.6 34.3h1.1M1669.8 21.1h1.3M1704.2 33.4h1.2M1676.5 38.2h0.6M1725.1 18.5h1.2M1655.2 24.1h1.5M1728.8 28.6h1.6M1686.2 39h1.4M1727.3 27.1h0.8M1712.3 24.5h1.2M1687.4 35.2h1.6M1733.7 27.1h0.5M1682.1 24.1h0.6M1721.9 34.1h0.6M1738.4 29.7h1.5M1732.5 37.1h1.1M1721.4 39.5h1M1675.9 36.5h1.4M1665.4 31h1.2M1727.3 38.9h1.1M1658.3 35.4h1.1M1729.8 24.6h1.4M1730.8 15.6h1.5M1733.4 37.9h1.3M1716.6 35.6h0.8M1668.2 25.7h1.4M1718.1 29.9h1.4M1725.8 18.1h0.8M1648.2 32.5h1.2M1667.1 33.7h1.4M1699.6 30.8h0.9M1664 18.7h1.5M1711.5 23.7h1.5M1703.5 36.1h0.8M1734 37h0.6M1693.5 39.3h1.5M1711.7 36.4h1.6M1681.9 35h1.3M1662 34h0.6M1739.7 38.7h0.9M1690 39.8h0.7M1666.5 33.4h1.1M1682.6 37.9h0.8M1722.5 28.4h1M1660.3 34.5h1.3M1678.9 34.3h1.2M1684 26.3h1.6M1651.2 19h1.4M1737.3 33.5h0.8M1666 30.9h1.3M1679.2 32.8h1.4M1726.2 18.4h1.4M1701.6 32.6h0.5M1707 31.7h0.8M1679 31.8h0.7M1671.7 32.4h1.1M1688.2 37.2h1.4M1678.5 37.9h1.1M1655 36.8h0.6M1743.7 36.9h1.3M1661.5 28.4h1.6M1661 31.2h0.8M1659.5 33.9h1.2M1664.4 32.9h1.5M1678.5 39.4h0.7M1701.1 38.6h1.4M1726.7 32.4h0.6M1727.8 31.6h1.3M1686 32.4h1.5M1683.1 34.1h1.4M1673.7 25.8h1M1648.9 36h1M1706.6 34.5h0.5M1646.4 40.4h1.5M1734.2 31.8h1.3M1654.7 36.5h0.8M1703.8 36.9h1.1M1663.1 26.1h1.4M1730.1 39.8h0.7M1651.9 31.6h1.2M1681.6 39.6h0.5M1706.3 20.1h0.5M1737.9 38.5h1M1740 35.2h0.8M1718.2 33.9h0.9M1706.5 40h1M1647.7 34.3h1M1739.9 38.3h0.6M1705.9 21.8h1.5M1660.4 31.5h1.5M1709.8 28.8h0.5M1653.9 26.3h0.8M1709.3 37.3h0.8M1657.5 16.7h1.5M1658.5 14.4h0.7M1726.7 37.4h1.5M1668.1 39.8h1.3M1716.3 25.8h1.3M1732.2 26h0.8M1678.8 33.7h1.3M1739.1 29.3h0.5M1732.1 27.1h0.8M1679.9 36.9h0.6M1712 30.2h0.8M1649.7 40h1.2M1658.4 28.5h1.1M1660.1 36.4h0.7M1707.5 33.5h0.8M1735.3 30.5h1.3M1728.9 21.4h1.2M1658.4 21.2h0.9M1676.9 38.3h1.5M1719.1 33.9h1.5M1725.3 30.6h0.9M1657.2 35.1h1.4M1723.5 36.7h1.3M1685.2 36h1.1M1729.7 18.1h0.7M1730.7 25.3h1.1M1685.9 26.2h1.5M1711.8 34.3h1.5M1666.5 33.4h1.1M1684.6 23.7h1.6M1727.7 30.2h1.3M1680.8 36.7h1M1703 34.2h1.6M1712.6 9.7h0.6M1741.8 35.3h1M1674.5 27.7h1.6M1653.9 19.4h1M1715.5 26.3h0.8M1660.8 36h1.4M1731.4 24h0.8M1722.6 40h0.5M1652.6 35.5h1.5M1676.9 18.1h1.6M1706 34.9h1.1M1722.1 40h0.6M1681.8 40.5h1.6M1686.6 38.7h0.9M1648 30.7h0.7M1648.7 40.4h1M1729 39.5h1.1M1662.3 35.9h1.1M1650.3 31.2h0.8M1707.1 20h1M1676.3 33.9h0.6M1651.8 32.3h0.9M1716.8 27.9h0.7M1740.4 40.3h0.9M1683.8 38.5h1.2M1710.6 38.2h0.5M1662.7 35.9h1.6M1680.1 28.2h0.8M1652.2 33.4h1.1M1722.4 30.8h0.5M1733.1 29.9h0.8M1669.9 37.9h0.5M1678.1 19.5h1.6M1741.1 34.5h1M1728.4 33.8h0.5M1650.4 35.4h1.1M1666.3 35.9h0.9M1640.2 39.9h1.3M1649.2 32.4h0.9M1678.3 40.1h1M1654.3 40.4h1.3M1735 32h0.9M1650.9 18.3h0.6M1720.3 31.8h0.7M1720.9 34.9h0.8M1656.6 36.1h1.5M1705.5 33.6h0.5M1654.2 11.8h1.2M1680.3 18.7h1.4M1722.7 24.1h0.8M1653.7 24.4h0.6" stroke="#fff" stroke-width="1.6" stroke-linecap="round" opacity="0.9"/><polygon points="1644,65.5 1706,65.5 1706,94 1644,94 1640,80" fill="#000" opacity="1"/><circle cx="1706" cy="80" r="19" fill="#000"/></g><g clip-path="url(#c3)"><g mask="url(#m3)"><ellipse cx="1336" cy="254" rx="30" ry="16.5" fill="none" stroke="#ccc" stroke-width="0.7" stroke-dasharray="0.9 1.1" opacity="0.65"/><ellipse cx="1336" cy="254.6" rx="33.2" ry="18.3" fill="none" stroke="#ccc" stroke-width="0.7" stroke-dasharray="0.9 1.1" opacity="0.65"/><ellipse cx="1336" cy="255.3" rx="36.6" ry="20.1" fill="none" stroke="#ccc" stroke-width="0.7" stroke-dasharray="0.9 1.1" opacity="0.65"/><ellipse cx="1336" cy="256" rx="40.2" ry="22.1" fill="none" stroke="#ccc" stroke-width="0.7" stroke-dasharray="0.9 1.1" opacity="0.65"/><ellipse cx="1336" cy="256.8" rx="44" ry="24.2" fill="none" stroke="#ccc" stroke-width="0.7" stroke-dasharray="0.9 1.1" opacity="0.65"/><ellipse cx="1336" cy="257.6" rx="48" ry="26.4" fill="none" stroke="#ccc" stroke-width="0.7" stroke-dasharray="0.9 1.1" opacity="0.65"/><ellipse cx="1336" cy="258.5" rx="52.3" ry="28.8" fill="none" stroke="#ccc" stroke-width="0.7" stroke-dasharray="0.9 1.1" opacity="0.65"/><ellipse cx="1336" cy="259.4" rx="56.9" ry="31.3" fill="none" stroke="#ccc" stroke-width="0.7" stroke-dasharray="0.9 1.1" opacity="0.65"/><ellipse cx="1336" cy="260.3" rx="61.7" ry="33.9" fill="none" stroke="#ccc" stroke-width="0.7" stroke-dasharray="0.9 1.1" opacity="0.65"/><ellipse cx="1336" cy="261.4" rx="66.8" ry="36.7" fill="none" stroke="#ccc" stroke-width="0.7" stroke-dasharray="0.9 1.1" opacity="0.65"/><ellipse cx="1336" cy="262.4" rx="72.2" ry="39.7" fill="none" stroke="#ccc" stroke-width="0.7" stroke-dasharray="0.9 1.1" opacity="0.65"/><ellipse cx="1336" cy="263.6" rx="77.9" ry="42.9" fill="none" stroke="#ccc" stroke-width="0.7" stroke-dasharray="0.9 1.1" opacity="0.65"/><ellipse cx="1336" cy="264.8" rx="84" ry="46.2" fill="none" stroke="#ccc" stroke-width="0.7" stroke-dasharray="0.9 1.1" opacity="0.65"/><ellipse cx="1336" cy="266.1" rx="90.4" ry="49.7" fill="none" stroke="#ccc" stroke-width="0.7" stroke-dasharray="0.9 1.1" opacity="0.65"/><ellipse cx="1336" cy="267.4" rx="97.2" ry="53.5" fill="none" stroke="#ccc" stroke-width="0.7" stroke-dasharray="0.9 1.1" opacity="0.65"/><ellipse cx="1336" cy="268.9" rx="104.5" ry="57.5" fill="none" stroke="#ccc" stroke-width="0.7" stroke-dasharray="0.9 1.1" opacity="0.65"/><ellipse cx="1336" cy="270.4" rx="112.2" ry="61.7" fill="none" stroke="#ccc" stroke-width="0.7" stroke-dasharray="0.9 1.1" opacity="0.65"/><ellipse cx="1336" cy="272.1" rx="120.3" ry="66.2" fill="none" stroke="#ccc" stroke-width="0.7" stroke-dasharray="0.9 1.1" opacity="0.65"/><ellipse cx="1336" cy="273.8" rx="128.9" ry="70.9" fill="none" stroke="#ccc" stroke-width="0.7" stroke-dasharray="0.9 1.1" opacity="0.65"/><ellipse cx="1336" cy="275.6" rx="138" ry="75.9" fill="none" stroke="#ccc" stroke-width="0.7" stroke-dasharray="0.9 1.1" opacity="0.65"/><ellipse cx="1336" cy="277.5" rx="147.7" ry="81.2" fill="none" stroke="#ccc" stroke-width="0.7" stroke-dasharray="0.9 1.1" opacity="0.65"/><ellipse cx="1336" cy="279.6" rx="158" ry="86.9" fill="none" stroke="#ccc" stroke-width="0.7" stroke-dasharray="0.9 1.1" opacity="0.65"/><ellipse cx="1336" cy="281.8" rx="168.9" ry="92.9" fill="none" stroke="#ccc" stroke-width="0.7" stroke-dasharray="0.9 1.1" opacity="0.65"/><ellipse cx="1336" cy="284.1" rx="180.4" ry="99.2" fill="none" stroke="#ccc" stroke-width="0.7" stroke-dasharray="0.9 1.1" opacity="0.65"/><ellipse cx="1336" cy="286.5" rx="192.6" ry="105.9" fill="none" stroke="#ccc" stroke-width="0.7" stroke-dasharray="0.9 1.1" opacity="0.65"/><ellipse cx="1336" cy="289.1" rx="205.6" ry="113.1" fill="none" stroke="#ccc" stroke-width="0.7" stroke-dasharray="0.9 1.1" opacity="0.65"/><ellipse cx="1336" cy="291.9" rx="219.3" ry="120.6" fill="none" stroke="#ccc" stroke-width="0.7" stroke-dasharray="0.9 1.1" opacity="0.65"/><ellipse cx="1336" cy="294.8" rx="233.9" ry="128.6" fill="none" stroke="#ccc" stroke-width="0.7" stroke-dasharray="0.9 1.1" opacity="0.65"/><ellipse cx="1336" cy="297.9" rx="249.3" ry="137.1" fill="none" stroke="#ccc" stroke-width="0.7" stroke-dasharray="0.9 1.1" opacity="0.65"/><ellipse cx="1336" cy="301.1" rx="265.6" ry="146.1" fill="none" stroke="#ccc" stroke-width="0.7" stroke-dasharray="0.9 1.1" opacity="0.65"/><ellipse cx="1336" cy="304.6" rx="283" ry="155.6" fill="none" stroke="#ccc" stroke-width="0.7" stroke-dasharray="0.9 1.1" opacity="0.65"/><ellipse cx="1336" cy="308.3" rx="301.4" ry="165.8" fill="none" stroke="#ccc" stroke-width="0.7" stroke-dasharray="0.9 1.1" opacity="0.65"/><ellipse cx="1336" cy="312.2" rx="320.8" ry="176.5" fill="none" stroke="#ccc" stroke-width="0.7" stroke-dasharray="0.9 1.1" opacity="0.65"/></g><ellipse cx="1336" cy="268" rx="95" ry="42" fill="url(#gf)"/><ellipse cx="1336" cy="249" rx="66" ry="36" fill="url(#h3)"/><ellipse cx="1328" cy="205" rx="42" ry="15" fill="url(#gw)" opacity="1"/><ellipse cx="1328" cy="212" rx="13" ry="3.5" fill="#000"/><path d="M1264 235.6h0.9M1287.1 235.8h0.7M1302.8 257.8h1.1M1245.7 249.2h0.5M1304.5 253.7h1.1M1268.6 264.2h0.6M1283.1 240.6h0.6M1288 237.3h0.8M1304 247.7h0.6M1245.8 211.5h1.1M1256.4 233.2h0.8M1282.4 234.1h0.5M1284.2 227.7h0.7M1311 215.6h0.7M1280.5 255.6h1.2M1297.7 228.5h1M1287.9 266.3h1.2M1282.6 219.6h0.6M1293.2 224h0.7M1293 245.2h1.2M1314.9 252h0.6M1290.2 224.6h1.2M1273.5 212.2h0.4M1275.3 227.9h0.6M1247.9 223.6h0.5M1252.9 220h0.7M1277.5 227.7h0.7M1282 267.3h0.6M1266.4 208.7h1M1277 251.6h0.4M1267.7 215.9h0.7M1312.4 219.5h0.9M1312.3 237.8h0.9M1302.1 210.1h0.4M1311.8 228.1h0.9M1245 247.1h0.7M1288.2 205.5h1.1M1267.7 204.8h1.1M1276.5 268.3h0.5M1255.8 251.6h0.5M1271.1 250.5h1M1306.7 212.1h1.1M1275.4 260.2h0.8M1252.3 258.7h0.9M1276 222.2h0.5M1259.8 263h1M1278.2 234.9h1.1M1311.5 233.5h0.4M1278.4 232.4h0.8M1293.9 228.4h0.6M1302.5 264.5h1.1M1269.1 220.5h0.6M1295.8 261.4h0.5M1278 267.1h1.1M1274.2 226.6h1M1296.3 218.1h1.1M1256.8 259h0.6M1245.7 215h1.2M1266.6 244.5h0.4M1278.7 228.5h0.5M1283.5 220.1h0.7M1302.3 242.2h0.5M1259.8 237.3h1.2M1312.7 257.8h0.5M1299.4 248.6h0.8M1314.7 233.9h0.5M1285.8 236.2h1.1M1313 203.6h0.6M1299.5 260.7h0.8M1285.5 235.2h1M1256.7 238.8h0.5M1299.7 229.2h0.7M1312.3 232.3h0.6M1282.4 257h0.7M1272.6 232h1.2M1283.7 208.9h0.8M1278.1 208.3h0.9M1301.6 222.1h0.9M1278.3 227.9h0.6M1297.4 225h0.7M1259 255.3h1.1M1310.4 202.3h0.5M1304.2 241.1h0.7M1273.1 241.5h0.5M1267.4 250.8h0.9M1242.4 237.6h0.9M1309.3 229.9h1.1M1275.2 226.6h0.6M1274.8 264.3h0.8M1240.2 211.8h0.6M1286.8 225.8h0.8M1309.5 248.6h0.5M1242.3 243.1h0.9M1288.9 225h0.4M1273.9 255.2h0.9M1307.9 229h0.5M1293 263.2h1.1M1288.4 252.6h0.5M1274.8 252.9h0.7M1250.8 257.9h1M1281.8 265.9h0.9M1289.2 238.2h1.1M1305.2 228.9h1.1M1313.8 228.5h1.1M1276.9 209.4h0.9M1293.2 221.4h0.6M1271.5 244.3h0.6M1251.8 223.6h0.9M1312.9 204h1M1276.5 258.3h1M1243.6 243.3h0.9M1276.2 239.8h0.8M1253.7 242.6h0.5M1263.2 256.6h0.9M1278.3 243.9h0.8M1268.8 229.7h0.4M1314.7 261.7h0.9M1251.9 257h0.6M1300.4 238.6h0.9M1295.6 204.1h1.1M1280.7 248.1h1.1M1259.1 217h0.7M1245.8 258.8h0.9M1276.7 229.1h1.1M1245.2 212.2h0.9M1280.1 224.8h0.6M1256.7 240.3h0.7M1310.3 261.2h1.2M1260.7 226.3h0.5M1277.6 266.1h1M1267.3 204.9h1.1M1244 256.1h1.1M1245.2 265.6h0.9M1269.2 218.3h0.9M1279.5 258.1h1.1M1298.4 238.3h0.9M1307.4 212.7h0.8M1282.1 246.5h0.5M1297 267.2h1.1M1299.3 265.3h1M1281.1 254.2h1M1287.2 240.2h0.5M1265.4 209.3h1.1M1298.6 206.2h1.2M1311.2 212.3h0.7M1304.1 228h0.9M1273 221.4h1.2M1260.8 227.3h0.8M1278 251.9h0.7M1244.4 264.2h0.5M1259.5 217.9h1M1272.6 217.6h0.7M1279.1 205.3h1.2M1281.1 211.6h1M1243 240.9h0.7M1309.5 207h0.7M1263.8 228h0.6M1290.2 217h1M1261.9 221.1h0.8M1293.9 238.7h0.7M1253.8 239.6h0.7M1308.1 201.1h0.6M1291.2 232.1h0.6M1300.8 240.8h0.7M1285.6 239.1h0.8M1246.9 212.8h1.2M1268 237.5h0.5M1298 257.8h0.7M1267.9 226.2h0.6M1291.5 225.8h1.2M1312.2 258.7h1.2M1249.7 267.8h1.1M1286.2 235.8h0.7M1281.1 204.7h0.5M1305.3 231.7h1.1M1262 231.9h0.6M1288.6 229.9h0.7M1246 223.8h0.8M1253.9 207.5h1M1257.4 237.1h0.4M1246.2 243.7h0.8M1248.5 222.6h1.2M1269.3 230.1h0.7M1306.2 232.2h0.7M1310 255.7h0.7M1285.2 229.7h0.6M1242.5 246.2h0.5M1289 235.1h1.2M1289.5 227h0.4M1311.9 224h1.1M1243.1 255.2h0.8M1256.3 216.5h0.5M1291.7 235.6h1M1311.3 206.6h0.9M1269.8 260.5h1.1M1297.3 234h0.6M1308.1 267.2h1.2M1265.4 254h0.9M1303 252.2h0.8M1269.6 251.6h0.9M1280.5 258.6h0.4M1241 221.8h0.5M1250.1 247.8h0.9M1270.8 233.7h0.8M1311.1 225.7h0.8M1274.7 217.1h1M1248.4 242.3h1.1M1297.1 228.9h0.7M1280.4 259.2h1.1M1253.8 247.4h1M1276 257.2h0.5M1265.2 226.3h1M1273.7 207.2h1.1M1269.4 217.8h0.6M1276.2 243.6h0.7M1289.7 224.4h0.4M1312.2 205.9h0.8M1251.5 256.6h0.8M1263 261.4h0.8M1257.5 233.8h0.5M1279 238.3h0.5M1281.1 207.9h1M1286.2 261.9h0.9M1292.8 252.9h0.5M1271.3 205.5h0.8M1305.4 230.4h1M1297.4 205h0.9M1268.1 222.7h0.8M1263.5 256.4h1.2M1267.5 265.7h0.4M1242.6 248.6h0.5M1249.3 212.2h0.5M1275.3 211.1h1M1277 266.9h1.1M1252.8 262.6h1.1M1282.4 227.4h0.5M1254.7 235.3h0.7M1297.6 231.6h1.1M1246.6 256.2h0.8M1292.2 216.5h1M1262.6 247.7h0.4M1287.4 229.1h1M1264.7 222.9h0.8M1284.2 203.4h0.6M1257.4 260.5h0.7M1306 246.2h0.6M1310 236.8h0.5M1278.9 224.6h0.9M1261.7 261.9h0.9M1245.5 253.7h1.1M1262.8 244h1.1M1302.8 202.3h1M1291.5 221.9h1.1M1300.2 269.5h1.2M1283 246.1h0.9M1270 224.9h0.8M1303.3 256.1h1M1291.6 225.9h0.9M1273.3 267.3h0.6M1259.1 254.2h0.4M1299.9 251.8h1.1M1259.3 263.8h0.7M1273.8 265.6h0.8M1247.9 254.2h0.6M1311.8 241.1h0.6M1293.3 208.6h0.8M1245.7 255h1M1283.6 242.2h0.7M1249.6 209.3h1M1258.1 222.8h0.4M1243.4 220.5h0.5M1296.2 251.5h0.7M1280.7 269.3h0.9M1269 267.8h0.6M1311.7 207.9h0.7M1263.7 238.7h1.1M1314.3 245h0.8M1284.9 250.7h1M1275.9 204.2h0.9M1269.8 221h0.8M1284.1 260.1h0.6M1248.4 256.4h1.1M1249.4 212.4h1.1M1304.8 268.1h1.2M1258.7 225.2h0.4M1259 222.6h0.9M1300 259.1h0.4M1300.3 255.9h0.9M1262.5 253.8h0.5M1243.5 265.9h0.6M1308.6 247.9h0.4M1247.1 238.2h0.5M1290 240.5h0.6M1305.3 236.8h1M1306.5 250.1h0.8M1284.3 224.3h1M1280 205h0.8M1279.1 258.3h1M1255.7 225.7h0.9M1283.5 221.4h0.8M1291.6 259.3h0.8M1298.8 241.2h0.5M1259.4 208.2h0.7M1276.8 206.5h1.2M1295.1 213.4h1M1287.2 266.3h0.7M1305.8 252.3h0.7M1250.8 252.6h0.7M1266.3 221.7h1M1307.1 262.5h1M1253.2 213.2h0.4M1255 210.6h0.5M1289 217h0.6M1291.4 209.5h0.4M1302.9 247.9h1.1M1312.5 238.8h0.8M1271.8 268.3h0.5M1312.8 247.2h1M1309 251.1h0.6M1250.5 214.3h1M1247.4 251h0.8M1299.9 210.3h0.4M1247.4 245.1h0.8M1303.8 243.3h0.5M1297.3 244.7h0.9M1288 242.5h0.4M1302.9 260.8h0.7M1278.9 238.6h1.1M1288.7 226.4h1M1281 217.2h0.7" stroke="#bbb" stroke-width="1.2" stroke-linecap="round" opacity="0.7"/><path d="M1306.3 165.7h0.6M1408.7 195h0.6M1437.2 161.5h0.7M1407.9 190.4h0.6M1240.7 198.3h0.7M1381.4 171.2h0.5M1357.4 173.8h0.8M1384.3 189.2h0.7M1410.3 161.9h0.9M1360.4 182.3h0.5M1218.4 187h0.8M1385.3 167.2h0.6M1414.7 184.2h0.9M1217.9 190.1h0.4M1373.3 179.5h0.4M1313.5 185.4h0.8M1214.4 178.4h0.8M1225.9 195.3h0.9M1291.3 165.2h0.5M1255.7 174.4h0.8M1463.7 180.6h0.9M1315.8 184.9h0.4M1313.4 157h0.5M1426.5 161h0.5M1344.5 179.1h0.4M1224 185.8h0.6M1218.7 177.1h0.6M1481.9 158.1h0.5M1213.7 180.3h0.9M1417.5 160.9h0.7M1295.8 199h0.8M1367.2 167.3h0.6M1344.7 172.7h0.7M1218.1 174.5h0.9M1307.8 178.3h0.8M1427.6 188.4h0.6M1398.4 164.8h0.7M1196.6 164.5h0.5M1294.1 188.5h0.4M1446.1 160h0.9M1467.2 183h0.8M1464.9 175.7h0.8M1202.1 190.4h0.7M1417.2 162.6h0.4M1343.7 182.7h0.7M1243.9 181h0.9M1265.4 192.1h0.9M1387.1 175.4h0.6M1327.6 161.5h0.4M1273.1 163.6h0.8M1297 194.5h0.7M1452.4 195.5h0.8M1322 166.7h0.7M1282.4 192.5h0.4M1376.6 170.9h0.6M1349.3 199.2h0.9M1295.6 198.1h0.9M1344.6 180.8h0.5M1420.9 177.4h0.8M1459.3 183.4h0.7M1351.2 161.8h0.6M1210.1 163.9h0.9M1302.3 161.9h0.6M1209.4 182.7h0.5M1255.1 184h0.9M1195.9 187.5h0.7M1333.2 174.5h0.4M1294 179h0.6M1480.3 171h0.8M1427.1 191h0.6M1336.8 193.1h0.5M1257.2 156.6h0.6M1323.5 198.1h0.9M1309.7 177.8h0.5M1410.4 178.8h0.5M1446.3 157.9h0.5M1330.4 199.9h0.5M1269.3 190.8h0.6M1461.4 156.8h0.5M1281.8 193.3h0.5M1387.4 195h0.9M1425.7 158.2h0.6M1255.3 161.4h0.5M1405.2 181.3h0.5M1274.8 158.9h0.9M1410.7 176.8h0.9M1475.6 165.1h0.5M1247.5 183.6h0.7M1342.3 190.1h0.7M1283.3 185.4h0.9M1206.5 177.4h0.5M1408.7 175h0.8M1386.2 198.2h0.7M1364.7 198.9h0.8M1290 160.6h0.9M1210.5 196.6h0.9M1383.9 197.8h0.7M1408.3 182.2h0.5M1214.9 188.7h0.6M1228.2 180.6h0.5M1268.1 194.6h0.7M1409 191.9h0.6M1322.9 175h0.6M1417.8 194.9h0.5M1398.3 165.5h0.4M1390.7 190.2h0.6M1480.5 187.6h0.6M1412.5 193.1h0.5M1456.4 175.1h0.5M1301.5 179.3h0.7M1277.4 158.6h0.7M1400.1 186.6h0.6M1440.7 156.8h0.5M1197.3 180.4h0.7M1258 179.1h0.4M1202.5 198.3h0.8M1212.1 184.9h0.7M1348.1 193h0.7M1464.9 186h0.9M1225.8 192.2h0.6M1459 190.8h0.9M1411 173.2h0.7M1418.9 158.6h0.7M1356.8 187.6h0.6M1367.8 188.4h0.6M1389.7 195.8h0.6M1344.6 177.3h0.8M1270.3 168.6h0.6M1381.2 162.8h0.9M1337.9 188.1h0.6M1199.9 173h0.7M1218.2 199.1h0.7M1325.1 157.3h0.5M1289.8 184.6h0.5M1332.7 167.9h0.7M1391.6 178.8h0.8M1372.6 159.7h0.7M1332.3 189.4h0.9M1294 193.4h0.5M1380.5 156.2h0.8M1321.4 176h0.6M1300 166.1h0.7M1373.9 158.4h0.5M1462.2 168.4h0.5M1359.6 172.4h0.9M1477 161.7h0.5M1241.6 175.6h0.5M1387.6 195h0.4M1199.6 160.9h0.6M1230.8 175h0.6M1402.9 198.5h0.9M1314 184.3h0.5M1369 194.9h0.8M1232.6 163.3h0.9M1394.2 189.5h0.4M1371.4 157h0.8M1422.4 170.2h0.4M1404.6 199.9h0.7M1298.1 170.5h0.8M1472.9 172.1h0.5M1481 174.8h0.6M1282.1 187.9h0.9M1328.1 193.6h0.6M1314.4 191.3h0.9M1411 187h0.8M1458.6 197.9h0.7M1304.4 156.3h0.7M1295 156h0.9M1281.2 197h0.4M1296.4 190.5h0.7M1387.1 177.5h0.4M1433.1 189.5h0.6M1355 191.4h0.6M1329.9 177.3h0.8M1405.3 170.7h0.8M1300.9 185.6h0.6M1452.8 197.4h0.8M1302.5 171.5h0.6M1367.4 157.5h0.7M1461.2 158.8h0.8M1357.9 199.9h0.8M1400.5 189.1h0.6M1226.2 193.6h0.8M1401.2 165.6h0.6M1341.2 172h0.6M1324.7 199.1h0.7M1475.1 196h0.5M1415.7 172.8h0.7M1355.3 188.5h0.6M1388.6 172.3h0.8M1335.1 184.3h0.9M1273.3 156.2h0.8M1344.2 184.4h0.8M1450.2 173h0.9M1305.2 188h0.8M1297.2 174.5h0.6M1291.2 174.1h0.8M1209.6 199.5h0.8M1354.2 184.3h0.5M1413.7 194.5h0.6M1336.8 165.6h0.5M1439.1 184.3h0.6M1377.7 164.1h0.4M1295.6 181.3h0.5M1349.1 170.3h0.5M1406.6 171.9h0.8M1409.4 172.5h0.4M1436.4 180.3h0.7M1390.8 180.1h0.9M1194.5 198.6h0.7M1310.1 195.9h0.8M1365 156.4h0.7M1311.5 181.2h0.8M1230.2 193.2h0.6M1264.9 157.6h0.5M1269.7 179.3h0.9M1241.9 168.7h0.6M1377.6 171.6h0.7M1235.6 157.9h0.7M1401.9 161.9h0.4M1385.9 158.9h0.9M1392.3 163.1h0.6M1208.2 159.9h0.6M1446.5 196h0.8M1376.9 181.7h0.7M1382.2 177.9h0.6M1434.7 169.2h0.6M1389 198.4h0.6M1317.6 173.7h0.5M1294.9 190.7h0.5M1330.5 168.5h0.7M1416.3 161.1h0.6M1246.4 184.4h0.7M1256.2 166.1h0.6M1287.2 195.3h0.8M1421.5 173.3h0.6M1250.4 176.3h0.9M1218.5 173.4h0.5M1437 169.3h0.6M1207.1 186.4h0.7M1424.3 187.7h0.8M1268.2 167h0.7M1206.3 197.2h0.8M1335.1 171.9h0.4M1352.8 190h0.5M1220.7 186.2h0.6M1421.6 174.1h0.9M1445.1 170.1h0.7M1362.2 175.8h0.8M1396.5 192h0.5M1338.4 179.9h0.7M1196.7 191.7h0.6M1238.1 193.6h0.7M1406.7 188.6h0.7M1457.1 158.5h0.6M1239.5 184h0.5M1200.2 162h0.5M1348.7 176h0.6M1195.5 179.2h0.5M1218.5 158.5h0.5M1308.2 163.3h0.6M1239.4 188.3h0.8M1285.9 159.2h0.9M1216.4 184.6h0.8M1332.1 195.2h0.5M1400.9 195.9h0.8M1438.2 175.2h0.7M1438.1 172.7h0.5M1201.1 165h0.5M1461.5 169.6h0.6M1474.6 186.4h0.6M1222.6 172.1h0.5M1467.1 174.5h0.9M1270.3 158.1h0.8M1213.8 190.7h0.7M1274.3 192.7h0.6M1477.2 180.6h0.9M1461.9 172.6h0.7M1403.1 184.8h0.4M1391.5 189.5h0.5M1219.6 159h0.7M1222.8 193.3h0.6M1480.7 188.3h0.6M1245 174.8h0.7M1441.8 195.2h0.6M1198.8 185.2h0.7M1379.7 191.3h0.8M1373.4 192.1h0.5M1466.4 185.3h0.4M1240.9 184.2h0.6M1463.8 168.3h0.6M1338 197.4h0.6M1450.7 187.8h0.7M1466.4 194.9h0.8M1350.2 157.9h0.5M1380.7 161.1h0.7M1292.6 173h0.8M1435.8 188.9h0.6M1347.5 199.4h0.9M1368.2 159.5h0.9" stroke="#777" stroke-width="0.9" stroke-linecap="round" opacity="0.6"/><path d="M1403.2 195.9h0.8M1413.7 227.7h0.8M1411.6 235.4h1M1446 239.1h0.9M1433.1 231.2h1M1448.7 194.2h0.6M1449.3 208.3h0.5M1431.9 197.1h0.7M1406.9 226.3h0.5M1465.5 195.4h0.8M1445 199.9h0.8M1438.4 220.8h0.5M1433.4 231.8h0.8M1417.1 206.7h0.9M1403.7 213.9h0.7M1430.1 190.1h0.5M1458.9 212.8h0.6M1431.6 192.6h0.4M1458 228h0.5M1422.2 193.8h0.6M1436.5 227.6h0.7M1459.3 239.9h0.7M1403 196.7h0.8M1409.1 235h0.4M1403.9 239.8h0.6M1438.9 219.8h0.5M1423.5 208.4h0.8M1454.8 224.7h0.5M1432.3 235.8h0.5M1424.4 220.8h1M1401.8 224.6h0.7M1437 232h0.5M1441.9 205.8h0.9M1450 210.8h0.5M1453.5 225h0.7M1452.2 237.4h0.5M1448.3 230.3h0.6M1463.2 205.7h1M1440.8 238.6h0.9M1454.7 208.5h0.7M1441.1 230.3h0.6M1462.9 200.8h0.7M1410.2 198.5h0.6M1403.3 218.5h0.8M1427.7 229.9h0.7M1447.8 194.3h0.6M1401.5 198h0.9M1409.5 219.8h0.6M1447.1 233.6h0.9M1467.5 238.3h0.6M1469.2 228.1h0.6M1423 216.2h0.9M1406.9 234.6h0.8M1441.5 210.3h0.6M1428.4 225.8h0.7M1450 233.8h0.5M1401.3 237.1h0.5M1457 210.2h0.5M1400.9 211.4h0.8M1403.8 190.6h0.6M1461.7 227.5h0.6M1428.2 210.8h0.8M1419.9 207.8h0.7M1416.6 211.5h0.8M1435.3 192.8h0.6M1439.9 201.6h0.6M1439.2 208.2h0.5M1461.2 193.3h0.9M1406.6 217.7h0.7M1428.7 221.3h0.9M1422.3 193h0.5M1461.5 219.9h0.9M1427.3 206.2h0.8M1439.8 235.7h0.5M1424 224.6h0.9M1432.7 229.4h0.5M1444.8 206.5h0.8M1420.8 199.3h0.6M1450.6 225.6h0.9M1429 193.3h0.9M1417.9 225.9h0.7M1431.1 191.5h0.5M1452.4 213h0.9M1456.5 216.7h1M1400.2 210h0.7M1403.8 233.6h0.5M1440.6 203.6h0.6M1432.6 204.5h0.5M1446.7 221.3h0.4M1468.1 195.3h0.5M1419.7 208.2h0.7M1463.2 195.1h0.7M1443.7 202.9h0.6M1431.1 234.4h0.9M1433.6 193.4h0.6M1457.2 211.7h0.6M1444.7 192h0.8M1448 195.6h0.7M1459.9 203.1h0.7M1424.2 217.6h0.6" stroke="#888" stroke-width="1" stroke-linecap="round" opacity="0.6"/><ellipse cx="1336" cy="246" rx="23" ry="10.5" fill="#000"/><polygon points="1318.8,252 1352.5,252 1364,297 1314,297" fill="#000" opacity="1"/></g><g clip-path="url(#c4)"><path d="M1525.5 187.2H1633" stroke="#fff" stroke-width="1.1" stroke-dasharray="1.2 2.4" opacity="0.8"/><path d="M1633 187.2H1751" stroke="#fff" stroke-width="1.8" opacity="0.95"/><path d="M1525.5 265.1H1715" stroke="#fff" stroke-width="1.1" stroke-dasharray="1.2 2.0" opacity="0.7"/><path d="M1540.5 210.7H1645" stroke="#fff" stroke-width="1" stroke-dasharray="1 3" opacity="0.45"/><g clip-path="url(#L4)"><path d="M1708.8 248.2A22 22 0 1 1 1708.8 204.8" fill="none" stroke="#fff" stroke-width="1.2" stroke-dasharray="2.2 0.7" opacity="1"/><path d="M1709.3 251.1A25 25 0 1 1 1709.3 201.9" fill="none" stroke="#fff" stroke-width="1.2" stroke-dasharray="2.2 0.7" opacity="1"/><path d="M1709.9 254.1A28 28 0 1 1 1709.9 198.9" fill="none" stroke="#fff" stroke-width="1.2" stroke-dasharray="2.2 0.7" opacity="1"/><path d="M1710.4 257A31 31 0 1 1 1710.4 196" fill="none" stroke="#fff" stroke-width="1.2" stroke-dasharray="2.2 0.7" opacity="1"/><path d="M1710.9 260A34 34 0 1 1 1710.9 193" fill="none" stroke="#fff" stroke-width="1.2" stroke-dasharray="2.2 0.7" opacity="1"/><path d="M1711.4 262.9A37 37 0 1 1 1711.4 190.1" fill="none" stroke="#fff" stroke-width="1.2" stroke-dasharray="2.2 0.7" opacity="1"/><path d="M1711.9 265.9A40 40 0 1 1 1711.9 187.1" fill="none" stroke="#fff" stroke-width="1.2" stroke-dasharray="2.2 0.7" opacity="1"/><path d="M1712.5 268.8A43 43 0 1 1 1712.5 184.2" fill="none" stroke="#fff" stroke-width="1.2" stroke-dasharray="2.2 0.7" opacity="1"/><path d="M1713 271.8A46 46 0 1 1 1713 181.2" fill="none" stroke="#fff" stroke-width="1.2" stroke-dasharray="1.6 1.3" opacity="1"/><path d="M1713.5 274.8A49 49 0 1 1 1713.5 178.2" fill="none" stroke="#fff" stroke-width="1.2" stroke-dasharray="1.6 1.3" opacity="1"/><path d="M1714.2 278.7A53 53 0 1 1 1714.2 174.3" fill="none" stroke="#fff" stroke-width="1.2" stroke-dasharray="1.6 1.3" opacity="1"/><path d="M1714.9 282.6A57 57 0 1 1 1714.9 170.4" fill="none" stroke="#fff" stroke-width="1.2" stroke-dasharray="1.6 1.3" opacity="1"/><path d="M1715.8 287.6A62 62 0 1 1 1715.8 165.4" fill="none" stroke="#fff" stroke-width="1.2" stroke-dasharray="1.2 2.4" opacity="1"/><path d="M1716.6 292.5A67 67 0 1 1 1716.6 160.5" fill="none" stroke="#fff" stroke-width="1.2" stroke-dasharray="1.2 2.4" opacity="1"/><path d="M1717.7 298.4A73 73 0 1 1 1717.7 154.6" fill="none" stroke="#fff" stroke-width="1.2" stroke-dasharray="1.2 2.4" opacity="1"/><path d="M1718.9 305.3A80 80 0 1 1 1718.9 147.7" fill="none" stroke="#fff" stroke-width="1.2" stroke-dasharray="1.2 2.4" opacity="1"/><path d="M1719.9 311.2A86 86 0 1 1 1719.9 141.8" fill="none" stroke="#fff" stroke-width="1.2" stroke-dasharray="1.2 2.4" opacity="1"/><path d="M1721 317.1A92 92 0 1 1 1721 135.9" fill="none" stroke="#fff" stroke-width="1.2" stroke-dasharray="1.2 2.4" opacity="1"/><path d="M1722.4 325A100 100 0 1 1 1722.4 128" fill="none" stroke="#fff" stroke-width="1.2" stroke-dasharray="1.2 2.4" opacity="1"/><path d="M1723.8 332.9A108 108 0 1 1 1723.8 120.1" fill="none" stroke="#fff" stroke-width="1.2" stroke-dasharray="1.2 2.4" opacity="1"/><path d="M1725.1 340.7A116 116 0 1 1 1725.1 112.3" fill="none" stroke="#fff" stroke-width="1.2" stroke-dasharray="1.2 2.4" opacity="0.9"/><path d="M1726.9 350.6A126 126 0 1 1 1726.9 102.4" fill="none" stroke="#fff" stroke-width="1.2" stroke-dasharray="1.1 3.6" opacity="0.9"/><path d="M1728.3 358.5A134 134 0 1 1 1728.3 94.5" fill="none" stroke="#fff" stroke-width="1.2" stroke-dasharray="1.1 3.6" opacity="0.8"/><path d="M1729.8 367.3A143 143 0 1 1 1729.8 85.7" fill="none" stroke="#fff" stroke-width="1.2" stroke-dasharray="1.1 3.6" opacity="0.8"/><path d="M1731.6 377.2A153 153 0 1 1 1731.6 75.8" fill="none" stroke="#fff" stroke-width="1.2" stroke-dasharray="1.1 3.6" opacity="0.7"/><path d="M1733.7 389A165 165 0 1 1 1733.7 64" fill="none" stroke="#fff" stroke-width="1.2" stroke-dasharray="1.1 3.6" opacity="0.7"/><path d="M1736.3 403.8A180 180 0 1 1 1736.3 49.2" fill="none" stroke="#fff" stroke-width="1.2" stroke-dasharray="1.1 3.6" opacity="0.6"/><path d="M1739.2 420.5A197 197 0 1 1 1739.2 32.5" fill="none" stroke="#fff" stroke-width="1.2" stroke-dasharray="1.1 3.6" opacity="0.5"/><path d="M1742.3 438.2A215 215 0 1 1 1742.3 14.8" fill="none" stroke="#fff" stroke-width="1.2" stroke-dasharray="1.1 3.6" opacity="0.4"/></g><g clip-path="url(#R4)"><path d="M1701.2 204.8A22 22 0 1 1 1701.2 248.2" fill="none" stroke="#fff" stroke-width="1.2" stroke-dasharray="2.2 0.7" opacity="1"/><path d="M1700.7 201.9A25 25 0 1 1 1700.7 251.1" fill="none" stroke="#fff" stroke-width="1.2" stroke-dasharray="2.2 0.7" opacity="1"/><path d="M1700.1 198.9A28 28 0 1 1 1700.1 254.1" fill="none" stroke="#fff" stroke-width="1.2" stroke-dasharray="2.2 0.7" opacity="1"/><path d="M1699.6 196A31 31 0 1 1 1699.6 257" fill="none" stroke="#fff" stroke-width="1.2" stroke-dasharray="2.2 0.7" opacity="1"/><path d="M1699 192.5A34.5 34.5 0 1 1 1699 260.5" fill="none" stroke="#fff" stroke-width="1.2" stroke-dasharray="2.2 0.7" opacity="1"/><path d="M1698.4 189.1A38 38 0 1 1 1698.4 263.9" fill="none" stroke="#fff" stroke-width="1.2" stroke-dasharray="2.2 0.7" opacity="1"/><path d="M1697.7 185.1A42 42 0 1 1 1697.7 267.9" fill="none" stroke="#fff" stroke-width="1.2" stroke-dasharray="2.2 0.7" opacity="1"/><path d="M1697.2 182.2A45 45 0 1 1 1697.2 270.8" fill="none" stroke="#fff" stroke-width="1.2" stroke-dasharray="1.6 1.3" opacity="1"/><path d="M1696.7 179.2A48 48 0 1 1 1696.7 273.8" fill="none" stroke="#fff" stroke-width="1.2" stroke-dasharray="1.6 1.3" opacity="1"/><path d="M1695.8 174.3A53 53 0 1 1 1695.8 278.7" fill="none" stroke="#fff" stroke-width="1.2" stroke-dasharray="1.6 1.3" opacity="1"/><path d="M1694.9 169.4A58 58 0 1 1 1694.9 283.6" fill="none" stroke="#fff" stroke-width="1.2" stroke-dasharray="1.6 1.3" opacity="1"/><path d="M1693.5 161.5A66 66 0 1 1 1693.5 291.5" fill="none" stroke="#fff" stroke-width="1.2" stroke-dasharray="1.2 2.4" opacity="0.8"/><path d="M1691.8 151.7A76 76 0 1 1 1691.8 301.3" fill="none" stroke="#fff" stroke-width="1.2" stroke-dasharray="1.2 2.4" opacity="0.7"/><path d="M1690.1 141.8A86 86 0 1 1 1690.1 311.2" fill="none" stroke="#fff" stroke-width="1.2" stroke-dasharray="1.2 2.4" opacity="0.7"/><path d="M1688.3 132A96 96 0 1 1 1688.3 321" fill="none" stroke="#fff" stroke-width="1.2" stroke-dasharray="1.2 2.4" opacity="0.7"/><path d="M1686.1 119.2A109 109 0 1 1 1686.1 333.8" fill="none" stroke="#fff" stroke-width="1.2" stroke-dasharray="1.2 2.4" opacity="0.6"/><path d="M1684 107.3A121 121 0 1 1 1684 345.7" fill="none" stroke="#fff" stroke-width="1.2" stroke-dasharray="1.1 3.6" opacity="0.6"/><path d="M1681.7 94.5A134 134 0 1 1 1681.7 358.5" fill="none" stroke="#fff" stroke-width="1.2" stroke-dasharray="1.1 3.6" opacity="0.6"/><path d="M1679.1 79.8A149 149 0 1 1 1679.1 373.2" fill="none" stroke="#fff" stroke-width="1.2" stroke-dasharray="1.1 3.6" opacity="0.5"/><path d="M1676.3 64A165 165 0 1 1 1676.3 389" fill="none" stroke="#fff" stroke-width="1.2" stroke-dasharray="1.1 3.6" opacity="0.5"/><path d="M1673 45.3A184 184 0 1 1 1673 407.7" fill="none" stroke="#fff" stroke-width="1.2" stroke-dasharray="1.1 3.6" opacity="0.4"/><path d="M1669.9 27.6A202 202 0 1 1 1669.9 425.4" fill="none" stroke="#fff" stroke-width="1.2" stroke-dasharray="1.1 3.6" opacity="0.4"/><path d="M1666.5 7.9A222 222 0 1 1 1666.5 445.1" fill="none" stroke="#fff" stroke-width="1.2" stroke-dasharray="1.1 3.6" opacity="0.4"/></g><ellipse cx="1693" cy="226.5" rx="70" ry="44" fill="url(#gw)" opacity="1"/><ellipse cx="1719" cy="226.5" rx="44" ry="44" fill="url(#gw)" opacity="0.8"/><path d="M1677.5 184.5h1.6M1676.5 169.2h1.5M1680.1 176.3h1.1M1669.2 184.1h1.5M1700.7 184.7h1.4M1702.4 174.3h1.4M1710.7 175.3h1.3M1715 181.7h0.9M1667.1 173.9h1.2M1732.6 169.2h0.5M1642.4 180.6h1.3M1730.1 180.2h1.1M1734.3 174.7h1M1731.1 171.4h1M1714.3 181.5h0.5M1684.4 179.2h1.1M1715.5 171.4h0.5M1651.5 186.1h1.5M1659.7 177.7h1.3M1652.9 173.3h1M1661.4 177.8h1.3M1648.1 177.5h1.5M1709.8 170.7h1.5M1739.4 186.5h0.7M1682.4 179.9h1.6M1665.2 177.8h1M1731.2 185h0.7M1668.3 167h0.9M1699.3 183.5h0.6M1729.9 167.6h1.5M1676.5 174.6h1.4M1701.4 177.9h1.3M1679.7 164.5h1.3M1653.1 177.5h1.5M1719.6 186.7h1.1M1702.6 172.3h1.1M1701.1 178.4h0.6M1664.9 174.8h1.3M1655.3 174h0.8M1700.4 184.4h0.7M1721 174.1h1.3M1724.1 176.3h1.6M1742.8 186.8h0.7M1666.3 170h0.8M1668 169.6h0.5M1735.8 165.8h1.5M1680.5 171.7h1M1711.9 171.8h1.3M1663.6 173.9h0.7M1728.6 179h1M1724.4 168.1h1.5M1656.3 161.3h1.1M1670.9 183.7h1.5M1668 174.7h1.4M1736.7 167.6h1.1M1718.4 172.3h0.8M1720.1 184.2h1.1M1673.2 173.8h0.5M1652.3 167.4h1.1M1707.1 179.4h1.5M1731.7 172h0.7M1728 183.5h1.5M1660.4 182h0.6M1655.6 173.5h1.2M1716.5 172.6h1.5M1660.6 177h0.9M1652.2 173.5h1.1M1686.7 181.4h1.6M1649.2 183.8h1.2M1746 183.8h1.3M1682.9 179.3h1.5M1668.3 183.5h1.1M1680.2 184h1.2M1659.5 162.4h1.1M1737.2 165.9h0.5M1732.9 186.1h1.5M1745.7 186.1h0.9M1711.8 178h1.2M1682.1 177.5h0.8M1650.2 172.1h0.8M1700.3 180.8h1.1M1685.6 172.7h1.3M1652.5 171.9h1.3M1642.8 186.5h0.8M1704.8 166.9h0.6M1663.3 174.2h1.1M1721.4 176.3h0.9M1713.6 169.7h1.2M1706.2 187h1M1659 167.5h1M1660.9 161.9h1M1711.4 179.1h0.6M1683.8 183.2h0.5M1661.9 183.3h0.6M1641.8 184.4h0.8M1735.2 182.8h0.6M1673.8 173h0.7M1646.6 182.5h0.8M1691.6 182.7h1.2M1665.1 183.8h1.5M1681.9 170.6h0.9M1713 183.9h1.5M1653.3 161.7h0.9M1712.8 161.7h1.5M1726.6 184.7h0.7M1666.3 178.4h1M1703 171.2h0.6M1722.1 179.4h1.3M1726.1 178.2h1.1M1649 178h0.9M1669.6 180.6h0.8M1708 186.5h1M1705.1 172.5h0.8M1715.9 170.5h1.3M1711.7 185.1h0.9M1722.3 178.9h1.2M1666.9 176.1h1.6M1711.8 158.7h1.5M1663.1 169.3h1.4M1705.9 166.7h0.7M1662.6 176.7h0.6M1650.9 169.5h1.2M1708.6 180.5h1.6M1680 177.7h1M1702.7 176.8h0.9M1740.9 183.8h0.6M1736.2 170.8h1.6M1682.2 169.1h0.7M1660.2 182.8h1.1M1729.9 176.3h1.5M1743.4 181.6h1.4M1677.4 183.9h1.4M1648.8 170.3h0.6M1710.3 179.9h0.8M1725.3 171.3h0.8M1680.7 174.8h0.5M1734.6 159.8h0.6M1703.8 175.5h1.1M1676.2 173h1.2M1639 184.4h1.1M1660.1 168.4h1.2M1668.7 177.6h0.8M1650 183.9h0.9M1704.6 173.8h1.1M1722.9 180h1.2M1653.3 167.3h0.5M1657.3 185.4h1.3M1663.5 173.5h1.5M1680.8 178.1h1.3M1664.4 180.5h1.5M1656.9 184.1h0.8M1728.7 173h1.3M1734.3 177.6h1M1715.5 166h1.1M1710.9 158.2h0.6M1680.1 183.6h0.6M1701.3 186.3h1.5M1654 178.2h1.5M1711.6 169.9h1.3M1646.5 182.6h0.7M1650.3 171.1h1.1M1709.7 156.4h0.5M1714.5 180.5h1.1M1676.3 180.9h0.6M1721.1 164.5h1M1708.4 179.2h1.5M1725.7 164.7h1.2M1651.4 170.1h0.9M1712.3 174.8h0.6M1722.6 174.8h0.5M1719.3 181.9h0.7M1653.6 160.3h1.3M1667.1 183.3h0.7M1735 177.9h1.1M1659.2 183.6h1M1703.6 186h1.4M1712.6 184.3h1.2M1738.5 183.1h1.4M1710 172.1h1.1M1748.4 185.2h0.8M1665.8 181.7h1.3M1653 173h1.3M1646.5 176.2h1.6M1675.8 176h1.5M1710 184.1h0.6M1722.3 166.3h1.5M1713.3 165.3h1.2M1728.5 178.2h1.2M1662.6 185.5h0.5M1659.6 183.3h1.2M1741.3 186.1h0.9M1676.7 174.5h1.3M1662.7 179.2h1.3M1663.8 175.8h0.6M1715.1 182.4h1.4M1732.9 173.5h0.7M1651.4 166.7h1.1M1729.4 182.5h0.6M1641.6 182.2h0.9M1717.5 171.3h0.7M1685.9 180.7h1.1M1729.8 172.7h1.5M1726.5 186.9h1M1658.7 161.7h1.6M1701.2 180.2h1.1M1664.2 183.4h0.9M1731.5 167.8h1M1726.5 179.5h1.2M1736.1 184.7h0.8M1652.7 164.6h1.6M1703.4 170h1.5M1666.4 179.3h0.8M1654.4 171.5h1.1M1653.7 170.8h1M1652.7 177.9h1.3M1710.5 170.7h1.5M1684.5 180.5h1.2M1684.6 182.4h1.4M1687.9 180.1h0.8M1672.4 183.1h1.5M1657.6 159.3h1M1681.9 169h0.9M1703.5 181.7h0.6M1724 171.6h0.6M1677.5 180.6h0.6M1681.6 168.7h0.7M1699.7 185.5h0.9M1727.7 175.7h0.7M1710.7 184.7h1.6M1661.8 161.6h0.7M1664.3 167.5h1.2M1738.6 174.1h0.9M1655 160.5h0.6M1726.4 168.6h0.5M1716.6 165.9h0.6M1659.2 183.4h1.4M1733.6 161.9h1.5M1737.9 185.6h1.6M1669.5 186.9h0.9M1729.1 183.6h0.8M1696.4 184.8h1.5M1680.2 176.2h1.4M1665.9 169.2h1.4M1725.8 165.1h1.1M1707.8 168h0.9M1665 180.7h1.3M1655.3 166.2h0.8M1703.4 170.4h0.8M1715.8 182.8h1.5M1726.5 185.6h1.2M1677.2 185.2h0.8M1742.8 186.4h0.9M1689 182h0.9M1688.5 181.5h0.6M1660 175.6h1M1699.8 181.9h0.9M1647.1 172.1h0.9M1713.9 173.8h1.3M1733 165.1h1.2M1695.8 186.7h1M1658.9 184.2h1.5M1655.4 180h0.6M1652.6 165.7h1.2M1715.8 168.3h0.7M1666.2 186.9h0.9M1739.6 183.4h1M1663.9 185.4h1M1656 170.3h0.8M1644.5 183.9h1.1M1643.1 185.5h1M1652.5 184.7h1.4M1669.5 169.1h1.1M1673.7 185.4h0.7M1713.7 186.1h0.8M1737.5 183.6h1.5M1674.4 176.4h1.2M1672.7 186.8h0.9M1722.6 175.3h1M1652 187h1.2M1708.2 162.4h0.9M1653 165.7h1.4M1670.7 169h1.4M1738.1 177.4h1.4M1658.2 169.2h0.9M1678.3 178.2h0.6M1706.8 172.2h0.9M1664.6 174.6h0.5M1717.8 167.6h0.6M1706.4 184h1.2M1700 183.3h1.3M1660.5 172.9h1.6M1651.5 170.1h0.8M1642.2 185.4h1.4M1717.5 180.1h1.5M1724.9 170.2h0.7M1660 171.3h0.8M1654 183.1h1.5M1741.8 185.8h1.2M1646.8 186.1h0.5M1647.5 184.3h1.6M1710.7 174.3h1M1659.9 156.6h1.3M1681.6 182.1h0.8M1705.4 184.2h1.6M1651.8 173.2h0.6M1672.3 171.4h1.1M1704.5 173.7h0.9M1712.4 168.5h0.9M1660.8 175.3h1.2M1713.3 167h0.9M1653.5 183.2h1M1649.6 182.6h1.6M1665.7 183h1.5M1676.4 180.5h1.5M1658 182.9h0.6M1655.8 160.4h0.8M1683.1 178.7h0.6M1736.4 164.5h0.7M1722.3 186.2h1.3M1682.3 178.1h1.6M1707.9 175.4h0.7M1733.4 186.2h1.4M1733.2 181.8h0.7M1648.1 171.5h1.5M1740.2 177.9h1.2M1734.4 186.6h1.4M1721.2 184.2h0.8M1703 186.6h1.3M1660.7 172.1h0.9M1733.1 185.4h1M1704.1 186.8h1.2M1644.2 186.1h1.3M1718.3 186h0.9M1721.8 176.7h0.9M1652.7 177h1.5M1646.3 181.5h1.1M1718.7 185h0.7M1719.2 168h1M1716.1 163.4h0.7M1655.5 184.6h1.2M1719.7 169.3h1.5M1701.7 186.6h1.3M1732 177.5h0.6M1725 176.8h1.5M1656.1 181.8h1.4M1681.7 179.7h1.3M1661.1 178.9h1.2M1707.8 164.6h1.2M1744.7 185.9h0.7M1729.6 184.4h0.6M1743.3 182.7h0.6M1714.8 167h0.9M1711.8 170.9h1.3M1710 178.5h1.3M1704.3 162.1h1.2M1733.9 185.4h1.4M1657.2 186.6h1.4M1704.7 182.7h0.6M1725.2 177.5h1.5M1701.2 172.6h1.4M1712.7 157.3h1.2M1652 175.9h1.1M1682.1 181h1.1M1699.9 184.3h0.8M1681.9 173.5h0.6M1654.7 158.7h1.5M1725 173.3h1.2M1655.8 157.2h1.1M1660.1 166.4h1.5M1672.7 163.8h0.9M1708.1 175.1h1.4M1664.1 180.2h0.7M1709.2 176.4h1.2M1686 173.3h1M1731 182h1.2M1679.6 184.1h1.5M1653.5 167.1h1.4M1741.9 180.4h1.3M1732.6 175.9h1.2M1711.2 160h1.2M1713.5 170.4h0.7M1673.2 176.7h0.9M1706.9 172.1h0.9M1683.1 186.4h1.1M1705.9 182h1.5M1669.5 175.2h1M1732.6 176h1.5M1744.9 183.6h0.6M1726.2 181.4h1.3M1688.8 186.5h1M1709.4 178.9h0.7M1686 176.8h0.8M1651.3 184.7h1.3M1677.8 184.9h0.5M1715.3 164.6h1.2M1657.1 168h1.1M1723.1 178.2h1.2M1729.9 179.4h1.3M1710.5 162.5h1.4M1654.1 162.1h1.4M1733.7 169.4h0.8M1654.7 157.5h0.9M1720.4 171.7h1.5M1710.1 160.7h1.3M1717.3 177.7h1.5M1651.8 176.7h0.8M1675.8 180.6h0.9M1715.5 176h0.8M1680.9 180.7h0.8M1712.1 178.1h1.6M1684.2 171.1h0.9M1685.3 178.4h0.7M1732.1 178.8h1.1M1711.6 163.9h0.5M1728 166.2h0.7M1660.3 171.2h0.6M1710.1 168.5h1.4M1731.5 185.4h1.4M1672.7 173h1.5M1727.9 171.1h1.3" stroke="#fff" stroke-width="1.6" stroke-linecap="round" opacity="0.9"/><polygon points="1643,212 1705,212 1705,240.5 1643,240.5 1639,226.5" fill="#000" opacity="1"/><circle cx="1705" cy="226.5" r="19" fill="#000"/><ellipse cx="1796" cy="203" rx="52" ry="46" fill="url(#gw)" opacity="1"/><path d="M1792.5 204L1766 247" stroke="#000" stroke-width="22" stroke-linecap="butt"/><circle cx="1792.5" cy="204" r="16.8" fill="#000"/></g><g clip-path="url(#c5)"><g mask="url(#m5)"><ellipse cx="1337" cy="402.7" rx="30" ry="16.5" fill="none" stroke="#ddd" stroke-width="0.9" stroke-dasharray="0.9 1.1" opacity="0.55"/><ellipse cx="1337" cy="403.3" rx="33.2" ry="18.3" fill="none" stroke="#ddd" stroke-width="0.9" stroke-dasharray="0.9 1.1" opacity="0.55"/><ellipse cx="1337" cy="404" rx="36.6" ry="20.1" fill="none" stroke="#ddd" stroke-width="0.9" stroke-dasharray="0.9 1.1" opacity="0.55"/><ellipse cx="1337" cy="404.7" rx="40.2" ry="22.1" fill="none" stroke="#ddd" stroke-width="0.9" stroke-dasharray="0.9 1.1" opacity="0.55"/><ellipse cx="1337" cy="405.5" rx="44" ry="24.2" fill="none" stroke="#ddd" stroke-width="0.9" stroke-dasharray="0.9 1.1" opacity="0.55"/><ellipse cx="1337" cy="406.3" rx="48" ry="26.4" fill="none" stroke="#ddd" stroke-width="0.9" stroke-dasharray="0.9 1.1" opacity="0.55"/><ellipse cx="1337" cy="407.2" rx="52.3" ry="28.8" fill="none" stroke="#ddd" stroke-width="0.9" stroke-dasharray="0.9 1.1" opacity="0.55"/><ellipse cx="1337" cy="408.1" rx="56.9" ry="31.3" fill="none" stroke="#ddd" stroke-width="0.9" stroke-dasharray="0.9 1.1" opacity="0.55"/><ellipse cx="1337" cy="409" rx="61.7" ry="33.9" fill="none" stroke="#ddd" stroke-width="0.9" stroke-dasharray="0.9 1.1" opacity="0.55"/><ellipse cx="1337" cy="410.1" rx="66.8" ry="36.7" fill="none" stroke="#ddd" stroke-width="0.9" stroke-dasharray="0.9 1.1" opacity="0.55"/><ellipse cx="1337" cy="411.1" rx="72.2" ry="39.7" fill="none" stroke="#ddd" stroke-width="0.9" stroke-dasharray="0.9 1.1" opacity="0.55"/><ellipse cx="1337" cy="412.3" rx="77.9" ry="42.9" fill="none" stroke="#ddd" stroke-width="0.9" stroke-dasharray="0.9 1.1" opacity="0.55"/><ellipse cx="1337" cy="413.5" rx="84" ry="46.2" fill="none" stroke="#ddd" stroke-width="0.9" stroke-dasharray="0.9 1.1" opacity="0.55"/><ellipse cx="1337" cy="414.8" rx="90.4" ry="49.7" fill="none" stroke="#ddd" stroke-width="0.9" stroke-dasharray="0.9 1.1" opacity="0.55"/><ellipse cx="1337" cy="416.1" rx="97.2" ry="53.5" fill="none" stroke="#ddd" stroke-width="0.9" stroke-dasharray="0.9 1.1" opacity="0.55"/><ellipse cx="1337" cy="417.6" rx="104.5" ry="57.5" fill="none" stroke="#ddd" stroke-width="0.9" stroke-dasharray="0.9 1.1" opacity="0.55"/><ellipse cx="1337" cy="419.1" rx="112.2" ry="61.7" fill="none" stroke="#ddd" stroke-width="0.9" stroke-dasharray="0.9 1.1" opacity="0.55"/><ellipse cx="1337" cy="420.8" rx="120.3" ry="66.2" fill="none" stroke="#ddd" stroke-width="0.9" stroke-dasharray="0.9 1.1" opacity="0.55"/><ellipse cx="1337" cy="422.5" rx="128.9" ry="70.9" fill="none" stroke="#ddd" stroke-width="0.9" stroke-dasharray="0.9 1.1" opacity="0.55"/><ellipse cx="1337" cy="424.3" rx="138" ry="75.9" fill="none" stroke="#ddd" stroke-width="0.9" stroke-dasharray="0.9 1.1" opacity="0.55"/><ellipse cx="1337" cy="426.2" rx="147.7" ry="81.2" fill="none" stroke="#ddd" stroke-width="0.9" stroke-dasharray="0.9 1.1" opacity="0.55"/><ellipse cx="1337" cy="428.3" rx="158" ry="86.9" fill="none" stroke="#ddd" stroke-width="0.9" stroke-dasharray="0.9 1.1" opacity="0.55"/><ellipse cx="1337" cy="430.5" rx="168.9" ry="92.9" fill="none" stroke="#ddd" stroke-width="0.9" stroke-dasharray="0.9 1.1" opacity="0.55"/><ellipse cx="1337" cy="432.8" rx="180.4" ry="99.2" fill="none" stroke="#ddd" stroke-width="0.9" stroke-dasharray="0.9 1.1" opacity="0.55"/><ellipse cx="1337" cy="435.2" rx="192.6" ry="105.9" fill="none" stroke="#ddd" stroke-width="0.9" stroke-dasharray="0.9 1.1" opacity="0.55"/><ellipse cx="1337" cy="437.8" rx="205.6" ry="113.1" fill="none" stroke="#ddd" stroke-width="0.9" stroke-dasharray="0.9 1.1" opacity="0.55"/><ellipse cx="1337" cy="440.6" rx="219.3" ry="120.6" fill="none" stroke="#ddd" stroke-width="0.9" stroke-dasharray="0.9 1.1" opacity="0.55"/><ellipse cx="1337" cy="443.5" rx="233.9" ry="128.6" fill="none" stroke="#ddd" stroke-width="0.9" stroke-dasharray="0.9 1.1" opacity="0.55"/><ellipse cx="1337" cy="446.6" rx="249.3" ry="137.1" fill="none" stroke="#ddd" stroke-width="0.9" stroke-dasharray="0.9 1.1" opacity="0.55"/><ellipse cx="1337" cy="449.8" rx="265.6" ry="146.1" fill="none" stroke="#ddd" stroke-width="0.9" stroke-dasharray="0.9 1.1" opacity="0.55"/><ellipse cx="1337" cy="453.3" rx="283" ry="155.6" fill="none" stroke="#ddd" stroke-width="0.9" stroke-dasharray="0.9 1.1" opacity="0.55"/><ellipse cx="1337" cy="457" rx="301.4" ry="165.8" fill="none" stroke="#ddd" stroke-width="0.9" stroke-dasharray="0.9 1.1" opacity="0.55"/><ellipse cx="1337" cy="460.9" rx="320.8" ry="176.5" fill="none" stroke="#ddd" stroke-width="0.9" stroke-dasharray="0.9 1.1" opacity="0.55"/></g><ellipse cx="1337" cy="416.7" rx="95" ry="42" fill="url(#gf)"/><ellipse cx="1337" cy="397.7" rx="66" ry="36" fill="url(#h5)"/><g mask="url(#m5)"><path d="M1287.9 395.5A50 25 0 0 1 1287.9 348.5" fill="none" stroke="#ccc" stroke-width="2.2" stroke-dasharray="1.6 1.2" opacity="0.6"/><path d="M1284.7 399.8A59.2 29.6 0 0 1 1284.7 344.2" fill="none" stroke="#ccc" stroke-width="2.2" stroke-dasharray="1.6 1.2" opacity="0.6"/><path d="M1281.4 404.4A69 34.5 0 0 1 1281.4 339.6" fill="none" stroke="#ccc" stroke-width="2.2" stroke-dasharray="1.6 1.2" opacity="0.6"/><path d="M1277.9 409.2A79.2 39.6 0 0 1 1277.9 334.8" fill="none" stroke="#ccc" stroke-width="2.2" stroke-dasharray="1.6 1.2" opacity="0.6"/><path d="M1274.2 414.3A90 45 0 0 1 1274.2 329.7" fill="none" stroke="#ccc" stroke-width="2.2" stroke-dasharray="1.6 1.2" opacity="0.6"/><path d="M1270.4 419.6A101.2 50.6 0 0 1 1270.4 324.4" fill="none" stroke="#ccc" stroke-width="2.2" stroke-dasharray="1.6 1.2" opacity="0.6"/><path d="M1266.4 425.1A113 56.5 0 0 1 1266.4 318.9" fill="none" stroke="#ccc" stroke-width="2.2" stroke-dasharray="1.6 1.2" opacity="0.6"/><path d="M1262.2 430.8A125.2 62.6 0 0 1 1262.2 313.2" fill="none" stroke="#ccc" stroke-width="2.2" stroke-dasharray="1.6 1.2" opacity="0.6"/><path d="M1257.8 436.8A138 69 0 0 1 1257.8 307.2" fill="none" stroke="#ccc" stroke-width="2.2" stroke-dasharray="1.6 1.2" opacity="0.6"/><path d="M1253.3 443.1A151.2 75.6 0 0 1 1253.3 300.9" fill="none" stroke="#ccc" stroke-width="2.2" stroke-dasharray="1.6 1.2" opacity="0.6"/><path d="M1248.6 449.5A165 82.5 0 0 1 1248.6 294.5" fill="none" stroke="#ccc" stroke-width="2.2" stroke-dasharray="1.6 1.2" opacity="0.6"/><path d="M1243.7 456.2A179.2 89.6 0 0 1 1243.7 287.8" fill="none" stroke="#ccc" stroke-width="2.2" stroke-dasharray="1.6 1.2" opacity="0.6"/><path d="M1238.6 463.2A194 97 0 0 1 1238.6 280.8" fill="none" stroke="#ccc" stroke-width="2.2" stroke-dasharray="1.6 1.2" opacity="0.6"/><path d="M1233.4 470.3A209.2 104.6 0 0 1 1233.4 273.7" fill="none" stroke="#ccc" stroke-width="2.2" stroke-dasharray="1.6 1.2" opacity="0.6"/><path d="M1228 477.7A225 112.5 0 0 1 1228 266.3" fill="none" stroke="#ccc" stroke-width="2.2" stroke-dasharray="1.6 1.2" opacity="0.6"/><path d="M1222.5 485.4A241.2 120.6 0 0 1 1222.5 258.6" fill="none" stroke="#ccc" stroke-width="2.2" stroke-dasharray="1.6 1.2" opacity="0.6"/></g><ellipse cx="1318" cy="352" rx="95" ry="34" fill="url(#gf)" opacity="1"/><ellipse cx="1318" cy="350" rx="62" ry="22" fill="url(#gw)" opacity="1"/><path d="M1330 320.8h0.6M1236.4 308h1.1M1363.8 300.7h0.5M1361.7 318.4h1.1M1454.9 302.6h1M1478.1 326.9h1.1M1302.8 322.6h0.9M1423.8 325.8h1M1290.2 328.6h0.8M1471.7 311.7h0.8M1442.5 327.4h0.9M1234.4 305.6h0.6M1381.7 301.2h0.9M1226.9 307h0.6M1351.6 325.9h1.1M1258.5 303.1h1M1363.6 333.1h0.9M1229.9 313h0.6M1323 310.3h1M1452.7 306.8h1.1M1472 313.9h1M1467.3 326.4h0.7M1375.2 327.6h0.6M1330.3 303.2h0.5M1423.5 311.1h0.9M1316.9 325.6h0.6M1217.3 324h0.6M1251.5 316.7h0.7M1451.2 325.1h0.7M1320.3 321.6h0.5M1278.8 321.7h1.1M1366.9 307.6h1.1M1423.7 308h0.7M1201.8 327.4h0.6M1432.5 325.8h0.9M1356.3 308.7h0.4M1365 300.5h0.8M1417.2 305.1h0.7M1349.5 305.4h0.5M1369.6 306.2h0.5M1256.3 333.7h1M1224.4 320.6h0.7M1201 309h0.9M1197.7 334.5h0.6M1293.2 334.2h0.5M1230 317h0.6M1284.8 321h1.1M1312.7 301.6h0.7M1440.1 315.6h0.4M1264.6 308.2h0.6M1284.6 324.2h0.9M1205 305.2h1M1446.8 328.4h0.5M1393.6 302.7h0.9M1256.4 330.2h1M1328 326.1h1.1M1451.9 323.3h0.8M1295.9 324.6h0.5M1325.3 303.1h0.5M1386.3 315.3h0.5M1468.1 310.5h0.8M1334.7 306.6h1.1M1412.7 332.1h0.6M1457.1 332.8h1.1M1243.8 305.6h0.5M1218.2 325.3h0.4M1327.2 312.8h0.9M1205.5 325.9h1.1M1278.4 314.5h0.9M1280.9 330.5h1.1M1256.8 316.9h0.5M1354.3 314.2h1.1M1403.6 335.7h1M1432 313.8h0.9M1224.9 312.5h1M1477.2 306.2h0.7M1309.8 322.3h0.8M1267.9 331.7h0.7M1417.7 326h1.1M1341.9 321.2h0.9M1258.8 301.6h1M1394 327h1M1250.4 331.6h0.8M1466.8 320h1M1208.6 306h0.8M1386.3 313.9h0.5M1449.8 302.6h1M1259.8 325.4h0.8M1260.8 311.8h0.6M1347.1 310h0.8M1274 304.3h0.9M1268.1 334.2h0.7M1268.3 325.9h1M1299.7 326.4h0.6M1481.3 310.8h0.4M1193.1 319.5h0.8M1275.3 314.9h0.7M1297.7 306.8h0.8M1385.9 301h1M1267.5 317.1h0.6M1387.9 314.6h0.8M1310.7 318.3h0.5M1477.6 315.3h0.6M1438.4 310.6h1M1315.4 304.2h0.8M1273.6 307.2h1.1M1464.7 317h1M1386.9 310.9h0.5M1361.1 306.9h0.9M1365.1 307.9h0.9M1473.6 317.3h1.1M1322.9 300.6h0.7M1294.6 333h0.8M1471.6 305.9h0.7M1196.2 301.9h0.9M1201.6 308h0.7M1460 308.5h0.4M1396.1 325.1h0.5M1462 331.2h1.1M1431.7 319.7h0.9M1228.1 323.2h0.6M1289.7 311.3h0.5M1427.9 327.5h0.4M1341.3 300.8h0.8M1240.6 334.6h0.6M1344.3 309.4h1M1194.4 310.9h0.6M1409.2 313.4h1M1287.3 304.5h0.7M1217.1 305.5h0.8M1359.1 307.7h0.5M1343.8 316h0.7M1387.2 305.1h0.4M1210.8 328.6h0.9M1236.6 311.9h0.6M1460.6 314.8h0.9M1217 301.5h0.6M1378.7 316.1h1M1431.3 323.9h1.1M1471.4 331.8h0.5M1308.3 305.2h0.8M1339 303.3h0.5M1327.3 322.5h0.7M1329.3 322.8h0.9M1398 314.9h0.5M1445.1 301.5h0.5M1247.4 321.4h0.8M1221 318.5h0.8M1391.8 302.7h0.9M1270.6 313.9h0.5M1437.1 322.3h1M1341.8 304h0.7M1214.9 303.6h1M1192 314h0.4M1414.4 335.7h0.4M1297.8 335.1h0.6M1282.2 335.5h1M1304.4 324.1h1M1295.2 300.1h0.7M1393.5 334.7h0.7M1311.6 313.7h0.8M1198.5 332.9h1.1M1201.1 300.2h0.6M1234.5 327.7h1M1350.9 334h0.6M1249 313.8h0.7M1249.6 333.2h0.9M1275.9 308.2h0.6M1307 323.6h0.9M1468.4 302.9h0.5M1302.6 334.3h0.7M1401.2 329.9h0.7M1301.7 327.9h0.8M1480.9 309.7h1.1M1333.6 331.3h0.8M1356 330.8h0.5M1273.7 317.6h1M1246.2 328.1h0.5M1293.9 316.7h0.9M1344.1 330.6h0.9M1303.7 318.8h0.7M1445.9 310.9h0.5M1263.1 309h1M1391.9 308.8h0.7M1452.4 334.6h0.6M1466.7 302.1h1.1M1285.3 334.4h0.4M1392.3 333.3h1M1358.5 305.6h0.6M1466.4 331.2h0.6M1292.1 322.1h0.6M1254.1 331.3h0.5M1376.2 314.6h0.7M1445.6 326.8h0.9M1196.8 329.2h1M1192.2 308.1h0.9M1445 319.4h1M1217.5 309.4h1M1423 308h0.8M1319.5 326.6h0.7M1284.8 327.4h0.9M1297.3 325.7h0.6M1337.7 306.8h0.6M1313.8 303.2h0.6M1294.3 311.8h0.8M1453.8 330.6h0.6M1231.2 303.2h1M1413.1 326.6h1M1308.7 306.2h0.5M1308.2 327.7h0.5M1319.4 302.9h0.5M1353.1 323.4h1.1M1285.2 308.4h0.4M1246.6 301.3h0.4M1225.5 319.3h0.7M1455.9 317.5h0.5M1234.5 325.2h1.1M1410.1 308.4h0.6M1319.3 315.6h0.6M1237 300.9h1M1475.8 335.2h0.7M1392 307.4h0.5M1192.7 312h1M1345.5 308.4h0.7M1349.4 307h0.7M1462.4 316.1h1.1M1402.4 304.6h1M1393.5 316h0.5M1383.6 306.9h0.7M1236 314.9h1.1M1366 318.5h0.8M1382.5 321.7h0.6M1253.8 321.8h1.1M1445.7 317.6h0.6M1362.9 301.7h0.7M1420 334.8h0.5M1250.3 317.3h0.8M1472.5 303.9h0.5M1333 328.6h0.4M1302.7 325.6h0.7M1244.2 302.6h0.9M1340.5 319.4h0.9M1414 314.5h0.7M1459.5 302.7h0.9M1326.1 319.2h0.6M1466.3 310.9h0.6M1209.3 332.1h1M1206.7 305.3h0.6M1200.3 317.9h1M1401.5 318.1h1.1M1280.6 311.4h0.6M1367.4 316.8h0.5M1335.3 334.8h1M1373.5 331h0.7M1336.5 325.1h0.5M1364.7 318.1h0.6M1336.7 306.4h0.8M1225.3 316.1h0.4M1349.1 303.5h1M1197.3 329h0.6M1469.7 311.8h0.5M1386.8 308.8h1M1331 309.6h0.8M1256.9 309.5h0.5M1261.2 307.9h0.5M1313.1 316.2h0.8M1352.4 324.6h0.8M1329 330.8h0.5M1272 300.4h1M1448.1 314.7h1M1355.5 333.5h1M1288.4 310h0.7M1470.2 316.9h0.7M1198.9 313.8h1M1313.9 328.6h1M1464.7 326.4h0.7M1279.3 333.9h1M1408.3 302h0.9M1392.8 304.9h0.6M1324.3 309.1h0.5M1236.3 316.5h0.4M1422.8 315h0.6M1265.1 311.4h0.8M1400.1 315.5h0.9M1358.7 329.2h0.9M1414.6 300.9h0.6M1225.6 329.9h0.5M1460.8 312.3h0.5M1394.9 306.7h0.7M1319.7 322.8h0.8M1385.1 328.5h1.1M1372.7 315.4h0.7M1293.1 330h0.8M1394.7 329.5h0.9M1450.1 316.3h0.9M1449.6 317.6h1M1273.3 305.7h1M1352.5 334.6h0.8M1267.1 304.4h1M1265.6 306h0.8M1400.8 320.7h0.4M1419.4 324.3h0.6M1460.4 317.8h0.9M1218.5 311.1h0.9M1391.1 325.3h0.9M1200 330.8h0.4M1262.5 310.9h0.7M1219.9 315.4h0.5M1289.6 312.4h0.5M1425.7 301.1h0.5M1451.8 314.6h1.1M1281.5 318.7h0.8M1309.8 335.6h0.7M1423.9 318.3h0.6M1438.1 333.3h0.4M1366.3 327.1h0.8M1309.6 325.9h0.5M1330.2 307.2h1M1420.6 314.3h1M1349.9 323.6h0.6M1416.7 323.4h1.1M1268.3 314.5h0.9M1267.3 327.6h1M1240.3 326.2h0.6M1271.5 312.7h0.9M1377.7 313.8h0.9M1428.2 307.1h1M1343.6 322.9h1M1254.2 316.8h0.9M1196.6 314.1h0.8M1322.7 318.2h1M1225.2 325.9h0.6M1216.4 316.6h0.5M1325.5 306.1h0.7M1231.8 335.9h0.5M1321.1 321.7h0.9M1229.6 330.5h0.7M1216.1 315.5h0.8M1297.1 326.2h0.6M1429.4 333.6h1M1210.2 315.1h0.8M1303.4 306.7h0.8M1226.7 306h0.7M1482.1 313.8h1.1M1387.9 323.3h1M1361.6 326.6h0.7M1423.5 331.5h0.4M1463.9 301.2h0.8M1213.2 327.2h0.7M1231.7 330.3h0.6M1454.2 313.8h0.8M1321.6 327.4h0.6M1341.4 308.3h0.6M1224.1 309.4h0.6M1392.7 305.2h0.5M1475.1 323.1h0.5M1443.7 327.3h0.8M1471.9 319.2h0.5M1195.4 303.3h0.7M1352.9 330h0.4M1212.7 303.4h0.7M1464.4 328.1h0.4M1364 306.5h0.6M1285.6 308.9h0.6M1257.2 312.4h0.8M1355.7 326.2h0.6M1199.9 320.6h0.6M1253.1 314.7h1.1M1366.3 325.8h0.4M1350.2 325.2h1M1413.3 301.8h1.1M1196.8 327.7h0.7M1462.2 334.1h0.9M1216.2 323.3h0.5M1315.6 304.7h0.6M1207.3 319.4h0.5M1262.9 328h0.6M1360.6 331.1h0.8M1430.3 333.6h0.6M1246.2 335.8h1M1285.7 333.3h0.5M1258.1 331.1h0.5M1442.7 308h0.9M1229.1 318h0.8M1354.5 331.1h0.4M1398.2 330.7h0.8M1260.6 328.7h0.7M1268.1 327.8h0.9M1431.9 317.8h0.4M1198.9 319.9h0.4M1372.9 304.8h0.9M1197.8 324.8h0.6M1482.8 317.1h0.8M1439.1 310.2h1.1M1277.8 301.3h0.6M1298.9 321.5h0.4M1455.3 328h0.9M1479.6 301.9h0.9M1441.1 306.4h0.7M1250.1 333.3h0.7M1433.6 309.1h0.8M1409.1 312.3h0.6M1216.7 322.6h0.7M1250.2 311.5h0.6M1228.3 321.3h0.5M1254.9 313h1.1M1398.4 307.6h1M1465.2 311.9h1M1375.2 319.9h1M1387.2 323.3h1.1M1324.6 303.8h0.4M1402.4 316.9h1M1474.9 309.2h0.5M1358.9 300.8h0.5M1213.5 310.7h0.7M1249 324.8h0.9M1434.3 319.7h0.9M1423.6 326.2h0.6M1359.4 329.7h0.6M1296.4 300.4h0.8M1225.3 316h0.5M1225.7 332h0.6M1470.8 326.6h0.8M1332.9 323.4h1M1247.3 319.5h0.6M1246.5 307.9h1M1463.6 315.6h0.5M1243.5 311h0.7M1449.2 318.9h0.7M1374.3 306.4h0.7M1320.1 302.4h0.6M1358.4 321.7h0.6M1213.1 320.6h0.5M1193.2 334.7h0.9M1464.6 311.5h0.9M1439.9 322.6h0.4M1271.8 313.5h0.7M1358.6 306.7h0.6M1198.4 314.5h0.5M1259.9 300.7h1M1258.2 318.3h0.8M1204 319.7h1M1261.4 322.7h0.9M1355.1 312.9h0.8M1386.2 315.7h0.9M1410 327.1h0.7M1234.5 306.3h0.6M1355.6 302.1h0.6M1234.9 319.3h0.5M1431.4 302.3h0.6M1409.4 330h0.7M1466.4 331.6h0.8M1288.1 306.9h0.9M1209.4 323.4h0.6M1246.4 322.2h0.7M1208.5 305.3h1M1305.1 328.1h0.8M1192.9 312.3h0.8M1263 304.8h1.1M1286.4 323.7h0.7M1479.7 308.2h0.4M1381 325h1M1224.2 306.3h0.7M1273 304.7h0.5M1204.6 315.4h0.5M1200.3 303.4h0.9M1380 312.4h1M1205 315h1.1M1207.4 305.4h0.7M1294.1 302.4h1M1422.1 321.1h0.7M1354 318h0.8M1285.3 329.3h0.8M1260.7 321.1h0.9M1337 311.7h0.8M1392.8 306.6h1M1311.1 315.1h0.8M1413.1 306.2h0.5M1334.1 300.6h0.7M1229.3 307.2h0.7M1452.7 322h0.6M1377.6 318.4h0.4M1319.9 325.3h1M1473 300.6h0.8M1302.7 316h1M1319.2 319.6h0.9M1444.9 321h0.8M1221.4 313.5h0.5M1416.8 324.2h0.5M1360.6 331.5h1M1301.5 313.2h0.8M1313.6 335.1h1M1452 336h0.5M1467.4 313h0.6M1366.9 314.4h0.5M1475.7 306.6h0.5M1306.3 329.7h1M1324.1 314.5h0.5M1424.1 327.3h0.6M1386.6 332.1h0.7M1259.3 326.8h0.8M1306.8 300.2h0.6M1397 306.7h0.7M1416.1 312.5h0.5M1388.7 324.7h0.8M1456.1 313.4h0.8M1323.6 330.8h0.6M1262.1 313.3h1M1408.2 306.7h1M1479.3 312.1h1M1393.7 322.2h0.6M1192.3 331.3h0.6M1431.5 330.8h1M1405.3 326.1h1M1466.1 333.1h1M1285.6 333.1h0.5M1245.6 331.2h0.8M1469.6 311.9h0.4M1235.6 331.8h1M1316.7 323.5h0.4M1464.6 310.2h0.5M1333.6 317.2h0.7M1401.2 306.6h1M1286.7 314.4h1M1407.1 326.2h1M1315.1 312.5h0.8M1438.8 306.3h0.9M1330.2 334h0.9M1460.4 314.9h0.7M1264.6 307.5h0.6M1254.2 322.5h0.8M1406.5 327h1.1M1345.5 322.2h0.8M1330.9 312.3h0.6M1288.7 318.3h0.7M1351.2 324.1h1.1M1361.7 335.7h0.6M1369.1 321h0.7M1325.7 308.5h1.1M1213.8 329h0.7M1292.8 311.1h1.1M1289.6 320.8h0.7M1384.6 320.1h0.8M1222.8 300.9h0.9M1192.6 318.7h0.6M1407.7 311.7h0.4M1238.3 311.9h0.9M1397.1 330h1.1M1354 301.7h0.9M1295.1 321.8h0.5M1307.6 308.8h0.9M1467.6 313.2h0.8M1377.1 327.5h0.7M1270 323.6h0.6M1336.7 322.7h0.8M1475.2 312.6h0.6M1310.3 332.3h1M1209.4 306.2h0.6M1418.9 324.9h0.5M1421.9 331.1h1M1293.3 329.5h0.6M1463.1 305.1h0.7M1280.6 329.5h0.9M1346.7 319.3h0.6M1362.9 301.7h0.9M1470 316.4h0.7M1362.3 313.7h1M1254.3 317.6h0.9M1409.2 311h0.5M1392.7 304.5h1M1197.6 331.7h1M1339.3 332.1h0.9M1387.6 309.3h0.5M1225.9 303.5h0.9M1396.2 334h0.7M1297.8 331h1M1477.1 300.3h1.1M1312.2 328.7h0.5M1349.6 327.1h0.9M1394.3 303.2h1M1208 329.5h0.8M1372.9 308h1M1413.1 309h1.1M1312.9 331h0.6M1300.7 307.6h0.4M1233.4 305.5h0.8M1332.4 303.8h1M1376.8 318.6h0.6M1313.5 332.8h0.7M1338.3 333.2h0.7M1440.3 302.5h0.9M1227.2 309.8h0.5M1448.4 332.2h1M1337.2 304h0.8M1453.6 326h0.4M1479.4 334.1h0.8M1198.4 325.7h0.8M1193.2 316h0.4M1210 324.4h0.9M1286.6 305.6h0.6M1258.4 320h0.6M1457.5 300.6h0.6M1373.7 316.1h0.5M1304.6 310.1h1M1261.7 323h0.9M1313.3 301.6h0.8M1223.5 308.7h1M1243 334.5h0.5M1201.2 301.1h1M1452.8 309.8h0.6M1291.2 322.8h0.6M1328.2 323.5h0.6M1231.1 323.5h0.9M1193.1 315.6h1M1364.8 324.3h1.1M1251 314.2h0.5M1453.4 321.1h1M1383.3 312.2h0.9M1270.8 318.2h0.8M1417.9 308.8h0.9M1350.1 322.6h0.5M1345.1 303.3h0.8M1422.6 313.8h0.7M1373.6 320.1h1.1M1437.1 324.7h0.6M1208 324.4h0.6M1396.9 323.5h1M1209.4 317.4h0.6M1291.5 309.3h1M1324.6 319.8h0.5M1353.8 322.8h0.5M1290.6 309.6h0.8M1215.2 335.4h0.7M1461.4 301.2h0.9M1453.8 315.8h0.7M1373.1 311h0.6M1457.9 323.2h0.7M1325.8 328.6h0.9M1273.9 311.2h0.7M1208.2 315.1h0.5M1385.8 312h0.6M1255.5 309h0.6M1449.8 316.4h0.8M1284.9 334.3h0.8M1241.5 324.5h0.4M1481.6 326.7h0.5M1316.9 332.7h0.9M1420.6 320.9h0.5M1381.6 320.8h0.5M1208.5 318.9h1M1287.5 323h0.5M1447.6 331.9h0.6M1401.1 326.6h0.7M1448.2 301.7h0.6M1226 329.8h0.9M1258.7 323.7h0.8M1357.2 315h0.8M1355 311.5h0.7M1239.5 322.7h1M1258.5 321.2h0.7M1244.7 302.3h0.4M1408.4 304.8h0.6M1340.4 307.1h0.8M1329.9 308h0.9M1378.2 334.2h0.6M1417.9 322.4h0.8M1202.6 311.1h0.7M1205.3 303.6h1M1224.3 320.2h0.6M1345.2 314.1h0.6M1325 310h1.1M1325.9 304.6h0.9M1239.8 326.8h0.9M1460.5 318.7h0.9M1422.3 329.3h0.8M1452.2 326.8h0.7M1299.3 330.2h1M1301.8 333.2h1M1394.5 312.2h0.6M1276.4 324.7h0.7M1256.8 305.3h1M1247.5 306.2h0.8M1207.9 314.6h0.5M1441.9 320h0.7M1328.3 300.7h1M1466.9 300.3h0.8M1420.8 330.5h1.1M1455.2 331.9h0.5M1481.4 335.5h0.9M1447.4 309.4h0.7M1223.7 317h1.1M1397.2 316.5h0.6M1253.7 315.5h0.6M1334.3 320.6h0.7M1364.7 314.9h0.7M1333.4 330.3h1M1362.2 327.3h0.6M1239.4 311.3h0.5M1414.8 333h0.8M1255.6 304.7h0.9M1359 305.2h1.1M1411.2 334.7h1.1M1420.1 333.4h1.1M1238.4 312.5h0.8M1377.6 305.5h0.6M1416.7 334.8h0.7M1463.4 331.5h1M1247 313.8h0.9M1428.4 329.9h0.5M1389.1 300.9h0.6M1207.2 318.4h0.5M1383.9 314.7h1M1286.2 335.7h0.5M1215.8 318h0.8M1437.9 301h0.5M1263.4 315.6h1M1385.1 308.5h0.7M1415.3 320h0.5M1296.9 300.9h0.7M1259.4 310.8h0.6M1443.7 303h0.5M1230.3 315.4h0.7M1462.9 326.2h0.6M1230.2 319.7h1M1257.4 327.5h0.7M1470.6 334.4h0.5M1426.5 321.3h0.7M1342.7 332.6h0.7M1356.2 317.8h0.4M1412.8 303.8h1M1194.1 320.4h0.6M1391.3 322.5h0.9M1430.5 335.6h0.5M1258.8 317.4h1M1307.3 307.5h0.8M1283.8 302.8h1M1324.5 330.3h0.5M1290.3 304.2h1M1322 321.8h0.4M1320.1 314h0.9M1260.7 335.4h0.6M1341.5 316.9h0.6M1208.7 301.4h1M1477.1 322.1h0.5M1248.4 311.5h0.4M1291.5 310.2h0.6M1435.8 320.1h1.1M1281.3 302.5h0.9M1403.8 329.4h0.7M1429 303.6h0.9M1393.5 320.4h0.8M1327 315.5h0.7M1368.9 330.5h0.6M1354.1 314h0.5M1397.1 300.2h1M1206.4 306.1h0.9M1318.4 310.8h0.7M1463 323.3h0.7M1468 308.8h0.5M1405.6 328.9h1M1307.5 324.5h0.5M1269.9 333.9h1M1467.1 319.9h0.9M1297.4 314.3h1M1408.9 333.8h0.5M1312.2 333h1M1430.3 331.9h0.6M1399.8 303.8h0.7M1195.4 315.6h0.5M1311.1 324.1h0.9M1448.7 333.6h0.6M1289.1 315.1h0.6M1437.4 328.5h0.9M1380.7 310.6h0.6M1413.3 303.3h1.1M1234.1 307.5h0.9M1457.2 305.6h1.1M1340.4 304.5h0.8M1259.4 323.3h0.8M1435 333.1h1M1388.3 326.3h1M1435.7 317.8h1.1M1471.8 307.1h0.5M1370.7 319.6h0.7M1337 307.5h0.7M1364.7 327.1h0.9M1221.9 307.6h0.7M1416.8 309.9h0.9M1258.7 310.9h1M1249.1 330.3h0.8M1199.5 316.9h0.8M1228.3 313.4h0.7M1329.8 333.2h0.7M1452.9 310.5h0.9M1237.2 321h0.9M1432.7 301.9h0.9M1236.9 334.8h0.6M1440.4 305.9h1.1M1348.5 308h1M1421.9 326.1h0.7M1259.3 322.9h1M1406.5 325.6h0.4M1326.6 310.5h0.8M1386.5 321.6h0.4M1281.3 310.3h0.7M1274.9 306.9h0.6M1334.9 331.8h0.6M1471.7 323.9h1M1449.6 327.1h1M1248.4 322.7h0.7M1240.7 309.9h0.9M1230.8 303.7h1M1429.2 301.1h0.5M1192.9 319.2h1.1M1236.3 320.8h0.7M1403.9 321.2h0.9M1222.9 335.2h0.9M1223.6 300.4h1M1417.8 313.7h1.1M1376 318.4h0.4M1333.1 313.7h0.7M1292.4 330.6h0.7M1220.2 309h1M1342.5 312.6h1M1478.4 315h0.5M1285.5 304h1M1399 311.6h0.9M1438.6 335.8h0.5M1325.7 323.3h0.7M1345.9 316.4h0.7M1358.8 314.2h0.6M1313.1 328.1h0.5M1329.6 308.4h1M1194.4 312.5h1.1M1398.9 308.5h0.9M1338 303.4h0.5M1204.8 310.3h0.7M1474.5 332h0.8M1386.1 322.3h1M1299.8 323.4h0.6M1258.1 309.6h0.7M1278.3 321.5h0.4M1283.9 321.8h1M1421.2 315.5h0.8M1199.5 333.3h0.9M1422.6 303.8h0.7M1278.9 330.3h0.9M1238.1 334.9h0.5M1230.9 320.2h0.7M1469.7 301.7h1M1399.6 311.4h0.5M1397.4 301.1h0.6M1216 312.6h1.1M1438.1 319.8h0.9M1375.8 328.3h1M1472.5 334h0.6M1468.3 309h0.5M1381.5 301.7h1M1476.7 328.9h0.6M1345.9 301.9h0.7M1431.5 307.1h0.5M1295.3 312.7h0.6M1286.2 302.6h0.8M1335 322h0.6M1454.9 327.9h0.8M1303.6 330.7h0.7M1313.4 320.4h0.4M1336.4 303h1M1422.2 304.4h0.5M1385.5 319.6h0.7M1310.6 308.1h0.7M1206.9 302.4h0.6M1199.7 308.6h0.5M1295.2 321.3h1.1M1397 329.5h0.8M1413.6 322.7h0.4M1298.6 304.7h0.9M1297.9 315.6h0.5M1474.1 310h0.5M1300.2 311.4h0.5M1394.6 315.5h0.4M1468.1 304.4h1M1479.2 319.7h0.9M1193.6 307.2h1M1394.2 304.3h0.6M1214.1 328.5h0.8M1293.7 320.4h0.8M1268.1 319.3h0.4M1401.1 334.5h0.5M1318.8 321.4h0.9M1416.9 311.8h0.9M1296.6 328h0.8M1358.9 332.2h0.5M1337 312.5h0.4M1418.7 307.1h0.5M1231.5 328h0.9M1287.5 317.6h0.6M1335.5 301.4h0.6M1470.8 311.5h0.9M1372.4 316.7h0.8" stroke="#bbb" stroke-width="1.1" stroke-linecap="round" opacity="0.75"/><ellipse cx="1337" cy="394.7" rx="26.8" ry="11" fill="#141414"/><polygon points="1316,398 1358,398 1372,443 1310,443" fill="#141414" opacity="1"/></g><g clip-path="url(#c6)"><path d="M1527 333.7H1637.5" stroke="#fff" stroke-width="1.1" stroke-dasharray="1.2 2.4" opacity="0.8"/><path d="M1637.5 333.7H1755.5" stroke="#fff" stroke-width="1.8" opacity="0.95"/><path d="M1527 411.6H1719.5" stroke="#fff" stroke-width="1.1" stroke-dasharray="1.2 2.0" opacity="0.7"/><path d="M1542 357.2H1649.5" stroke="#fff" stroke-width="1" stroke-dasharray="1 3" opacity="0.45"/><g clip-path="url(#L6)"><path d="M1713.3 394.7A22 22 0 1 1 1713.3 351.3" fill="none" stroke="#fff" stroke-width="1.8" stroke-dasharray="2.2 0.7" opacity="1"/><path d="M1713.8 397.6A25 25 0 1 1 1713.8 348.4" fill="none" stroke="#fff" stroke-width="1.8" stroke-dasharray="2.2 0.7" opacity="1"/><path d="M1714.4 400.6A28 28 0 1 1 1714.4 345.4" fill="none" stroke="#fff" stroke-width="1.8" stroke-dasharray="2.2 0.7" opacity="1"/><path d="M1714.9 403.5A31 31 0 1 1 1714.9 342.5" fill="none" stroke="#fff" stroke-width="1.8" stroke-dasharray="2.2 0.7" opacity="1"/><path d="M1715.4 406.5A34 34 0 1 1 1715.4 339.5" fill="none" stroke="#fff" stroke-width="1.8" stroke-dasharray="2.2 0.7" opacity="1"/><path d="M1715.9 409.4A37 37 0 1 1 1715.9 336.6" fill="none" stroke="#fff" stroke-width="1.8" stroke-dasharray="2.2 0.7" opacity="1"/><path d="M1716.4 412.4A40 40 0 1 1 1716.4 333.6" fill="none" stroke="#fff" stroke-width="1.8" stroke-dasharray="2.2 0.7" opacity="1"/><path d="M1717 415.3A43 43 0 1 1 1717 330.7" fill="none" stroke="#fff" stroke-width="1.8" stroke-dasharray="2.2 0.7" opacity="1"/><path d="M1717.5 418.3A46 46 0 1 1 1717.5 327.7" fill="none" stroke="#fff" stroke-width="1.8" stroke-dasharray="1.6 1.3" opacity="1"/><path d="M1718 421.3A49 49 0 1 1 1718 324.7" fill="none" stroke="#fff" stroke-width="1.8" stroke-dasharray="1.6 1.3" opacity="1"/><path d="M1718.7 425.2A53 53 0 1 1 1718.7 320.8" fill="none" stroke="#fff" stroke-width="1.8" stroke-dasharray="1.6 1.3" opacity="1"/><path d="M1719.4 429.1A57 57 0 1 1 1719.4 316.9" fill="none" stroke="#fff" stroke-width="1.8" stroke-dasharray="1.6 1.3" opacity="1"/><path d="M1720.3 434.1A62 62 0 1 1 1720.3 311.9" fill="none" stroke="#fff" stroke-width="1.8" stroke-dasharray="1.2 2.4" opacity="1"/><path d="M1721.1 439A67 67 0 1 1 1721.1 307" fill="none" stroke="#fff" stroke-width="1.8" stroke-dasharray="1.2 2.4" opacity="1"/><path d="M1722.2 444.9A73 73 0 1 1 1722.2 301.1" fill="none" stroke="#fff" stroke-width="1.8" stroke-dasharray="1.2 2.4" opacity="1"/><path d="M1723.4 451.8A80 80 0 1 1 1723.4 294.2" fill="none" stroke="#fff" stroke-width="1.8" stroke-dasharray="1.2 2.4" opacity="1"/><path d="M1724.4 457.7A86 86 0 1 1 1724.4 288.3" fill="none" stroke="#fff" stroke-width="1.8" stroke-dasharray="1.2 2.4" opacity="1"/><path d="M1725.5 463.6A92 92 0 1 1 1725.5 282.4" fill="none" stroke="#fff" stroke-width="1.8" stroke-dasharray="1.2 2.4" opacity="1"/><path d="M1726.9 471.5A100 100 0 1 1 1726.9 274.5" fill="none" stroke="#fff" stroke-width="1.8" stroke-dasharray="1.2 2.4" opacity="1"/><path d="M1728.3 479.4A108 108 0 1 1 1728.3 266.6" fill="none" stroke="#fff" stroke-width="1.8" stroke-dasharray="1.2 2.4" opacity="1"/><path d="M1729.6 487.2A116 116 0 1 1 1729.6 258.8" fill="none" stroke="#fff" stroke-width="1.8" stroke-dasharray="1.2 2.4" opacity="0.9"/><path d="M1731.4 497.1A126 126 0 1 1 1731.4 248.9" fill="none" stroke="#fff" stroke-width="1.8" stroke-dasharray="1.1 3.6" opacity="0.9"/><path d="M1732.8 505A134 134 0 1 1 1732.8 241" fill="none" stroke="#fff" stroke-width="1.8" stroke-dasharray="1.1 3.6" opacity="0.8"/><path d="M1734.3 513.8A143 143 0 1 1 1734.3 232.2" fill="none" stroke="#fff" stroke-width="1.8" stroke-dasharray="1.1 3.6" opacity="0.8"/><path d="M1736.1 523.7A153 153 0 1 1 1736.1 222.3" fill="none" stroke="#fff" stroke-width="1.8" stroke-dasharray="1.1 3.6" opacity="0.7"/><path d="M1738.2 535.5A165 165 0 1 1 1738.2 210.5" fill="none" stroke="#fff" stroke-width="1.8" stroke-dasharray="1.1 3.6" opacity="0.7"/><path d="M1740.8 550.3A180 180 0 1 1 1740.8 195.7" fill="none" stroke="#fff" stroke-width="1.8" stroke-dasharray="1.1 3.6" opacity="0.6"/><path d="M1743.7 567A197 197 0 1 1 1743.7 179" fill="none" stroke="#fff" stroke-width="1.8" stroke-dasharray="1.1 3.6" opacity="0.5"/><path d="M1746.8 584.7A215 215 0 1 1 1746.8 161.3" fill="none" stroke="#fff" stroke-width="1.8" stroke-dasharray="1.1 3.6" opacity="0.4"/></g><g clip-path="url(#R6)"><path d="M1705.7 351.3A22 22 0 1 1 1705.7 394.7" fill="none" stroke="#fff" stroke-width="1.8" stroke-dasharray="2 1" opacity="1"/><path d="M1705.2 348.4A25 25 0 1 1 1705.2 397.6" fill="none" stroke="#fff" stroke-width="1.8" stroke-dasharray="2 1" opacity="1"/><path d="M1704.6 345.4A28 28 0 1 1 1704.6 400.6" fill="none" stroke="#fff" stroke-width="1.8" stroke-dasharray="2 1" opacity="1"/><path d="M1704.1 342.5A31 31 0 1 1 1704.1 403.5" fill="none" stroke="#fff" stroke-width="1.8" stroke-dasharray="2 1" opacity="1"/><path d="M1703.5 339A34.5 34.5 0 1 1 1703.5 407" fill="none" stroke="#fff" stroke-width="1.8" stroke-dasharray="2 1" opacity="1"/><path d="M1702.9 335.6A38 38 0 1 1 1702.9 410.4" fill="none" stroke="#fff" stroke-width="1.8" stroke-dasharray="2 1" opacity="1"/><path d="M1702.2 331.6A42 42 0 1 1 1702.2 414.4" fill="none" stroke="#fff" stroke-width="1.8" stroke-dasharray="2 1" opacity="1"/><path d="M1701.7 328.7A45 45 0 1 1 1701.7 417.3" fill="none" stroke="#fff" stroke-width="1.8" stroke-dasharray="2 1" opacity="1"/><path d="M1701.2 325.7A48 48 0 1 1 1701.2 420.3" fill="none" stroke="#fff" stroke-width="1.8" stroke-dasharray="2 1" opacity="1"/><path d="M1700.5 321.8A52 52 0 1 1 1700.5 424.2" fill="none" stroke="#fff" stroke-width="1.8" stroke-dasharray="2 1" opacity="1"/><path d="M1699.8 317.9A56 56 0 1 1 1699.8 428.1" fill="none" stroke="#fff" stroke-width="1.8" stroke-dasharray="2 1" opacity="1"/><path d="M1699.1 313.9A60 60 0 1 1 1699.1 432.1" fill="none" stroke="#fff" stroke-width="1.8" stroke-dasharray="2 1" opacity="1"/><path d="M1698 308A66 66 0 1 1 1698 438" fill="none" stroke="#fff" stroke-width="1.8" stroke-dasharray="2 1" opacity="1"/><path d="M1697.2 303.1A71 71 0 1 1 1697.2 442.9" fill="none" stroke="#fff" stroke-width="1.8" stroke-dasharray="2 1" opacity="1"/><path d="M1696.3 298.2A76 76 0 1 1 1696.3 447.8" fill="none" stroke="#fff" stroke-width="1.8" stroke-dasharray="2 1" opacity="1"/><path d="M1695.4 293.2A81 81 0 1 1 1695.4 452.8" fill="none" stroke="#fff" stroke-width="1.8" stroke-dasharray="2 1" opacity="1"/><path d="M1694.6 288.3A86 86 0 1 1 1694.6 457.7" fill="none" stroke="#fff" stroke-width="1.8" stroke-dasharray="2 1" opacity="1"/><path d="M1693.7 283.4A91 91 0 1 1 1693.7 462.6" fill="none" stroke="#fff" stroke-width="1.8" stroke-dasharray="2 1" opacity="1"/><path d="M1692.8 278.5A96 96 0 1 1 1692.8 467.5" fill="none" stroke="#fff" stroke-width="1.8" stroke-dasharray="2 1" opacity="1"/><path d="M1691.8 272.5A102 102 0 1 1 1691.8 473.5" fill="none" stroke="#fff" stroke-width="1.8" stroke-dasharray="1.8 1.4" opacity="1"/><path d="M1690.6 265.7A109 109 0 1 1 1690.6 480.3" fill="none" stroke="#fff" stroke-width="1.8" stroke-dasharray="1.8 1.4" opacity="1"/><path d="M1689.5 259.7A115 115 0 1 1 1689.5 486.3" fill="none" stroke="#fff" stroke-width="1.8" stroke-dasharray="1.8 1.4" opacity="1"/><path d="M1688.5 253.8A121 121 0 1 1 1688.5 492.2" fill="none" stroke="#fff" stroke-width="1.8" stroke-dasharray="1.8 1.4" opacity="1"/><path d="M1687.4 247.9A127 127 0 1 1 1687.4 498.1" fill="none" stroke="#fff" stroke-width="1.8" stroke-dasharray="1.8 1.4" opacity="1"/><path d="M1686.2 241A134 134 0 1 1 1686.2 505" fill="none" stroke="#fff" stroke-width="1.8" stroke-dasharray="1.8 1.4" opacity="1"/><path d="M1685 234.1A141 141 0 1 1 1685 511.9" fill="none" stroke="#fff" stroke-width="1.8" stroke-dasharray="1.8 1.4" opacity="1"/><path d="M1683.6 226.3A149 149 0 1 1 1683.6 519.7" fill="none" stroke="#fff" stroke-width="1.8" stroke-dasharray="1.8 1.4" opacity="1"/><path d="M1682.2 218.4A157 157 0 1 1 1682.2 527.6" fill="none" stroke="#fff" stroke-width="1.8" stroke-dasharray="1.8 1.4" opacity="1"/><path d="M1680.8 210.5A165 165 0 1 1 1680.8 535.5" fill="none" stroke="#fff" stroke-width="1.8" stroke-dasharray="1.8 1.4" opacity="1"/><path d="M1679.3 201.6A174 174 0 1 1 1679.3 544.4" fill="none" stroke="#fff" stroke-width="1.8" stroke-dasharray="1.8 1.4" opacity="1"/><path d="M1677.5 191.8A184 184 0 1 1 1677.5 554.2" fill="none" stroke="#fff" stroke-width="1.8" stroke-dasharray="1.8 1.4" opacity="1"/><path d="M1676 182.9A193 193 0 1 1 1676 563.1" fill="none" stroke="#fff" stroke-width="1.8" stroke-dasharray="1.8 1.4" opacity="1"/><path d="M1674.4 174.1A202 202 0 1 1 1674.4 571.9" fill="none" stroke="#fff" stroke-width="1.8" stroke-dasharray="1.8 1.4" opacity="1"/><path d="M1672.7 164.2A212 212 0 1 1 1672.7 581.8" fill="none" stroke="#fff" stroke-width="1.8" stroke-dasharray="1.8 1.4" opacity="1"/><path d="M1671 154.4A222 222 0 1 1 1671 591.6" fill="none" stroke="#fff" stroke-width="1.8" stroke-dasharray="1.8 1.4" opacity="1"/></g><ellipse cx="1697.5" cy="373" rx="70" ry="44" fill="url(#gw)" opacity="1"/><ellipse cx="1723.5" cy="373" rx="44" ry="44" fill="url(#gw)" opacity="0.8"/><path d="M1695.5 330h1.1M1693.7 332.9h0.8M1706.4 319.6h1.1M1727.4 311.1h1.6M1700.1 332.3h0.9M1663.4 331.3h1.1M1741.3 327.5h0.8M1697 331.3h0.6M1700.7 332.9h0.5M1677.5 325.1h0.6M1688.2 331.9h1.5M1721.4 320.3h1.3M1722.4 329h0.6M1731.1 332h1.2M1657.6 329h1.3M1661 332.2h0.8M1740.8 330.6h1.5M1676.8 329.5h1M1732.7 326.4h1.4M1729.1 319.8h1.3M1651.2 324.8h1.3M1709.4 311.9h1.1M1665.4 330.8h0.9M1722.2 332.3h1M1748.6 332.6h1.3M1739.3 329.1h1.5M1683.1 327.6h0.7M1736.1 326.5h1M1672.9 328.2h1.2M1732.5 328.6h0.6M1741.2 328.8h1.4M1660.4 327h1.3M1717.7 327.9h1.3M1741 318.5h0.8M1681.2 317.3h1M1648.5 329.6h1.3M1717.5 327.5h1.1M1659.7 325.9h0.8M1667.7 325.9h1.4M1674.6 328.6h1.1M1678.8 320.7h0.9M1698.8 331.9h1.3M1736.2 329.6h1.1M1745.3 332.8h0.6M1668 331.5h1.6M1681.1 317h0.8M1662.7 310.3h0.8M1650.6 329.5h1M1679.6 322.7h1.4M1684.2 332.9h0.5M1668.5 331.5h1.3M1715 327.6h0.7M1736 332h1.4M1657.7 310.3h0.7M1711.8 329.5h0.9M1686.4 326h1.5M1656.8 310.4h1.4M1662.1 318.8h1.3M1661.8 318.2h0.6M1703.3 330.8h0.9M1729.1 325.8h1M1701.9 328.4h0.6M1754.7 332.9h0.9M1673.1 330.4h1.1M1669.1 309.7h1.4M1741 322.6h0.8M1726.2 321.4h1.6M1694 331.2h0.9M1672.9 327.2h1.2M1719.3 326.8h0.5M1708.9 323h1.4M1735 330.7h0.8M1705.9 319.2h0.7M1656.3 324.2h1.2M1709.4 329.6h0.8M1664 305.1h1.5M1651.7 333h1.3M1735.2 318.4h0.6M1651.3 326h0.9M1668.2 331.9h0.7M1721.7 315.3h1.2M1663.9 307h0.9M1657.1 316.1h1.5M1724.7 330h0.6M1718.4 307.7h0.9M1673.6 317.4h0.9M1674.8 322.3h1.5M1741.1 315.3h1.2M1743 327.3h0.7M1649 331.6h0.9M1646.5 327.5h1.4M1677.1 326.6h1M1740.8 323.1h1.1M1712.1 301.6h1.1M1691.7 329h0.9M1726.2 325.8h1.3M1694 329.7h1.4M1662.5 311.6h1.5M1662.8 313.8h1.1M1731.5 324.3h1.6M1714.1 321.6h1.2M1678.6 314.3h1.3M1734.6 327.4h1.4M1667.4 316.7h1.3M1644.7 330.4h0.7M1732.3 316.5h1.2M1717.8 321.2h0.7M1735.7 313h1M1730.1 332.4h1.3M1748.6 328.8h1.6M1711.1 308.1h1.4M1673.3 331.1h0.6M1725.2 324.7h0.5M1654.1 314.4h1.2M1724.8 321.9h0.8M1683.8 317.5h0.7M1653.6 323.1h0.8M1739.5 317.4h0.9M1664.1 323.4h1.5M1668.2 323.9h0.8M1652.9 333h0.9M1657.7 304.9h0.6M1672.8 326.9h0.6M1737.3 309.5h1.1M1688.9 326.6h1.5M1743.4 332.9h1.4M1746.6 326.2h1.4M1662.1 302.3h1.1M1676.8 327h1.2M1705.8 324.7h1M1664.9 309.5h1.2M1736.1 315.1h0.9M1647.9 332.4h0.9M1653.9 329.1h1.2M1668 325.7h1.2M1736.1 324.6h0.6M1734.1 307.3h1.1M1721.5 327.6h1.2M1683.9 331h1M1675 331.5h1.1M1686.5 328.2h1.1M1665.6 332.2h1M1725.7 327.2h0.8M1644.8 331.2h1.5M1713.7 303.6h0.9M1729.3 316.4h1.1M1719.7 328h0.7M1702.6 333.3h0.6M1738.1 319.2h0.9M1736.6 325.7h0.9M1722.1 330.7h1.4M1679 332.8h0.7M1668.8 320.6h1M1677.2 326.3h1.5M1722.8 330.7h0.6M1697.2 333.5h1.4M1716.2 313.7h0.8M1687.2 332.1h1.2M1688.8 324.7h1.5M1647.5 332.2h1.4M1734.7 319.5h1.6M1679.8 333.4h1.5M1724.1 332.2h1.5M1663 312.6h1.5M1691.6 332.7h1M1743 318h1.4M1739.5 319.6h1.2M1664.4 318h0.8M1717.3 315h0.5M1714.7 318.7h1.6M1754.5 331.7h1.2M1689.1 318.4h0.5M1657.1 331h1.6M1680.1 329.9h0.6M1655.3 324.2h0.7M1742.4 321h0.5M1723.8 317.9h1.1M1652.5 331.6h1.3M1666.6 332.9h0.5M1740.7 330.7h1.4M1646.5 331.5h1.2M1711.8 328.2h1.2M1709.8 323.8h0.9M1688.4 322.9h0.6M1721.5 310.7h0.5M1687.1 329h0.7M1659.8 327.5h1.2M1712.9 312h0.9M1738.6 332.7h1.3M1686.1 324.4h1.6M1679 332.6h1.2M1738.9 333h1.3M1659.5 316.7h1.4M1739.1 330.7h1M1719.6 316.6h0.5M1729.1 330.7h1.1M1737.4 311h1.4M1712.4 313h0.6M1709.3 326.9h1.3M1725.4 323h1M1711 329.5h0.6M1665.1 326.5h1.1M1677.4 323.2h0.8M1656.2 319.1h1M1713.2 327.1h0.6M1678 322.6h0.6M1704.3 327.4h0.6M1734.3 322.7h1.5M1733.9 323.7h1.1M1720.7 326.2h0.9M1653.7 331.4h0.9M1654.1 323h1.6M1724.7 328.7h0.8M1649.5 325.1h1.6M1678.2 313.1h0.5M1717.9 318.7h0.8M1683.8 321.7h1.2M1675.1 317.3h0.9M1713.5 324.8h0.6M1684.5 311.1h1.6M1710.2 330.4h1M1677.5 323.4h1.4M1683 329.6h1.3M1730.3 331.6h1.5M1743.2 332.5h1M1712.3 320.4h1.1M1675.4 319.1h1M1658.7 318.7h1.2M1752.2 331.4h0.7M1658.5 316.4h0.6M1723.7 326.4h1.6M1660.3 309.8h0.8M1658.1 331.2h1.3M1711.9 316.7h0.8M1691.1 329.3h1.1M1712 330.1h1.5M1663.4 324.4h0.9M1659.6 330h0.9M1709.3 326.4h1.5M1669.1 333.3h1.4M1701.5 329.3h0.6M1729.8 313.8h1.4M1664.4 330.1h1.1M1686.2 315.6h0.9M1675.4 332.2h0.7M1729.8 329.9h1.5M1673.9 330.6h1.2M1655.9 306.8h1.5M1688.7 328.5h1.3M1677.4 319.1h1.4M1715 332.3h0.8M1676.2 326h1.5M1686.4 332h0.6M1657.8 317.5h1.1M1687 317.6h0.9M1721.8 311.1h0.5M1718.1 326.7h1.2M1676.5 325.6h1.5M1660.6 324.8h1.1M1723.5 331.2h0.6M1688.4 328.3h1M1714.2 319.2h1.1M1683.2 333.4h1.1M1677 320.1h1M1745.1 331.2h1.5M1658.6 324.2h1.1M1669.5 317.1h1.5M1678.3 313.8h0.7M1680.6 322.8h1.3M1734.5 331.1h0.7M1720.9 326.1h0.6M1720.6 321.7h1.3M1730.9 325.2h1.2M1670.8 333.4h0.8M1717.1 325.2h0.8M1667.3 332.9h1.1M1719.1 329.9h1.4M1748.8 331.9h1.4M1682.4 328.4h1.4M1751.2 331.5h1.3M1656.6 302.1h1.5M1691.3 332.6h1M1677.8 312.2h0.9M1736.6 326.6h1.3M1705.3 333.2h1.3M1671.5 327.5h1M1754.5 332.7h0.9M1687.5 314.4h0.7M1740.4 325h0.6M1720 322.9h1.1M1725.8 325.1h0.9M1651.5 327.3h0.8M1721.8 331.2h0.9M1673 323.6h1.4M1731.8 328.7h1.3M1699.9 331.6h0.6M1675.1 327.4h0.9M1741 320.3h1.5M1734.7 322.9h1.3M1656.6 321.2h1.6M1667.6 310.5h0.8M1707.8 328.9h1.2M1657.6 333.2h1M1678.6 332.8h0.7M1699.6 332.4h1M1733.2 328.2h1.1M1717.4 307.4h1M1718.3 326.6h0.7M1653.6 325.5h0.5M1666.1 332.5h0.8M1733.7 308.2h1.3M1657.9 333.2h0.9M1744.4 320.5h0.8M1652.6 331.2h0.5M1736 332.8h0.8M1689.5 326h0.9M1681.8 324.4h1.1M1720.4 329.2h0.9M1739.6 312.1h1.6M1689.1 323.4h1.2M1693 325.6h1.2M1646.7 331.3h1.2M1738.7 313.6h1.3M1733.6 330.5h0.9M1718.9 327.8h0.8M1647.7 323.6h0.9M1718.3 320.7h0.8M1683.3 331.3h0.8M1707.5 331.5h0.5M1737.9 306.5h0.8M1675.3 321.1h1.4M1670.4 332h1.2M1706.9 321.8h1.5M1651.3 325.2h0.6M1660.1 305.8h0.7M1720.8 332.3h1.5M1646.3 331.7h1.2M1734.9 333h1.2M1669.6 331.2h0.7M1663 330.2h1.5M1711.9 311.3h0.6M1683 318.1h1.5M1685.3 314.8h0.6M1656.6 328.3h1M1731.1 322.4h0.6M1727.8 320.3h1.5M1705.4 333.1h1.4M1666 315.8h1.1M1681.7 326.4h0.7M1710.3 333h0.6M1718.4 322.5h0.6M1681.4 309.1h0.6M1711.7 310.7h1.5M1674.1 332h0.6M1711.8 317.7h0.9M1655.6 319.6h0.8M1695.5 330.9h0.7M1655.3 331.7h0.9M1683 318.2h1.3M1722.9 332.7h0.7M1719.7 316.9h1.5M1657.2 308.7h1.4M1709.1 314.4h0.9M1755.1 332.7h1.4M1663.7 327.4h1.4M1715 322.9h0.9M1723.3 319.7h0.6M1735.5 333.2h1.6M1675 332.7h1.4M1707.4 321.5h0.6M1712.3 331.8h1.1M1722.7 326.4h0.6M1678 321h0.9M1716 331.4h1.4M1669.6 329.9h0.6M1661.8 327.5h1.2M1753.7 331.4h1.6M1718.9 314h1.6M1679.8 324.4h0.6M1709.3 331.3h1.6M1744.3 323.6h1.6M1709.1 329.3h1.6M1651.4 320.5h1.1M1670.1 317.7h1.5M1662.6 318.3h1.5M1659.8 321.5h0.6M1703.2 332.9h1.1M1661.3 325.1h1.6M1731.7 322.6h1.4M1731.5 331.5h0.9M1726.5 313.9h0.9M1657.2 320.9h0.8M1746.5 322.9h0.7M1654.7 329.6h0.9M1686.4 310.6h1M1663.6 313.5h1M1716.7 316h1.3M1664.6 325.1h1.1M1722.5 322.4h1M1737.8 332.3h1.1M1742.2 330.6h0.9M1739.9 319.8h1.2M1654.3 316.7h1.4M1716.4 312.9h0.6M1702.2 333.3h1.5M1689.3 322.7h0.8M1714.8 330.4h1.3M1730.5 314.6h1.2M1658.2 317.7h1.6M1714.2 315.9h0.9M1648.5 331.5h1.1M1647.7 332h0.8M1722 316h0.6M1676.4 332.1h1.3M1733.2 313.7h1.2M1740.3 317h0.8M1709.3 311.1h1.3M1681.1 326.6h1M1752.3 332.7h1.4M1713.2 313.7h1" stroke="#fff" stroke-width="1.6" stroke-linecap="round" opacity="0.9"/><polygon points="1647.5,358.5 1709.5,358.5 1709.5,387 1647.5,387 1643.5,373" fill="#000" opacity="1"/><circle cx="1709.5" cy="373" r="19" fill="#000"/><path d="M1487.6 342.3h0.8M1633.2 366.7h0.8M1508.4 384.2h1M1647.4 339.4h0.6M1563.1 373h1M1604.5 382.5h0.5M1596.9 375h0.9M1487 365.7h0.6M1553.2 375.6h1M1572.8 351.5h0.7M1580.1 338.9h0.8M1578.6 386.5h0.9M1610.6 341.9h0.6M1531.2 385.6h1M1546.5 397.6h0.4M1528 378.3h1M1606.3 406.4h1.1M1530.8 410h0.5M1581 351.2h0.5M1539.4 391.2h0.9M1512.9 363h1.1M1583.9 400.4h1.1M1506 339h1M1619.8 360.1h1M1600 361.8h0.9M1615.4 375.8h0.8M1519.8 341h0.4M1616.5 414.2h1M1628.1 372.3h0.5M1636.2 378.4h0.8M1604.6 353.6h1.1M1578.8 383.8h0.6M1579.9 411.1h0.5M1522.4 391h0.9M1567.2 395.3h0.8M1520.6 359.7h0.6M1546.8 347.3h1M1542.8 350.5h0.5M1564.6 340.5h0.7M1510 373.1h0.5M1526.7 411.6h0.4M1569.7 400.7h0.9M1510.3 359.5h0.8M1606.3 408.5h0.8M1509.6 337.8h0.8M1629.6 355.4h0.9M1609.4 335.2h0.5M1566.9 353.2h0.5M1593.3 346.9h0.8M1649.2 337.7h0.6M1503.4 373.1h0.9M1610.7 360.2h0.6M1575.5 378.2h0.5M1635.5 399.2h0.9M1500.9 379.3h0.5M1638.4 349.5h0.5M1570.8 374.5h0.7M1605.7 379.8h0.7M1629.9 351.7h0.8M1498.2 398.2h0.5M1579.3 391.2h0.5M1501.4 375.3h0.8M1518.8 362.2h1.1M1592.4 348.8h0.8M1530.4 337.7h0.4M1617.6 412h0.6M1606.2 396.3h0.5M1643.6 406.1h0.4M1526 393.2h0.7M1508.3 337.5h1M1640.3 370.8h0.9M1596.3 414.4h0.6M1565.2 383.6h1.1M1636.4 397.5h0.8M1542 413.4h0.9M1644.3 357.6h0.7M1561.5 368.7h1M1566.6 393.8h0.8M1634.5 401.5h0.6M1649.7 403.6h1M1598.2 370.1h0.5M1503.3 363.6h0.8M1629.4 365.3h0.9M1584.1 407.1h1M1488.7 394h0.6M1640.6 340.3h0.7M1493 384.2h0.4M1500.7 381.5h0.5M1488.4 405.3h1M1568.4 403h0.8M1629.4 343.4h0.4M1598 358.9h0.8M1608.1 375.9h0.6M1641.6 365.7h0.7M1571.5 337.9h0.8M1587.1 348.5h0.9M1560.4 410.6h0.7M1500.9 408.6h0.6M1643.1 388h0.6M1568.8 399h1M1509.2 358.5h0.5M1571 357.1h0.6M1594.2 412.7h0.5M1572.6 369.1h0.8M1540.7 349.6h0.6M1636.3 374.6h1.1M1489.9 350.1h1M1505.1 381.6h0.5M1508.9 373.1h1M1578.5 336.2h0.5M1648.7 397.8h0.8M1539.7 360.3h0.4M1524.5 402.8h0.7M1625.9 411.6h0.9M1534.5 370h0.5M1524.7 362.9h0.4M1626.2 375.1h0.6M1588.9 371.3h0.6M1549.7 370.4h0.6M1547 372.3h1M1618.6 404.1h0.7M1642.3 339.7h1M1596.4 337.1h1M1540.5 383.6h0.4M1592.7 387.7h0.6M1541.4 398.5h1M1487.4 358.9h0.8M1538.5 361.2h0.8M1625.2 399.4h0.7M1629.2 413.2h0.5M1516.9 413h0.5M1528.6 414.8h1M1519.3 367.6h1.1M1528.1 397h0.6M1556.3 410.1h0.9M1556.7 412h1M1641.1 377.1h0.5M1538.7 349.5h0.6M1511.9 388.8h0.9M1490.4 400.2h1M1569.8 413.5h0.5M1492.9 344.4h0.5M1611.9 385.3h0.5M1621.7 392.1h0.8M1530.8 365.8h1.1M1585.8 339.5h0.7M1578.9 390.2h0.8M1521.9 389.4h0.8M1595.9 413.9h1M1538.9 396h0.5M1543.4 339.6h1M1523.2 401.5h0.8M1621 390.5h0.5M1606.9 399.9h0.7M1615 360.7h0.5M1569.8 340.8h0.7M1637.8 403.7h0.9M1551.6 346.8h0.8M1501 396.5h1M1501.2 360.5h0.8M1549.9 390.6h0.4M1610.1 388.1h0.6M1499.9 345.7h0.5M1562.6 347.4h0.4M1547.8 338.4h0.4M1619.7 382.9h0.6M1533.8 368h0.7M1587.4 348.8h0.8M1590.7 403.8h1M1612 381.8h0.4M1633.1 387.1h0.8M1545.9 342h0.5M1634.8 372.1h0.7M1633.4 373.8h0.6M1552.3 374.7h0.8M1602.7 338.3h0.9M1603 408.7h0.6M1507.1 413.1h0.6M1624.7 408.6h0.9M1533.4 375.9h0.8M1531.6 381.4h1.1M1582.3 383.1h0.7M1528.6 402.9h0.5M1564.1 384.3h1.1M1515.1 411h0.9M1494.9 360.7h0.5M1630.2 387.6h1M1494.6 370h1M1509.8 362.3h0.8M1628.3 352.5h0.6M1493.7 380.6h0.9M1494 345.3h0.7M1589.4 338.7h1M1577 384.5h0.8M1548.5 382.6h0.7M1607.3 376.1h0.4M1548.4 340.1h1M1499.6 370.4h0.9M1555 336.9h0.5M1554.2 355.1h1M1522.5 411.1h0.9M1524.6 368.7h0.8M1513.5 407.4h0.5M1598 375.6h1M1501.3 346.1h0.8M1528.4 354.9h0.6M1612 377.6h0.5M1592.1 347.9h0.4M1531 366h0.7M1525.9 346.9h1M1504.8 377h1M1544.4 387.9h0.6M1592.9 340.9h1.1M1640.8 411.8h0.9M1561.7 384.5h1M1631.7 374.4h0.6M1518.3 358.3h0.9M1500.9 384.1h0.4M1614.2 352.8h0.7M1626.9 394.7h0.5M1596.1 365.8h1.1M1524.6 384.3h0.7M1568.8 385.9h0.7M1614.4 384.9h0.6M1521 387.1h0.8M1513.3 369.5h1M1555 358.7h0.8M1496.5 363.5h1M1492.8 345.8h0.6M1523.1 338.2h0.8M1586.5 336.9h0.9M1576.3 385.5h0.6M1590 414.9h1M1547.5 336.7h0.7M1610.9 368h0.8M1598.1 369.7h0.6M1609.1 372.5h0.8M1542.6 378.6h0.8M1622.1 391.2h0.8M1625 396.4h0.9M1502.9 409.2h0.7M1530.7 394.8h0.5M1588 339.4h0.9M1614.3 393.1h0.8M1614.2 351.7h0.7M1577.8 357.3h1M1638.7 379.9h0.4M1539.1 393.3h0.8M1604.2 379.7h1M1627 411h0.7M1608.6 401.3h0.6M1641 343.3h0.7M1499.5 405.6h0.9M1495.7 361.8h0.9M1522.7 349.9h0.6M1551.1 375.2h0.6M1534.3 408.2h0.4M1519.5 351.6h0.7M1591.7 373.8h1.1M1565.7 343.5h0.5M1584.4 342.4h0.9M1602.1 355.2h1.1M1644.9 363.6h0.5M1563 358.2h1M1508.2 374.3h0.7M1620.5 367.1h0.5M1489.8 369.2h0.7M1553.3 393.6h0.6M1573.3 343.7h0.4M1555.1 389.9h0.6M1641.3 341h0.5M1526.6 351.8h0.5M1514.9 413.3h0.6M1631.2 407h0.7M1613.5 394.8h0.8M1581.6 383.3h0.5M1590.2 383.4h1M1612.3 374.3h0.8M1532.3 353.9h0.5M1584 358.8h0.6M1605.4 406.6h0.5M1647.2 363.4h0.7M1597.6 407.7h1M1624.5 384h0.8M1488.1 378h0.4M1634.6 357.6h0.8M1496.6 400.5h0.5M1497 359h0.9M1583.3 358.2h0.7M1488.5 349.7h0.5M1643.1 350.3h0.9M1592.4 341.3h0.9M1617.8 396h0.5M1497.4 387.4h1.1M1604.9 336.4h0.9M1504.1 351.2h0.7M1600.2 362.7h0.6M1608.1 362.6h0.7M1501.2 357.2h0.9M1489.4 376.7h0.6M1593.4 354.5h0.7M1593.2 409.6h0.5M1569.2 384.4h0.4M1509 352.5h0.7M1487.5 352.1h0.7M1616.6 412h1M1502.7 342.5h0.8M1571.6 345h0.8M1638.6 373.4h0.7M1541.4 384.9h1.1M1582.7 362.7h0.9M1574.6 383.5h0.7M1502.6 395.9h0.6M1497.7 364.3h0.6M1602.9 336.8h1M1582.8 343.2h0.9M1553.1 382.7h0.6M1511.6 361.8h0.8M1647.4 388.2h0.8M1608.9 395.3h0.7M1494.5 405h0.5M1514.3 359.5h0.9M1556.2 368.2h0.5M1613.7 394h0.8M1633.3 338h1M1613.4 373.2h0.7M1647.4 398.3h1.1M1493.2 394.5h0.6M1492.7 400.6h1M1615.2 378.4h0.8M1502.2 388.2h0.6M1620.7 341.5h0.5M1530.2 377.6h0.6M1548.9 374.4h0.5M1574.2 336.6h0.7M1584.8 377h0.4M1572.2 407.4h0.7M1530.8 401.3h1M1617.9 372.3h0.6M1506 385.5h0.5M1594.4 346.1h0.7M1592.5 386.7h0.6M1582.9 406.7h0.9M1560.5 338.2h0.5M1519.6 337.3h0.9M1589.8 338.7h1.1M1561.9 407h0.5M1595.9 410h0.9M1532.5 409.8h0.6M1551.4 374.4h0.6M1630.6 372.6h0.5M1540.1 395.1h1M1497.1 394.4h1M1487.4 378.4h1M1589.2 409.8h0.9M1527.3 403.1h0.7M1505.8 366.5h0.4M1631.4 336.7h1M1513.6 341h0.9M1579.3 377.6h0.6M1549.2 368.5h1M1576.1 404.8h0.8M1541.9 345.9h0.8M1596 336.8h0.7M1596.6 357.3h1.1M1578.5 395.3h0.5M1623.2 362.8h0.5M1559.5 350.2h0.7M1635.3 366.4h0.5M1605.7 363.1h0.8M1617.8 355.8h0.6M1505.3 387.5h0.4M1637.4 340.2h1M1614.2 395.3h1.1M1548.4 391.3h0.8M1487.1 378.6h0.9M1537 357.5h0.5M1492.1 348.7h0.4M1491.2 359.5h0.8M1603 346.6h1M1624.7 371.5h0.5M1578.5 336.4h0.5M1586.4 363h1M1586.6 390h1M1568.1 367.4h0.9M1503.8 349.4h0.5M1613.3 384.7h0.5M1630.4 347h0.5M1540.9 397.5h0.8M1649.2 394.1h0.9M1604.7 394.6h0.8M1642.9 394.1h0.8M1586.8 374h0.6M1595.8 401.5h0.9M1495.9 366.1h0.7M1647.6 358.9h0.6M1497.7 337.5h0.6M1555.2 379.6h0.4M1641.8 402h0.5M1560.2 392.8h0.5M1524.7 353.4h0.8M1607.7 399.1h0.6M1491.1 342.9h0.7M1502.1 358.2h1M1565.3 359h0.7M1624 414.2h0.9M1501.4 400.4h1M1560 347.8h0.9M1619.6 413.4h1M1525.1 348.4h1.1M1628 389.2h0.4M1506.9 381.1h1.1M1606.4 380.8h0.8M1563.8 402.5h0.7M1631.6 370.1h0.7M1648.2 387.9h0.7M1488.8 368.7h0.6M1553.9 338.6h0.7M1547.9 399.8h0.6M1607.8 382h0.8M1615.7 405.4h0.5M1532.8 338h0.8M1495.8 358.4h1M1552.3 367.2h0.6M1615.5 375.9h0.7M1627.2 347.9h0.4M1633 398.1h0.9M1618.1 376.8h0.5M1518.5 391.8h0.5M1585 367.4h1M1612 363.5h0.5M1575.8 385.9h0.4M1565.5 346.5h0.6M1608.7 408.7h0.5M1543.7 376h1.1M1632.6 398.6h0.5M1610.1 389.1h0.4M1554.3 375.8h0.5M1512.7 367.7h0.4M1541.6 376.2h0.6M1571.9 406.4h0.7M1549.7 389.4h1M1506.7 401.2h1M1636.1 350.1h1M1541.5 363.1h0.6M1615.8 385.6h0.5M1536.4 381.4h1M1586.2 388.2h0.6M1625.9 384.3h0.8M1533.2 380.7h0.6M1551.9 410.3h0.7M1518 368h0.6M1602.5 352h0.9M1562.6 368.2h0.8M1646.4 382.5h0.5M1539.3 346.5h0.8M1635.2 339.9h0.6M1505.6 377.3h1M1511.7 401.3h0.7M1574.5 383.1h1.1M1640.5 413.4h0.8M1643 397.9h0.8M1583.8 359.8h0.5M1561.6 355.2h0.4M1639 351.8h1.1M1568.7 355.7h0.7M1502.1 379.3h0.6M1487.4 352.6h0.7M1636.4 352.6h1M1558.6 362.7h0.7M1570.6 360.7h0.8M1610.3 405.9h0.7M1581.9 346.9h0.8M1630.7 350.2h0.5M1488.1 355.2h0.7M1576.2 366.2h1.1M1579.2 405.2h0.6M1527.1 378.2h0.4M1602.3 360.5h0.9M1570.9 402.3h0.5M1640.1 413.5h0.7M1581.2 335.4h0.8M1555.6 397.3h0.9M1601.9 414h0.4M1542.6 384h1M1539 397.3h1M1566.7 390.8h0.9M1595.4 402.4h0.4M1622.6 339.2h0.8M1545.5 377.1h1M1533.6 375.3h0.9M1574.3 379.5h0.8M1645.9 341.5h0.7M1619.7 338.1h0.9M1545.1 349.2h0.9M1598.8 393.6h0.9M1609 414.3h1M1497.7 341.8h0.9M1541.5 361.7h1M1526.6 368.2h1.1" stroke="#fff" stroke-width="1.1" stroke-linecap="round" opacity="0.55"/><ellipse cx="1795" cy="350" rx="75" ry="62" fill="url(#gw)" opacity="1"/><path d="M1795 351L1765 390" stroke="#4a4a4a" stroke-width="21" stroke-linecap="butt"/><circle cx="1795" cy="350.5" r="15.5" fill="#3a3a3a"/></g><rect x="1275.4" y="44.7" width="21.6" height="21.6" fill="none" stroke="#1010e0" stroke-width="1.5"/><rect x="1298.3" y="29.2" width="35.1" height="23.8" fill="none" stroke="#1010e0" stroke-width="1.5"/><rect x="1284" y="53.8" width="6" height="4.5" fill="none" stroke="#1e1" stroke-width="1.4" transform="rotate(-20 1287 56)"/><rect x="1314.5" y="41.5" width="12" height="4" fill="none" stroke="#1e1" stroke-width="1.6"/><rect x="1302" y="46.5" width="2" height="3" fill="none" stroke="#1e1" stroke-width="1.6"/><rect x="1300.5" y="60.5" width="5" height="11" fill="none" stroke="#e20" stroke-width="1.5"/><rect x="1321" y="57.5" width="22" height="9" fill="none" stroke="#e20" stroke-width="1.5" transform="rotate(15 1332 62)"/><rect x="1346" y="41.5" width="5" height="4" fill="none" stroke="#e20" stroke-width="1.5"/><rect x="1380.5" y="66.5" width="5" height="11" fill="none" stroke="#e20" stroke-width="1.6" transform="rotate(10 1383 72)"/><rect x="1408" y="86" width="6" height="12" fill="none" stroke="#2d2" stroke-width="1.4" transform="rotate(10 1411 92)"/><rect x="1408.5" y="87.5" width="5" height="11" fill="none" stroke="#e20" stroke-width="1.3" transform="rotate(10 1411 93)"/><rect x="1406.5" y="102" width="7" height="16" fill="none" stroke="#e20" stroke-width="1.4" transform="rotate(10 1410 110)"/><rect x="1801.9" y="8.3" width="22.2" height="11.6" fill="none" stroke="#1010e0" stroke-width="1.5"/><rect x="1854.5" y="19.9" width="21.9" height="12.6" fill="none" stroke="#1010e0" stroke-width="1.5"/><rect x="1896.9" y="34.1" width="18.9" height="32.1" fill="none" stroke="#1010e0" stroke-width="1.5"/><rect x="1896.9" y="96" width="18.9" height="24.8" fill="none" stroke="#1010e0" stroke-width="1.5"/><rect x="1808" y="12" width="10" height="3" fill="none" stroke="#1e1" stroke-width="2.2" transform="rotate(35 1813 13.5)"/><rect x="1861" y="24.5" width="9" height="3" fill="none" stroke="#1e1" stroke-width="2.2" transform="rotate(-35 1865.5 26)"/><rect x="1901" y="38" width="10.5" height="24" fill="none" stroke="#1e1" stroke-width="1.6"/><rect x="1903.3" y="103" width="6" height="11" fill="none" stroke="#e20" stroke-width="1.6" transform="rotate(-40 1906.3 108.5)"/><rect x="1771.1" y="59" width="29" height="13" fill="none" stroke="#e20" stroke-width="1.7" transform="rotate(-52 1785.6 65.5)"/><rect x="1489.5" y="98.2" width="29" height="12.5" fill="none" stroke="#e20" stroke-width="1.7" transform="rotate(-8 1504 104.4)"/><rect x="1489.5" y="99" width="27" height="9" fill="none" stroke="#1e1" stroke-width="1.2" transform="rotate(-8 1503 103.5)"/><circle cx="1577" cy="54.7" r="2.6" fill="none" stroke="#e00" stroke-width="1.6"/><circle cx="1763" cy="42.7" r="2.6" fill="none" stroke="#e00" stroke-width="1.6"/><circle cx="1747.6" cy="126.5" r="2.6" fill="none" stroke="#e00" stroke-width="1.6"/><circle cx="1711" cy="138" r="2.6" fill="none" stroke="#e00" stroke-width="1.6"/><circle cx="1686" cy="126.6" r="2.6" fill="none" stroke="#e00" stroke-width="1.6"/><rect x="1280.4" y="184.1" width="30.5" height="22.9" fill="none" stroke="#1010e0" stroke-width="1.5"/><rect x="1312.5" y="181.5" width="20.5" height="14.9" fill="none" stroke="#1010e0" stroke-width="1.5"/><rect x="1343" y="180.5" width="17.5" height="15.2" fill="none" stroke="#1010e0" stroke-width="1.5"/><rect x="1318.2" y="187.2" width="9" height="3.5" fill="none" stroke="#1e1" stroke-width="1.6"/><circle cx="1294" cy="201" r="4" fill="#e20"/><rect x="1349.2" y="186" width="5" height="4" fill="none" stroke="#e20" stroke-width="2.2"/><rect x="1301" y="209" width="4" height="10" fill="none" stroke="#e20" stroke-width="1.4"/><rect x="1319" y="203" width="22" height="10" fill="none" stroke="#e20" stroke-width="1.5" transform="rotate(15 1330 208)"/><rect x="1327" y="237" width="21" height="36" fill="none" stroke="#e20" stroke-width="1.6"/><path d="M1327 244H1348M1327 259H1348" stroke="#e20" stroke-width="1.3"/><rect x="1380.5" y="214.5" width="5" height="11" fill="none" stroke="#e20" stroke-width="1.6" transform="rotate(10 1383 220)"/><rect x="1410" y="234" width="6" height="12" fill="none" stroke="#2d2" stroke-width="1.4" transform="rotate(10 1413 240)"/><rect x="1410.5" y="235.5" width="5" height="11" fill="none" stroke="#e20" stroke-width="1.3" transform="rotate(10 1413 241)"/><rect x="1407.5" y="249" width="7" height="16" fill="none" stroke="#e20" stroke-width="1.4" transform="rotate(10 1411 257)"/><rect x="1486.5" y="236" width="40" height="28.5" fill="none" stroke="#1010e0" stroke-width="1.5"/><rect x="1492" y="243" width="28" height="12" fill="none" stroke="#e20" stroke-width="1.7" transform="rotate(-5 1506 249)"/><rect x="1491.5" y="245" width="27" height="10" fill="none" stroke="#1e1" stroke-width="1.2" transform="rotate(-5 1505 250)"/><rect x="1681" y="219.5" width="24" height="13" fill="none" stroke="#e20" stroke-width="1.6"/><path d="M1681.5 219.5V232.5" stroke="#1e1" stroke-width="1.6"/><rect x="1800" y="153.6" width="85.8" height="29.6" fill="none" stroke="#1010e0" stroke-width="1.5"/><rect x="1891.5" y="175.9" width="28.3" height="41.3" fill="none" stroke="#1010e0" stroke-width="1.5"/><rect x="1892.8" y="243.5" width="25.4" height="22.9" fill="none" stroke="#1010e0" stroke-width="1.5"/><rect x="1900.1" y="185.5" width="11" height="22" fill="none" stroke="#1e1" stroke-width="1.6"/><rect x="1899.5" y="252.5" width="12" height="5" fill="none" stroke="#e20" stroke-width="1.7"/><rect x="1817" y="162.5" width="10" height="3" fill="none" stroke="#1e1" stroke-width="2.4" transform="rotate(30 1822 164)"/><rect x="1818" y="162" width="6" height="4" fill="none" stroke="#e20" stroke-width="2.4"/><rect x="1867" y="169.5" width="14" height="3" fill="none" stroke="#e20" stroke-width="2.4" transform="rotate(-35 1874 171)"/><rect x="1863" y="173.5" width="6" height="3" fill="none" stroke="#1e1" stroke-width="2.4" transform="rotate(-35 1866 175)"/><rect x="1773.5" y="206" width="29" height="12" fill="none" stroke="#e20" stroke-width="1.6" transform="rotate(-52 1788 212)"/><circle cx="1577" cy="200" r="2.6" fill="none" stroke="#e00" stroke-width="1.6"/><circle cx="1765" cy="190" r="2.6" fill="none" stroke="#e00" stroke-width="1.6"/><circle cx="1687" cy="270.5" r="2.6" fill="none" stroke="#e00" stroke-width="1.6"/><circle cx="1746" cy="272" r="2.6" fill="none" stroke="#e00" stroke-width="1.6"/><circle cx="1711" cy="285" r="2.6" fill="none" stroke="#e00" stroke-width="1.6"/><rect x="1298" y="345.5" width="4" height="9" fill="none" stroke="#e20" stroke-width="1.4"/><rect x="1303.5" y="343" width="3" height="8" fill="none" stroke="#e20" stroke-width="1.4"/><circle cx="1287" cy="351" r="2.5" fill="#2d2"/><rect x="1317" y="337" width="4" height="8" fill="none" stroke="#e20" stroke-width="1.4"/><rect x="1315.5" y="331" width="9" height="6" fill="none" stroke="#e20" stroke-width="1.5"/><rect x="1304" y="354.5" width="4" height="11" fill="none" stroke="#e20" stroke-width="1.4"/><rect x="1321" y="350" width="22" height="10" fill="none" stroke="#e20" stroke-width="1.5" transform="rotate(15 1332 355)"/><rect x="1338" y="331.5" width="6" height="5" fill="none" stroke="#e20" stroke-width="1.6"/><rect x="1327.5" y="380.5" width="21" height="37" fill="none" stroke="#e20" stroke-width="1.6"/><path d="M1328 387H1349M1328 402H1349" stroke="#e20" stroke-width="1.3"/><rect x="1381.5" y="360.5" width="5" height="11" fill="none" stroke="#e20" stroke-width="1.6" transform="rotate(10 1384 366)"/><rect x="1411" y="378" width="6" height="12" fill="none" stroke="#2d2" stroke-width="1.4" transform="rotate(10 1414 384)"/><rect x="1410.5" y="379.5" width="5" height="11" fill="none" stroke="#e20" stroke-width="1.3" transform="rotate(10 1413 385)"/><rect x="1407.5" y="394" width="7" height="16" fill="none" stroke="#e20" stroke-width="1.4" transform="rotate(10 1411 402)"/><rect x="1750" y="323.3" width="67.5" height="62.5" fill="none" stroke="#2020f0" stroke-width="1.5"/><rect x="1892.8" y="320.6" width="28.4" height="46.6" fill="none" stroke="#1010e0" stroke-width="1.5"/><rect x="1774" y="357" width="28" height="10" fill="none" stroke="#e20" stroke-width="1.6" transform="rotate(-52 1788 362)"/><rect x="1903" y="334" width="10" height="22" fill="none" stroke="#e20" stroke-width="1.6" transform="rotate(15 1908 345)"/><rect x="1902" y="335" width="8" height="20" fill="none" stroke="#1e1" stroke-width="1.2" transform="rotate(15 1906 345)"/><rect x="1906.5" y="396" width="13" height="8" fill="none" stroke="#e20" stroke-width="1.6" transform="rotate(10 1913 400)"/><rect x="1685" y="372.5" width="24" height="13" fill="none" stroke="#e20" stroke-width="1.7"/><rect x="1493" y="391" width="28" height="12" fill="none" stroke="#e20" stroke-width="1.7" transform="rotate(-5 1507 397)"/><rect x="1492.5" y="393" width="27" height="10" fill="none" stroke="#1e1" stroke-width="1.2" transform="rotate(-5 1506 398)"/><circle cx="1580" cy="348" r="2.6" fill="none" stroke="#e00" stroke-width="1.6"/><circle cx="1640" cy="341" r="2.6" fill="none" stroke="#e00" stroke-width="1.6"/><circle cx="1766" cy="336" r="2.6" fill="none" stroke="#e00" stroke-width="1.6"/><circle cx="1818" cy="307" r="2.6" fill="none" stroke="#e00" stroke-width="1.6"/><circle cx="1814" cy="305" r="1.2" fill="#0c0"/><circle cx="1868" cy="319" r="2.6" fill="none" stroke="#e00" stroke-width="1.6"/><circle cx="1864" cy="321" r="1.2" fill="#0c0"/><circle cx="1688" cy="419" r="2.6" fill="none" stroke="#e00" stroke-width="1.6"/><circle cx="1690" cy="427" r="2.6" fill="none" stroke="#e00" stroke-width="1.6"/><circle cx="1748" cy="422" r="2.6" fill="none" stroke="#e00" stroke-width="1.6"/><rect x="1192" y="296.5" width="731" height="3.4" fill="#d4d4d4"/><text x="1197.6" y="143" font-size="24.3" fill="#f00" stroke="#f00" stroke-width="0.5" textLength="98.6" lengthAdjust="spacingAndGlyphs">No Fusion</text><text x="1199.2" y="289" font-size="23.8" fill="#f00" stroke="#f00" stroke-width="0.5" textLength="140.7" lengthAdjust="spacingAndGlyphs">Where2Comm</text><text x="1198.9" y="437.8" font-size="24.3" fill="#f00" stroke="#f00" stroke-width="0.5" textLength="123.5" lengthAdjust="spacingAndGlyphs">Select2Drive</text><text x="1801.9" y="82.7" font-size="24.4" fill="#f00" stroke="#f00" stroke-width="0.5" textLength="95" lengthAdjust="spacingAndGlyphs">Sheltered</text><text x="1767" y="134.6" font-size="24.05" fill="#f00" stroke="#f00" stroke-width="0.5" textLength="125.8" lengthAdjust="spacingAndGlyphs">Out of Scope</text><text x="1798.6" y="237" font-size="24.6" fill="#f00" stroke="#f00" stroke-width="0.5" textLength="88.7" lengthAdjust="spacingAndGlyphs">Deviated</text><text x="1770.7" y="414.8" font-size="24.2" fill="#f00" stroke="#f00" stroke-width="0.5" textLength="115" lengthAdjust="spacingAndGlyphs">Forecasted!</text></svg></div>
</body></html>
